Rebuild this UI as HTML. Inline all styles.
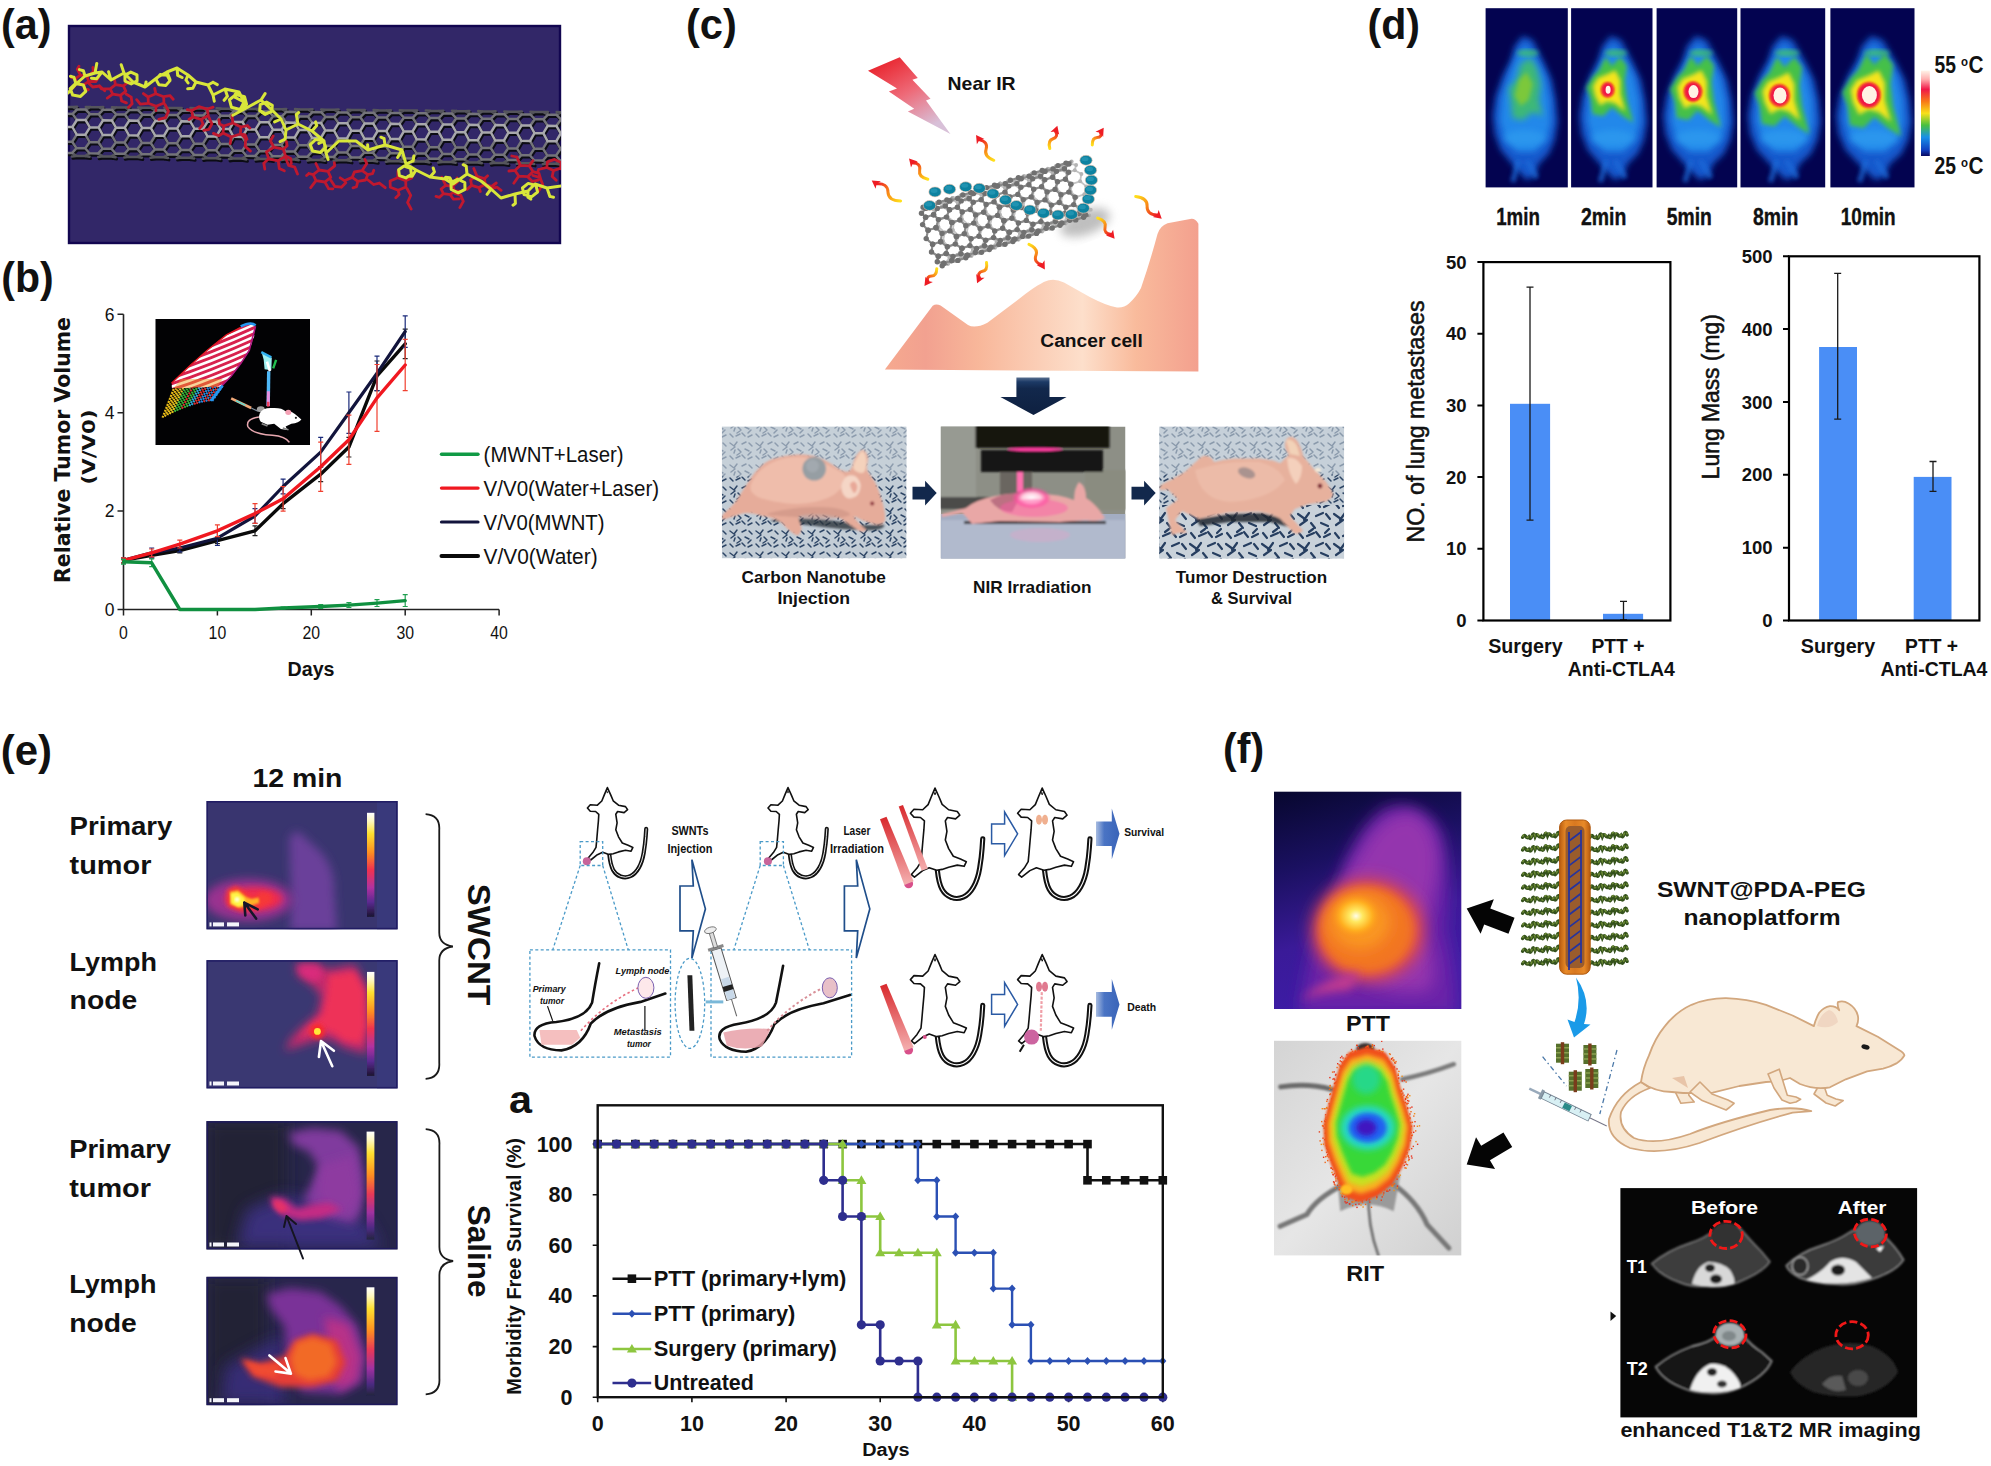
<!DOCTYPE html>
<html><head><meta charset="utf-8"><title>Figure</title>
<style>
html,body{margin:0;padding:0;background:#fff;}
svg{display:block;}
text{font-family:"Liberation Sans",sans-serif;fill:#111;}
.b{font-weight:bold;}
text.dj{font-family:"DejaVu Sans","Liberation Sans",sans-serif;}
</style></head><body>
<svg width="1991" height="1466" viewBox="0 0 1991 1466">
<defs>
<filter id="bl1" x="-10%" y="-10%" width="120%" height="120%"><feGaussianBlur stdDeviation="1"/></filter>
<filter id="bl2" x="-20%" y="-20%" width="140%" height="140%"><feGaussianBlur stdDeviation="2"/></filter>
<filter id="bl3" x="-20%" y="-20%" width="140%" height="140%"><feGaussianBlur stdDeviation="3"/></filter>
<filter id="bl5" x="-30%" y="-30%" width="160%" height="160%"><feGaussianBlur stdDeviation="5"/></filter>
<filter id="bl8" x="-40%" y="-40%" width="180%" height="180%"><feGaussianBlur stdDeviation="8"/></filter>
<filter id="bl12" x="-50%" y="-50%" width="200%" height="200%"><feGaussianBlur stdDeviation="12"/></filter>
<filter id="bl04" x="-5%" y="-5%" width="110%" height="110%"><feGaussianBlur stdDeviation="0.45"/></filter>
</defs>
<rect width="1991" height="1466" fill="#fff"/>
<g id="panel-a">
<text class="b" x="1.0" y="38.7" font-size="43" textLength="50.5" lengthAdjust="spacingAndGlyphs">(a)</text>
<clipPath id="clipA"><rect x="68" y="25" width="493" height="219"/></clipPath>
<rect x="68" y="25" width="493" height="219" fill="#322768"/>
<rect x="69" y="26" width="491" height="217" fill="none" stroke="#120650" stroke-width="2.4"/>
<g clip-path="url(#clipA)">
<path d="M59.6 109.3L64.0 106.9 M50.9 109.2L59.6 109.3 M50.9 109.2L46.5 106.7 M46.5 106.7L50.9 106.5 M64.0 106.9L59.6 106.6 M59.4 119.8L63.9 113.8 M50.7 119.7L59.4 119.8 M50.7 119.7L46.4 113.6 M46.4 113.6L50.9 109.2 M63.9 113.8L59.6 109.3 M59.2 134.4L63.7 126.9 M50.5 134.2L59.2 134.4 M50.5 134.2L46.3 126.7 M46.3 126.7L50.7 119.7 M63.7 126.9L59.4 119.8 M59.1 147.9L63.5 141.7 M50.3 147.8L59.1 147.9 M50.3 147.8L46.1 141.4 M46.1 141.4L50.5 134.2 M63.5 141.7L59.2 134.4 M59.0 155.6L63.3 152.8 M50.2 155.5L59.0 155.6 M50.2 155.5L45.9 152.5 M45.9 152.5L50.3 147.8 M63.3 152.8L59.1 147.9 M45.9 156.1L50.2 155.5 M63.3 156.4L59.0 155.6 M72.7 107.0L77.1 106.8 M64.0 106.9L72.7 107.0 M72.6 113.9L77.0 109.5 M63.9 113.8L72.6 113.9 M77.0 109.5L72.7 107.0 M72.4 127.0L76.9 120.0 M63.7 126.9L72.4 127.0 M76.9 120.0L72.6 113.9 M72.2 141.8L76.7 134.6 M63.5 141.7L72.2 141.8 M76.7 134.6L72.4 127.0 M72.1 153.0L76.5 148.2 M63.3 152.8L72.1 153.0 M76.5 148.2L72.2 141.8 M72.0 156.5L76.4 155.9 M76.4 155.9L72.1 153.0 M85.7 109.6L90.1 107.1 M77.0 109.5L85.7 109.6 M90.1 107.1L85.8 106.9 M85.6 120.1L90.0 114.1 M76.9 120.0L85.6 120.1 M90.0 114.1L85.7 109.6 M85.4 134.7L89.9 127.3 M76.7 134.6L85.4 134.7 M89.9 127.3L85.6 120.1 M85.2 148.3L89.7 142.1 M76.5 148.2L85.2 148.3 M89.7 142.1L85.4 134.7 M85.1 156.1L89.5 153.2 M76.4 155.9L85.1 156.1 M89.5 153.2L85.2 148.3 M89.5 156.8L85.1 156.1 M98.9 107.2L103.2 107.1 M90.1 107.1L98.9 107.2 M98.8 114.2L103.2 109.7 M90.0 114.1L98.8 114.2 M103.2 109.7L98.9 107.2 M98.6 127.4L103.0 120.3 M89.9 127.3L98.6 127.4 M103.0 120.3L98.8 114.2 M98.4 142.2L102.8 135.0 M89.7 142.1L98.4 142.2 M102.8 135.0L98.6 127.4 M98.2 153.4L102.7 148.6 M89.5 153.2L98.2 153.4 M102.7 148.6L98.4 142.2 M98.2 157.0L102.5 156.3 M102.5 156.3L98.2 153.4 M111.9 109.8L116.3 107.4 M103.2 109.7L111.9 109.8 M116.3 107.4L111.9 107.2 M111.8 120.4L116.2 114.4 M103.0 120.3L111.8 120.4 M116.2 114.4L111.9 109.8 M111.6 135.1L116.0 127.6 M102.8 135.0L111.6 135.1 M116.0 127.6L111.8 120.4 M111.4 148.7L115.8 142.4 M102.7 148.6L111.4 148.7 M115.8 142.4L111.6 135.1 M111.3 156.5L115.7 153.6 M102.5 156.3L111.3 156.5 M115.7 153.6L111.4 148.7 M115.6 157.2L111.3 156.5 M125.0 107.5L129.4 107.3 M116.3 107.4L125.0 107.5 M124.9 114.5L129.3 110.0 M116.2 114.4L124.9 114.5 M129.3 110.0L125.0 107.5 M124.7 127.7L129.2 120.6 M116.0 127.6L124.7 127.7 M129.2 120.6L124.9 114.5 M124.5 142.6L129.0 135.3 M115.8 142.4L124.5 142.6 M129.0 135.3L124.7 127.7 M124.4 153.8L128.8 149.0 M115.7 153.6L124.4 153.8 M128.8 149.0L124.5 142.6 M124.3 157.4L128.7 156.8 M128.7 156.8L124.4 153.8 M138.1 110.1L142.5 107.7 M129.3 110.0L138.1 110.1 M142.5 107.7L138.1 107.4 M137.9 120.7L142.4 114.7 M129.2 120.6L137.9 120.7 M142.4 114.7L138.1 110.1 M137.7 135.5L142.2 127.9 M129.0 135.3L137.7 135.5 M142.2 127.9L137.9 120.7 M137.5 149.1L142.0 142.8 M128.8 149.0L137.5 149.1 M142.0 142.8L137.7 135.5 M137.4 156.9L141.8 154.1 M128.7 156.8L137.4 156.9 M141.8 154.1L137.5 149.1 M141.8 157.7L137.4 156.9 M151.2 107.8L155.5 107.6 M142.5 107.7L151.2 107.8 M151.1 114.8L155.5 110.3 M142.4 114.7L151.1 114.8 M155.5 110.3L151.2 107.8 M150.9 128.1L155.4 120.9 M142.2 127.9L150.9 128.1 M155.4 120.9L151.1 114.8 M150.7 143.0L155.2 135.7 M142.0 142.8L150.7 143.0 M155.2 135.7L150.9 128.1 M150.5 154.2L155.0 149.4 M141.8 154.1L150.5 154.2 M155.0 149.4L150.7 143.0 M150.5 157.8L154.9 157.2 M154.9 157.2L150.5 154.2 M164.2 110.4L168.6 108.0 M155.5 110.3L164.2 110.4 M168.6 108.0L164.3 107.7 M164.1 121.0L168.5 115.0 M155.4 120.9L164.1 121.0 M168.5 115.0L164.2 110.4 M163.9 135.8L168.3 128.3 M155.2 135.7L163.9 135.8 M168.3 128.3L164.1 121.0 M163.7 149.5L168.1 143.2 M155.0 149.4L163.7 149.5 M168.1 143.2L163.9 135.8 M163.6 157.3L168.0 154.5 M154.9 157.2L163.6 157.3 M168.0 154.5L163.7 149.5 M167.9 158.1L163.6 157.3 M177.3 108.1L181.7 107.9 M168.6 108.0L177.3 108.1 M177.2 115.1L181.7 110.6 M168.5 115.0L177.2 115.1 M181.7 110.6L177.3 108.1 M177.1 128.4L181.5 121.3 M168.3 128.3L177.1 128.4 M181.5 121.3L177.2 115.1 M176.8 143.3L181.3 136.1 M168.1 143.2L176.8 143.3 M181.3 136.1L177.1 128.4 M176.7 154.6L181.1 149.8 M168.0 154.5L176.7 154.6 M181.1 149.8L176.8 143.3 M176.6 158.2L181.0 157.6 M181.0 157.6L176.7 154.6 M190.4 110.7L194.8 108.3 M181.7 110.6L190.4 110.7 M194.8 108.3L190.4 108.0 M190.2 121.4L194.7 115.3 M181.5 121.3L190.2 121.4 M194.7 115.3L190.4 110.7 M190.0 136.2L194.5 128.6 M181.3 136.1L190.0 136.2 M194.5 128.6L190.2 121.4 M189.8 149.9L194.3 143.6 M181.1 149.8L189.8 149.9 M194.3 143.6L190.0 136.2 M189.7 157.8L194.1 154.9 M181.0 157.6L189.7 157.8 M194.1 154.9L189.8 149.9 M194.1 158.5L189.7 157.8 M203.5 108.4L207.8 108.2 M194.8 108.3L203.5 108.4 M203.4 115.4L207.8 110.9 M194.7 115.3L203.4 115.4 M207.8 110.9L203.5 108.4 M203.2 128.7L207.7 121.6 M194.5 128.6L203.2 128.7 M207.7 121.6L203.4 115.4 M203.0 143.7L207.5 136.4 M194.3 143.6L203.0 143.7 M207.5 136.4L203.2 128.7 M202.9 155.0L207.3 150.2 M194.1 154.9L202.9 155.0 M207.3 150.2L203.0 143.7 M202.8 158.7L207.2 158.0 M207.2 158.0L202.9 155.0 M216.5 111.0L220.9 108.6 M207.8 110.9L216.5 111.0 M220.9 108.6L216.6 108.3 M216.4 121.7L220.8 115.6 M207.7 121.6L216.4 121.7 M220.8 115.6L216.5 111.0 M216.2 136.6L220.6 129.0 M207.5 136.4L216.2 136.6 M220.6 129.0L216.4 121.7 M216.0 150.3L220.4 144.0 M207.3 150.2L216.0 150.3 M220.4 144.0L216.2 136.6 M215.9 158.2L220.3 155.3 M207.2 158.0L215.9 158.2 M220.3 155.3L216.0 150.3 M220.2 159.0L215.9 158.2 M229.6 108.7L234.0 108.5 M220.9 108.6L229.6 108.7 M229.5 115.7L234.0 111.2 M220.8 115.6L229.5 115.7 M234.0 111.2L229.6 108.7 M229.4 129.1L233.8 121.9 M220.6 129.0L229.4 129.1 M233.8 121.9L229.5 115.7 M229.2 144.1L233.6 136.8 M220.4 144.0L229.2 144.1 M233.6 136.8L229.4 129.1 M229.0 155.5L233.4 150.6 M220.3 155.3L229.0 155.5 M233.4 150.6L229.2 144.1 M229.0 159.1L233.3 158.5 M233.3 158.5L229.0 155.5 M242.7 111.3L247.1 108.8 M234.0 111.2L242.7 111.3 M247.1 108.8L242.7 108.6 M242.5 122.0L247.0 115.9 M233.8 121.9L242.5 122.0 M247.0 115.9L242.7 111.3 M242.3 136.9L246.8 129.3 M233.6 136.8L242.3 136.9 M246.8 129.3L242.5 122.0 M242.2 150.8L246.6 144.4 M233.4 150.6L242.2 150.8 M246.6 144.4L242.3 136.9 M242.0 158.6L246.4 155.7 M233.3 158.5L242.0 158.6 M246.4 155.7L242.2 150.8 M246.4 159.4L242.0 158.6 M255.8 108.9L260.2 108.8 M247.1 108.8L255.8 108.9 M255.7 116.0L260.1 111.5 M247.0 115.9L255.7 116.0 M260.1 111.5L255.8 108.9 M255.5 129.4L260.0 122.2 M246.8 129.3L255.5 129.4 M260.0 122.2L255.7 116.0 M255.3 144.5L259.8 137.2 M246.6 144.4L255.3 144.5 M259.8 137.2L255.5 129.4 M255.2 155.9L259.6 151.0 M246.4 155.7L255.2 155.9 M259.6 151.0L255.3 144.5 M255.1 159.5L259.5 158.9 M259.5 158.9L255.2 155.9 M268.8 111.6L273.2 109.1 M260.1 111.5L268.8 111.6 M273.2 109.1L268.9 108.9 M268.7 122.3L273.1 116.2 M260.0 122.2L268.7 122.3 M273.1 116.2L268.8 111.6 M268.5 137.3L273.0 129.7 M259.8 137.2L268.5 137.3 M273.0 129.7L268.7 122.3 M268.3 151.2L272.8 144.8 M259.6 151.0L268.3 151.2 M272.8 144.8L268.5 137.3 M268.2 159.0L272.6 156.2 M259.5 158.9L268.2 159.0 M272.6 156.2L268.3 151.2 M272.6 159.8L268.2 159.0 M282.0 109.2L286.3 109.0 M273.2 109.1L282.0 109.2 M281.9 116.3L286.3 111.8 M273.1 116.2L281.9 116.3 M286.3 111.8L282.0 109.2 M281.7 129.8L286.1 122.5 M273.0 129.7L281.7 129.8 M286.1 122.5L281.9 116.3 M281.5 144.9L285.9 137.5 M272.8 144.8L281.5 144.9 M285.9 137.5L281.7 129.8 M281.3 156.3L285.7 151.4 M272.6 156.2L281.3 156.3 M285.7 151.4L281.5 144.9 M281.3 160.0L285.6 159.3 M285.6 159.3L281.3 156.3 M295.0 111.9L299.4 109.4 M286.3 111.8L295.0 111.9 M299.4 109.4L295.0 109.1 M294.9 122.7L299.3 116.5 M286.1 122.5L294.9 122.7 M299.3 116.5L295.0 111.9 M294.7 137.6L299.1 130.0 M285.9 137.5L294.7 137.6 M299.1 130.0L294.9 122.7 M294.5 151.6L298.9 145.1 M285.7 151.4L294.5 151.6 M298.9 145.1L294.7 137.6 M294.4 159.5L298.8 156.6 M285.6 159.3L294.4 159.5 M298.8 156.6L294.5 151.6 M298.7 160.2L294.4 159.5 M308.1 109.5L312.5 109.3 M299.4 109.4L308.1 109.5 M308.0 116.6L312.4 112.1 M299.3 116.5L308.0 116.6 M312.4 112.1L308.1 109.5 M307.8 130.1L312.3 122.9 M299.1 130.0L307.8 130.1 M312.3 122.9L308.0 116.6 M307.6 145.3L312.1 137.9 M298.9 145.1L307.6 145.3 M312.1 137.9L307.8 130.1 M307.5 156.7L311.9 151.8 M298.8 156.6L307.5 156.7 M311.9 151.8L307.6 145.3 M307.4 160.4L311.8 159.7 M311.8 159.7L307.5 156.7 M321.2 112.2L325.6 109.7 M312.4 112.1L321.2 112.2 M325.6 109.7L321.2 109.4 M321.0 123.0L325.5 116.8 M312.3 122.9L321.0 123.0 M325.5 116.8L321.2 112.2 M320.8 138.0L325.3 130.3 M312.1 137.9L320.8 138.0 M325.3 130.3L321.0 123.0 M320.6 152.0L325.1 145.5 M311.9 151.8L320.6 152.0 M325.1 145.5L320.8 138.0 M320.5 159.9L324.9 157.0 M311.8 159.7L320.5 159.9 M324.9 157.0L320.6 152.0 M324.9 160.7L320.5 159.9 M334.3 109.8L338.6 109.6 M325.6 109.7L334.3 109.8 M334.2 116.9L338.6 112.4 M325.5 116.8L334.2 116.9 M338.6 112.4L334.3 109.8 M334.0 130.5L338.5 123.2 M325.3 130.3L334.0 130.5 M338.5 123.2L334.2 116.9 M333.8 145.7L338.3 138.3 M325.1 145.5L333.8 145.7 M338.3 138.3L334.0 130.5 M333.6 157.1L338.1 152.2 M324.9 157.0L333.6 157.1 M338.1 152.2L333.8 145.7 M333.6 160.8L338.0 160.2 M338.0 160.2L333.6 157.1 M347.3 112.5L351.7 110.0 M338.6 112.4L347.3 112.5 M351.7 110.0L347.4 109.7 M347.2 123.3L351.6 117.1 M338.5 123.2L347.2 123.3 M351.6 117.1L347.3 112.5 M347.0 138.4L351.4 130.7 M338.3 138.3L347.0 138.4 M351.4 130.7L347.2 123.3 M346.8 152.4L351.2 145.9 M338.1 152.2L346.8 152.4 M351.2 145.9L347.0 138.4 M346.7 160.3L351.1 157.4 M338.0 160.2L346.7 160.3 M351.1 157.4L346.8 152.4 M351.0 161.1L346.7 160.3 M360.4 110.1L364.8 109.9 M351.7 110.0L360.4 110.1 M360.3 117.2L364.8 112.7 M351.6 117.1L360.3 117.2 M364.8 112.7L360.4 110.1 M360.2 130.8L364.6 123.5 M351.4 130.7L360.2 130.8 M364.6 123.5L360.3 117.2 M359.9 146.0L364.4 138.6 M351.2 145.9L359.9 146.0 M364.4 138.6L360.2 130.8 M359.8 157.5L364.2 152.6 M351.1 157.4L359.8 157.5 M364.2 152.6L359.9 146.0 M359.7 161.2L364.1 160.6 M364.1 160.6L359.8 157.5 M373.5 112.7L377.9 110.3 M364.8 112.7L373.5 112.7 M377.9 110.3L373.5 110.0 M373.3 123.6L377.8 117.4 M364.6 123.5L373.3 123.6 M377.8 117.4L373.5 112.7 M373.1 138.7L377.6 131.0 M364.4 138.6L373.1 138.7 M377.6 131.0L373.3 123.6 M372.9 152.8L377.4 146.3 M364.2 152.6L372.9 152.8 M377.4 146.3L373.1 138.7 M372.8 160.7L377.2 157.8 M364.1 160.6L372.8 160.7 M377.2 157.8L372.9 152.8 M377.2 161.5L372.8 160.7 M386.6 110.4L391.0 110.2 M377.9 110.3L386.6 110.4 M386.5 117.5L390.9 112.9 M377.8 117.4L386.5 117.5 M390.9 112.9L386.6 110.4 M386.3 131.1L390.8 123.8 M377.6 131.0L386.3 131.1 M390.8 123.8L386.5 117.5 M386.1 146.4L390.6 139.0 M377.4 146.3L386.1 146.4 M390.6 139.0L386.3 131.1 M385.9 158.0L390.4 153.0 M377.2 157.8L385.9 158.0 M390.4 153.0L386.1 146.4 M385.9 161.7L390.3 161.0 M390.3 161.0L385.9 158.0 M399.6 113.0L404.0 110.5 M390.9 112.9L399.6 113.0 M404.0 110.5L399.7 110.3 M399.5 123.9L403.9 117.7 M390.8 123.8L399.5 123.9 M403.9 117.7L399.6 113.0 M399.3 139.1L403.8 131.4 M390.6 139.0L399.3 139.1 M403.8 131.4L399.5 123.9 M399.1 153.2L403.5 146.7 M390.4 153.0L399.1 153.2 M403.5 146.7L399.3 139.1 M399.0 161.2L403.4 158.2 M390.3 161.0L399.0 161.2 M403.4 158.2L399.1 153.2 M403.3 162.0L399.0 161.2 M412.8 110.6L417.1 110.5 M404.0 110.5L412.8 110.6 M412.7 117.8L417.1 113.2 M403.9 117.7L412.7 117.8 M417.1 113.2L412.8 110.6 M412.5 131.5L416.9 124.2 M403.8 131.4L412.5 131.5 M416.9 124.2L412.7 117.8 M412.3 146.8L416.7 139.3 M403.5 146.7L412.3 146.8 M416.7 139.3L412.5 131.5 M412.1 158.4L416.5 153.4 M403.4 158.2L412.1 158.4 M416.5 153.4L412.3 146.8 M412.1 162.1L416.4 161.5 M416.4 161.5L412.1 158.4 M425.8 113.3L430.2 110.8 M417.1 113.2L425.8 113.3 M430.2 110.8L425.8 110.6 M425.7 124.3L430.1 118.0 M416.9 124.2L425.7 124.3 M430.1 118.0L425.8 113.3 M425.4 139.5L429.9 131.7 M416.7 139.3L425.4 139.5 M429.9 131.7L425.7 124.3 M425.3 153.6L429.7 147.1 M416.5 153.4L425.3 153.6 M429.7 147.1L425.4 139.5 M425.1 161.6L429.5 158.7 M416.4 161.5L425.1 161.6 M429.5 158.7L425.3 153.6 M429.5 162.4L425.1 161.6 M438.9 110.9L443.3 110.7 M430.2 110.8L438.9 110.9 M438.8 118.1L443.2 113.5 M430.1 118.0L438.8 118.1 M443.2 113.5L438.9 110.9 M438.6 131.8L443.1 124.5 M429.9 131.7L438.6 131.8 M443.1 124.5L438.8 118.1 M438.4 147.2L442.9 139.7 M429.7 147.1L438.4 147.2 M442.9 139.7L438.6 131.8 M438.3 158.8L442.7 153.8 M429.5 158.7L438.3 158.8 M442.7 153.8L438.4 147.2 M438.2 162.5L442.6 161.9 M442.6 161.9L438.3 158.8 M452.0 113.6L456.4 111.1 M443.2 113.5L452.0 113.6 M456.4 111.1L452.0 110.8 M451.8 124.6L456.3 118.3 M443.1 124.5L451.8 124.6 M456.3 118.3L452.0 113.6 M451.6 139.8L456.1 132.1 M442.9 139.7L451.6 139.8 M456.1 132.1L451.8 124.6 M451.4 154.0L455.9 147.5 M442.7 153.8L451.4 154.0 M455.9 147.5L451.6 139.8 M451.3 162.0L455.7 159.1 M442.6 161.9L451.3 162.0 M455.7 159.1L451.4 154.0 M455.7 162.8L451.3 162.0 M465.1 111.2L469.4 111.0 M456.4 111.1L465.1 111.2 M465.0 118.4L469.4 113.8 M456.3 118.3L465.0 118.4 M469.4 113.8L465.1 111.2 M464.8 132.2L469.2 124.8 M456.1 132.1L464.8 132.2 M469.2 124.8L465.0 118.4 M464.6 147.6L469.0 140.1 M455.9 147.5L464.6 147.6 M469.0 140.1L464.8 132.2 M464.4 159.2L468.8 154.3 M455.7 159.1L464.4 159.2 M468.8 154.3L464.6 147.6 M464.4 162.9L468.7 162.3 M468.7 162.3L464.4 159.2 M478.1 113.9L482.5 111.4 M469.4 113.8L478.1 113.9 M482.5 111.4L478.2 111.1 M478.0 124.9L482.4 118.6 M469.2 124.8L478.0 124.9 M482.4 118.6L478.1 113.9 M477.8 140.2L482.2 132.4 M469.0 140.1L477.8 140.2 M482.2 132.4L478.0 124.9 M477.6 154.4L482.0 147.8 M468.8 154.3L477.6 154.4 M482.0 147.8L477.8 140.2 M477.5 162.4L481.9 159.5 M468.7 162.3L477.5 162.4 M481.9 159.5L477.6 154.4 M481.8 163.2L477.5 162.4 M491.2 111.5L495.6 111.3 M482.5 111.4L491.2 111.5 M491.1 118.7L495.6 114.1 M482.4 118.6L491.1 118.7 M495.6 114.1L491.2 111.5 M490.9 132.5L495.4 125.1 M482.2 132.4L490.9 132.5 M495.4 125.1L491.1 118.7 M490.7 148.0L495.2 140.4 M482.0 147.8L490.7 148.0 M495.2 140.4L490.9 132.5 M490.6 159.6L495.0 154.7 M481.9 159.5L490.6 159.6 M495.0 154.7L490.7 148.0 M490.5 163.4L494.9 162.7 M494.9 162.7L490.6 159.6 M504.3 114.2L508.7 111.7 M495.6 114.1L504.3 114.2 M508.7 111.7L504.3 111.4 M504.1 125.2L508.6 118.9 M495.4 125.1L504.1 125.2 M508.6 118.9L504.3 114.2 M503.9 140.6L508.4 132.7 M495.2 140.4L503.9 140.6 M508.4 132.7L504.1 125.2 M503.7 154.8L508.2 148.2 M495.0 154.7L503.7 154.8 M508.2 148.2L503.9 140.6 M503.6 162.9L508.0 159.9 M494.9 162.7L503.6 162.9 M508.0 159.9L503.7 154.8 M508.0 163.7L503.6 162.9 M517.4 111.8L521.8 111.6 M508.7 111.7L517.4 111.8 M517.3 119.0L521.7 114.4 M508.6 118.9L517.3 119.0 M521.7 114.4L517.4 111.8 M517.1 132.8L521.6 125.4 M508.4 132.7L517.1 132.8 M521.6 125.4L517.3 119.0 M516.9 148.4L521.4 140.8 M508.2 148.2L516.9 148.4 M521.4 140.8L517.1 132.8 M516.7 160.1L521.2 155.1 M508.0 159.9L516.7 160.1 M521.2 155.1L516.9 148.4 M516.7 163.8L521.1 163.2 M521.1 163.2L516.7 160.1 M530.4 114.5L534.8 112.0 M521.7 114.4L530.4 114.5 M534.8 112.0L530.5 111.7 M530.3 125.5L534.7 119.2 M521.6 125.4L530.3 125.5 M534.7 119.2L530.4 114.5 M530.1 140.9L534.5 133.1 M521.4 140.8L530.1 140.9 M534.5 133.1L530.3 125.5 M529.9 155.2L534.3 148.6 M521.2 155.1L529.9 155.2 M534.3 148.6L530.1 140.9 M529.8 163.3L534.2 160.3 M521.1 163.2L529.8 163.3 M534.2 160.3L529.9 155.2 M534.1 164.1L529.8 163.3 M543.5 112.1L547.9 111.9 M534.8 112.0L543.5 112.1 M543.4 119.3L547.9 114.7 M534.7 119.2L543.4 119.3 M547.9 114.7L543.5 112.1 M543.3 133.2L547.7 125.8 M534.5 133.1L543.3 133.2 M547.7 125.8L543.4 119.3 M543.0 148.7L547.5 141.2 M534.3 148.6L543.0 148.7 M547.5 141.2L543.3 133.2 M542.9 160.5L547.3 155.5 M534.2 160.3L542.9 160.5 M547.3 155.5L543.0 148.7 M542.8 164.2L547.2 163.6 M547.2 163.6L542.9 160.5 M556.6 114.8L561.0 112.3 M547.9 114.7L556.6 114.8 M561.0 112.3L556.6 112.0 M556.4 125.9L560.9 119.5 M547.7 125.8L556.4 125.9 M560.9 119.5L556.6 114.8 M556.2 141.3L560.7 133.4 M547.5 141.2L556.2 141.3 M560.7 133.4L556.4 125.9 M556.0 155.6L560.5 149.0 M547.3 155.5L556.0 155.6 M560.5 149.0L556.2 141.3 M555.9 163.7L560.3 160.8 M547.2 163.6L555.9 163.7 M560.3 160.8L556.0 155.6 M560.3 164.5L555.9 163.7 M569.7 112.3L574.1 112.2 M561.0 112.3L569.7 112.3 M569.6 119.6L574.0 115.0 M560.9 119.5L569.6 119.6 M574.0 115.0L569.7 112.3 M569.4 133.5L573.9 126.1 M560.7 133.4L569.4 133.5 M573.9 126.1L569.6 119.6 M569.2 149.1L573.7 141.5 M560.5 149.0L569.2 149.1 M573.7 141.5L569.4 133.5 M569.0 160.9L573.5 155.9 M560.3 160.8L569.0 160.9 M573.5 155.9L569.2 149.1 M569.0 164.7L573.4 164.0 M573.4 164.0L569.0 160.9 M582.8 115.1L587.1 112.5 M574.0 115.0L582.8 115.1 M587.1 112.5L582.8 112.3 M582.6 126.2L587.0 119.8 M573.9 126.1L582.6 126.2 M587.0 119.8L582.8 115.1 M582.4 141.7L586.9 133.8 M573.7 141.5L582.4 141.7 M586.9 133.8L582.6 126.2 M582.2 156.0L586.6 149.4 M573.5 155.9L582.2 156.0 M586.6 149.4L582.4 141.7 M582.1 164.2L586.5 161.2 M573.4 164.0L582.1 164.2 M586.5 161.2L582.2 156.0 M586.4 164.9L582.1 164.2 M595.9 112.6L600.2 112.4 M587.1 112.5L595.9 112.6 M595.8 119.9L600.2 115.3 M587.0 119.8L595.8 119.9 M600.2 115.3L595.9 112.6 M595.6 133.9L600.0 126.4 M586.9 133.8L595.6 133.9 M600.0 126.4L595.8 119.9 M595.4 149.5L599.8 141.9 M586.6 149.4L595.4 149.5 M599.8 141.9L595.6 133.9 M595.2 161.3L599.6 156.3 M586.5 161.2L595.2 161.3 M599.6 156.3L595.4 149.5 M595.2 165.1L599.5 164.4 M599.5 164.4L595.2 161.3 M613.3 112.8L608.9 115.4 M600.2 115.3L608.9 115.4 M608.9 112.5L613.3 112.8 M613.2 120.1L608.8 126.5 M600.0 126.4L608.8 126.5 M608.9 115.4L613.2 120.1 M613.0 134.1L608.5 142.0 M599.8 141.9L608.5 142.0 M608.8 126.5L613.0 134.1 M612.8 149.8L608.4 156.4 M599.6 156.3L608.4 156.4 M608.5 142.0L612.8 149.8 M612.6 161.6L608.2 164.6 M599.5 164.4L608.2 164.6 M608.4 156.4L612.6 161.6 M608.2 164.6L612.6 165.4" stroke="#0c0c14" stroke-width="3" fill="none" stroke-linecap="round" transform="translate(1,1.8)"/>
<path d="M59.6 109.3L64.0 106.9 M50.9 109.2L46.5 106.7 M46.5 106.7L50.9 106.5 M64.0 106.9L59.6 106.6 M59.0 155.6L63.3 152.8 M50.2 155.5L59.0 155.6 M50.2 155.5L45.9 152.5 M45.9 156.1L50.2 155.5 M63.3 156.4L59.0 155.6 M72.7 107.0L77.1 106.8 M64.0 106.9L72.7 107.0 M77.0 109.5L72.7 107.0 M72.0 156.5L76.4 155.9 M76.4 155.9L72.1 153.0 M85.7 109.6L90.1 107.1 M90.1 107.1L85.8 106.9 M85.1 156.1L89.5 153.2 M76.4 155.9L85.1 156.1 M89.5 156.8L85.1 156.1 M98.9 107.2L103.2 107.1 M90.1 107.1L98.9 107.2 M103.2 109.7L98.9 107.2 M98.2 157.0L102.5 156.3 M102.5 156.3L98.2 153.4 M111.9 109.8L116.3 107.4 M116.3 107.4L111.9 107.2 M111.3 156.5L115.7 153.6 M102.5 156.3L111.3 156.5 M115.6 157.2L111.3 156.5 M125.0 107.5L129.4 107.3 M116.3 107.4L125.0 107.5 M129.3 110.0L125.0 107.5 M124.3 157.4L128.7 156.8 M128.7 156.8L124.4 153.8 M138.1 110.1L142.5 107.7 M142.5 107.7L138.1 107.4 M137.4 156.9L141.8 154.1 M128.7 156.8L137.4 156.9 M141.8 157.7L137.4 156.9 M151.2 107.8L155.5 107.6 M142.5 107.7L151.2 107.8 M155.5 110.3L151.2 107.8 M150.5 157.8L154.9 157.2 M154.9 157.2L150.5 154.2 M164.2 110.4L168.6 108.0 M168.6 108.0L164.3 107.7 M163.6 157.3L168.0 154.5 M154.9 157.2L163.6 157.3 M167.9 158.1L163.6 157.3 M177.3 108.1L181.7 107.9 M168.6 108.0L177.3 108.1 M181.7 110.6L177.3 108.1 M176.6 158.2L181.0 157.6 M181.0 157.6L176.7 154.6 M190.4 110.7L194.8 108.3 M194.8 108.3L190.4 108.0 M189.7 157.8L194.1 154.9 M181.0 157.6L189.7 157.8 M194.1 158.5L189.7 157.8 M203.5 108.4L207.8 108.2 M194.8 108.3L203.5 108.4 M207.8 110.9L203.5 108.4 M202.8 158.7L207.2 158.0 M207.2 158.0L202.9 155.0 M216.5 111.0L220.9 108.6 M220.9 108.6L216.6 108.3 M215.9 158.2L220.3 155.3 M207.2 158.0L215.9 158.2 M220.2 159.0L215.9 158.2 M229.6 108.7L234.0 108.5 M220.9 108.6L229.6 108.7 M234.0 111.2L229.6 108.7 M229.0 159.1L233.3 158.5 M233.3 158.5L229.0 155.5 M242.7 111.3L247.1 108.8 M247.1 108.8L242.7 108.6 M242.0 158.6L246.4 155.7 M233.3 158.5L242.0 158.6 M246.4 159.4L242.0 158.6 M255.8 108.9L260.2 108.8 M247.1 108.8L255.8 108.9 M260.1 111.5L255.8 108.9 M255.1 159.5L259.5 158.9 M259.5 158.9L255.2 155.9 M268.8 111.6L273.2 109.1 M273.2 109.1L268.9 108.9 M268.2 159.0L272.6 156.2 M259.5 158.9L268.2 159.0 M272.6 159.8L268.2 159.0 M282.0 109.2L286.3 109.0 M273.2 109.1L282.0 109.2 M286.3 111.8L282.0 109.2 M281.3 160.0L285.6 159.3 M285.6 159.3L281.3 156.3 M295.0 111.9L299.4 109.4 M299.4 109.4L295.0 109.1 M294.4 159.5L298.8 156.6 M285.6 159.3L294.4 159.5 M298.7 160.2L294.4 159.5 M308.1 109.5L312.5 109.3 M299.4 109.4L308.1 109.5 M312.4 112.1L308.1 109.5 M307.4 160.4L311.8 159.7 M311.8 159.7L307.5 156.7 M321.2 112.2L325.6 109.7 M325.6 109.7L321.2 109.4 M320.5 159.9L324.9 157.0 M311.8 159.7L320.5 159.9 M324.9 160.7L320.5 159.9 M334.3 109.8L338.6 109.6 M325.6 109.7L334.3 109.8 M338.6 112.4L334.3 109.8 M333.6 160.8L338.0 160.2 M338.0 160.2L333.6 157.1 M347.3 112.5L351.7 110.0 M351.7 110.0L347.4 109.7 M346.7 160.3L351.1 157.4 M338.0 160.2L346.7 160.3 M351.0 161.1L346.7 160.3 M360.4 110.1L364.8 109.9 M351.7 110.0L360.4 110.1 M364.8 112.7L360.4 110.1 M359.7 161.2L364.1 160.6 M364.1 160.6L359.8 157.5 M373.5 112.7L377.9 110.3 M377.9 110.3L373.5 110.0 M372.8 160.7L377.2 157.8 M364.1 160.6L372.8 160.7 M377.2 161.5L372.8 160.7 M386.6 110.4L391.0 110.2 M377.9 110.3L386.6 110.4 M390.9 112.9L386.6 110.4 M385.9 161.7L390.3 161.0 M390.3 161.0L385.9 158.0 M399.6 113.0L404.0 110.5 M404.0 110.5L399.7 110.3 M399.0 161.2L403.4 158.2 M390.3 161.0L399.0 161.2 M403.3 162.0L399.0 161.2 M412.8 110.6L417.1 110.5 M404.0 110.5L412.8 110.6 M417.1 113.2L412.8 110.6 M412.1 162.1L416.4 161.5 M416.4 161.5L412.1 158.4 M425.8 113.3L430.2 110.8 M430.2 110.8L425.8 110.6 M425.1 161.6L429.5 158.7 M416.4 161.5L425.1 161.6 M429.5 162.4L425.1 161.6 M438.9 110.9L443.3 110.7 M430.2 110.8L438.9 110.9 M443.2 113.5L438.9 110.9 M438.2 162.5L442.6 161.9 M442.6 161.9L438.3 158.8 M452.0 113.6L456.4 111.1 M456.4 111.1L452.0 110.8 M451.3 162.0L455.7 159.1 M442.6 161.9L451.3 162.0 M455.7 162.8L451.3 162.0 M465.1 111.2L469.4 111.0 M456.4 111.1L465.1 111.2 M469.4 113.8L465.1 111.2 M464.4 162.9L468.7 162.3 M468.7 162.3L464.4 159.2 M478.1 113.9L482.5 111.4 M482.5 111.4L478.2 111.1 M477.5 162.4L481.9 159.5 M468.7 162.3L477.5 162.4 M481.8 163.2L477.5 162.4 M491.2 111.5L495.6 111.3 M482.5 111.4L491.2 111.5 M495.6 114.1L491.2 111.5 M490.5 163.4L494.9 162.7 M494.9 162.7L490.6 159.6 M504.3 114.2L508.7 111.7 M508.7 111.7L504.3 111.4 M503.6 162.9L508.0 159.9 M494.9 162.7L503.6 162.9 M508.0 163.7L503.6 162.9 M517.4 111.8L521.8 111.6 M508.7 111.7L517.4 111.8 M521.7 114.4L517.4 111.8 M516.7 163.8L521.1 163.2 M521.1 163.2L516.7 160.1 M530.4 114.5L534.8 112.0 M534.8 112.0L530.5 111.7 M529.8 163.3L534.2 160.3 M521.1 163.2L529.8 163.3 M534.1 164.1L529.8 163.3 M543.5 112.1L547.9 111.9 M534.8 112.0L543.5 112.1 M547.9 114.7L543.5 112.1 M542.8 164.2L547.2 163.6 M547.2 163.6L542.9 160.5 M556.6 114.8L561.0 112.3 M561.0 112.3L556.6 112.0 M555.9 163.7L560.3 160.8 M547.2 163.6L555.9 163.7 M560.3 164.5L555.9 163.7 M569.7 112.3L574.1 112.2 M561.0 112.3L569.7 112.3 M574.0 115.0L569.7 112.3 M569.0 164.7L573.4 164.0 M573.4 164.0L569.0 160.9 M582.8 115.1L587.1 112.5 M587.1 112.5L582.8 112.3 M582.1 164.2L586.5 161.2 M573.4 164.0L582.1 164.2 M586.4 164.9L582.1 164.2 M595.9 112.6L600.2 112.4 M587.1 112.5L595.9 112.6 M600.2 115.3L595.9 112.6 M595.2 165.1L599.5 164.4 M599.5 164.4L595.2 161.3 M613.3 112.8L608.9 115.4 M608.9 112.5L613.3 112.8 M612.6 161.6L608.2 164.6 M599.5 164.4L608.2 164.6 M608.2 164.6L612.6 165.4" stroke="#55555c" stroke-width="2.5" fill="none" stroke-linecap="round"/>
<path d="M50.9 109.2L59.6 109.3 M59.4 119.8L63.9 113.8 M50.7 119.7L46.4 113.6 M46.4 113.6L50.9 109.2 M63.9 113.8L59.6 109.3 M59.1 147.9L63.5 141.7 M50.3 147.8L59.1 147.9 M50.3 147.8L46.1 141.4 M46.1 141.4L50.5 134.2 M63.5 141.7L59.2 134.4 M45.9 152.5L50.3 147.8 M63.3 152.8L59.1 147.9 M72.6 113.9L77.0 109.5 M63.9 113.8L72.6 113.9 M76.9 120.0L72.6 113.9 M72.2 141.8L76.7 134.6 M63.5 141.7L72.2 141.8 M72.1 153.0L76.5 148.2 M63.3 152.8L72.1 153.0 M76.5 148.2L72.2 141.8 M77.0 109.5L85.7 109.6 M85.6 120.1L90.0 114.1 M90.0 114.1L85.7 109.6 M85.2 148.3L89.7 142.1 M76.5 148.2L85.2 148.3 M89.7 142.1L85.4 134.7 M89.5 153.2L85.2 148.3 M98.8 114.2L103.2 109.7 M90.0 114.1L98.8 114.2 M103.0 120.3L98.8 114.2 M98.4 142.2L102.8 135.0 M89.7 142.1L98.4 142.2 M98.2 153.4L102.7 148.6 M89.5 153.2L98.2 153.4 M102.7 148.6L98.4 142.2 M103.2 109.7L111.9 109.8 M111.8 120.4L116.2 114.4 M116.2 114.4L111.9 109.8 M111.4 148.7L115.8 142.4 M102.7 148.6L111.4 148.7 M115.8 142.4L111.6 135.1 M115.7 153.6L111.4 148.7 M124.9 114.5L129.3 110.0 M116.2 114.4L124.9 114.5 M129.2 120.6L124.9 114.5 M124.5 142.6L129.0 135.3 M115.8 142.4L124.5 142.6 M124.4 153.8L128.8 149.0 M115.7 153.6L124.4 153.8 M128.8 149.0L124.5 142.6 M129.3 110.0L138.1 110.1 M137.9 120.7L142.4 114.7 M142.4 114.7L138.1 110.1 M137.5 149.1L142.0 142.8 M128.8 149.0L137.5 149.1 M142.0 142.8L137.7 135.5 M141.8 154.1L137.5 149.1 M151.1 114.8L155.5 110.3 M142.4 114.7L151.1 114.8 M155.4 120.9L151.1 114.8 M150.7 143.0L155.2 135.7 M142.0 142.8L150.7 143.0 M150.5 154.2L155.0 149.4 M141.8 154.1L150.5 154.2 M155.0 149.4L150.7 143.0 M155.5 110.3L164.2 110.4 M164.1 121.0L168.5 115.0 M168.5 115.0L164.2 110.4 M163.7 149.5L168.1 143.2 M155.0 149.4L163.7 149.5 M168.1 143.2L163.9 135.8 M168.0 154.5L163.7 149.5 M177.2 115.1L181.7 110.6 M168.5 115.0L177.2 115.1 M181.5 121.3L177.2 115.1 M176.8 143.3L181.3 136.1 M168.1 143.2L176.8 143.3 M176.7 154.6L181.1 149.8 M168.0 154.5L176.7 154.6 M181.1 149.8L176.8 143.3 M181.7 110.6L190.4 110.7 M190.2 121.4L194.7 115.3 M194.7 115.3L190.4 110.7 M189.8 149.9L194.3 143.6 M181.1 149.8L189.8 149.9 M194.3 143.6L190.0 136.2 M194.1 154.9L189.8 149.9 M203.4 115.4L207.8 110.9 M194.7 115.3L203.4 115.4 M207.7 121.6L203.4 115.4 M203.0 143.7L207.5 136.4 M194.3 143.6L203.0 143.7 M202.9 155.0L207.3 150.2 M194.1 154.9L202.9 155.0 M207.3 150.2L203.0 143.7 M207.8 110.9L216.5 111.0 M216.4 121.7L220.8 115.6 M220.8 115.6L216.5 111.0 M216.0 150.3L220.4 144.0 M207.3 150.2L216.0 150.3 M220.4 144.0L216.2 136.6 M220.3 155.3L216.0 150.3 M229.5 115.7L234.0 111.2 M220.8 115.6L229.5 115.7 M233.8 121.9L229.5 115.7 M229.2 144.1L233.6 136.8 M220.4 144.0L229.2 144.1 M229.0 155.5L233.4 150.6 M220.3 155.3L229.0 155.5 M233.4 150.6L229.2 144.1 M234.0 111.2L242.7 111.3 M242.5 122.0L247.0 115.9 M247.0 115.9L242.7 111.3 M242.2 150.8L246.6 144.4 M233.4 150.6L242.2 150.8 M246.6 144.4L242.3 136.9 M246.4 155.7L242.2 150.8 M255.7 116.0L260.1 111.5 M247.0 115.9L255.7 116.0 M260.0 122.2L255.7 116.0 M255.3 144.5L259.8 137.2 M246.6 144.4L255.3 144.5 M255.2 155.9L259.6 151.0 M246.4 155.7L255.2 155.9 M259.6 151.0L255.3 144.5 M260.1 111.5L268.8 111.6 M268.7 122.3L273.1 116.2 M273.1 116.2L268.8 111.6 M268.3 151.2L272.8 144.8 M259.6 151.0L268.3 151.2 M272.8 144.8L268.5 137.3 M272.6 156.2L268.3 151.2 M281.9 116.3L286.3 111.8 M273.1 116.2L281.9 116.3 M286.1 122.5L281.9 116.3 M281.5 144.9L285.9 137.5 M272.8 144.8L281.5 144.9 M281.3 156.3L285.7 151.4 M272.6 156.2L281.3 156.3 M285.7 151.4L281.5 144.9 M286.3 111.8L295.0 111.9 M294.9 122.7L299.3 116.5 M299.3 116.5L295.0 111.9 M294.5 151.6L298.9 145.1 M285.7 151.4L294.5 151.6 M298.9 145.1L294.7 137.6 M298.8 156.6L294.5 151.6 M308.0 116.6L312.4 112.1 M299.3 116.5L308.0 116.6 M312.3 122.9L308.0 116.6 M307.6 145.3L312.1 137.9 M298.9 145.1L307.6 145.3 M307.5 156.7L311.9 151.8 M298.8 156.6L307.5 156.7 M311.9 151.8L307.6 145.3 M312.4 112.1L321.2 112.2 M321.0 123.0L325.5 116.8 M325.5 116.8L321.2 112.2 M320.6 152.0L325.1 145.5 M311.9 151.8L320.6 152.0 M325.1 145.5L320.8 138.0 M324.9 157.0L320.6 152.0 M334.2 116.9L338.6 112.4 M325.5 116.8L334.2 116.9 M338.5 123.2L334.2 116.9 M333.8 145.7L338.3 138.3 M325.1 145.5L333.8 145.7 M333.6 157.1L338.1 152.2 M324.9 157.0L333.6 157.1 M338.1 152.2L333.8 145.7 M338.6 112.4L347.3 112.5 M347.2 123.3L351.6 117.1 M351.6 117.1L347.3 112.5 M346.8 152.4L351.2 145.9 M338.1 152.2L346.8 152.4 M351.2 145.9L347.0 138.4 M351.1 157.4L346.8 152.4 M360.3 117.2L364.8 112.7 M351.6 117.1L360.3 117.2 M364.6 123.5L360.3 117.2 M359.9 146.0L364.4 138.6 M351.2 145.9L359.9 146.0 M359.8 157.5L364.2 152.6 M351.1 157.4L359.8 157.5 M364.2 152.6L359.9 146.0 M364.8 112.7L373.5 112.7 M373.3 123.6L377.8 117.4 M377.8 117.4L373.5 112.7 M372.9 152.8L377.4 146.3 M364.2 152.6L372.9 152.8 M377.4 146.3L373.1 138.7 M377.2 157.8L372.9 152.8 M386.5 117.5L390.9 112.9 M377.8 117.4L386.5 117.5 M390.8 123.8L386.5 117.5 M386.1 146.4L390.6 139.0 M377.4 146.3L386.1 146.4 M385.9 158.0L390.4 153.0 M377.2 157.8L385.9 158.0 M390.4 153.0L386.1 146.4 M390.9 112.9L399.6 113.0 M399.5 123.9L403.9 117.7 M403.9 117.7L399.6 113.0 M399.1 153.2L403.5 146.7 M390.4 153.0L399.1 153.2 M403.5 146.7L399.3 139.1 M403.4 158.2L399.1 153.2 M412.7 117.8L417.1 113.2 M403.9 117.7L412.7 117.8 M416.9 124.2L412.7 117.8 M412.3 146.8L416.7 139.3 M403.5 146.7L412.3 146.8 M412.1 158.4L416.5 153.4 M403.4 158.2L412.1 158.4 M416.5 153.4L412.3 146.8 M417.1 113.2L425.8 113.3 M425.7 124.3L430.1 118.0 M430.1 118.0L425.8 113.3 M425.3 153.6L429.7 147.1 M416.5 153.4L425.3 153.6 M429.7 147.1L425.4 139.5 M429.5 158.7L425.3 153.6 M438.8 118.1L443.2 113.5 M430.1 118.0L438.8 118.1 M443.1 124.5L438.8 118.1 M438.4 147.2L442.9 139.7 M429.7 147.1L438.4 147.2 M438.3 158.8L442.7 153.8 M429.5 158.7L438.3 158.8 M442.7 153.8L438.4 147.2 M443.2 113.5L452.0 113.6 M451.8 124.6L456.3 118.3 M456.3 118.3L452.0 113.6 M451.4 154.0L455.9 147.5 M442.7 153.8L451.4 154.0 M455.9 147.5L451.6 139.8 M455.7 159.1L451.4 154.0 M465.0 118.4L469.4 113.8 M456.3 118.3L465.0 118.4 M469.2 124.8L465.0 118.4 M464.6 147.6L469.0 140.1 M455.9 147.5L464.6 147.6 M464.4 159.2L468.8 154.3 M455.7 159.1L464.4 159.2 M468.8 154.3L464.6 147.6 M469.4 113.8L478.1 113.9 M478.0 124.9L482.4 118.6 M482.4 118.6L478.1 113.9 M477.6 154.4L482.0 147.8 M468.8 154.3L477.6 154.4 M482.0 147.8L477.8 140.2 M481.9 159.5L477.6 154.4 M491.1 118.7L495.6 114.1 M482.4 118.6L491.1 118.7 M495.4 125.1L491.1 118.7 M490.7 148.0L495.2 140.4 M482.0 147.8L490.7 148.0 M490.6 159.6L495.0 154.7 M481.9 159.5L490.6 159.6 M495.0 154.7L490.7 148.0 M495.6 114.1L504.3 114.2 M504.1 125.2L508.6 118.9 M508.6 118.9L504.3 114.2 M503.7 154.8L508.2 148.2 M495.0 154.7L503.7 154.8 M508.2 148.2L503.9 140.6 M508.0 159.9L503.7 154.8 M517.3 119.0L521.7 114.4 M508.6 118.9L517.3 119.0 M521.6 125.4L517.3 119.0 M516.9 148.4L521.4 140.8 M508.2 148.2L516.9 148.4 M516.7 160.1L521.2 155.1 M508.0 159.9L516.7 160.1 M521.2 155.1L516.9 148.4 M521.7 114.4L530.4 114.5 M530.3 125.5L534.7 119.2 M534.7 119.2L530.4 114.5 M529.9 155.2L534.3 148.6 M521.2 155.1L529.9 155.2 M534.3 148.6L530.1 140.9 M534.2 160.3L529.9 155.2 M543.4 119.3L547.9 114.7 M534.7 119.2L543.4 119.3 M547.7 125.8L543.4 119.3 M543.0 148.7L547.5 141.2 M534.3 148.6L543.0 148.7 M542.9 160.5L547.3 155.5 M534.2 160.3L542.9 160.5 M547.3 155.5L543.0 148.7 M547.9 114.7L556.6 114.8 M556.4 125.9L560.9 119.5 M560.9 119.5L556.6 114.8 M556.0 155.6L560.5 149.0 M547.3 155.5L556.0 155.6 M560.5 149.0L556.2 141.3 M560.3 160.8L556.0 155.6 M569.6 119.6L574.0 115.0 M560.9 119.5L569.6 119.6 M573.9 126.1L569.6 119.6 M569.2 149.1L573.7 141.5 M560.5 149.0L569.2 149.1 M569.0 160.9L573.5 155.9 M560.3 160.8L569.0 160.9 M573.5 155.9L569.2 149.1 M574.0 115.0L582.8 115.1 M582.6 126.2L587.0 119.8 M587.0 119.8L582.8 115.1 M582.2 156.0L586.6 149.4 M573.5 155.9L582.2 156.0 M586.6 149.4L582.4 141.7 M586.5 161.2L582.2 156.0 M595.8 119.9L600.2 115.3 M587.0 119.8L595.8 119.9 M600.0 126.4L595.8 119.9 M595.4 149.5L599.8 141.9 M586.6 149.4L595.4 149.5 M595.2 161.3L599.6 156.3 M586.5 161.2L595.2 161.3 M599.6 156.3L595.4 149.5 M600.2 115.3L608.9 115.4 M613.2 120.1L608.8 126.5 M608.9 115.4L613.2 120.1 M612.8 149.8L608.4 156.4 M599.6 156.3L608.4 156.4 M608.5 142.0L612.8 149.8 M608.4 156.4L612.6 161.6" stroke="#74747a" stroke-width="2.5" fill="none" stroke-linecap="round"/>
<path d="M50.7 119.7L59.4 119.8 M59.2 134.4L63.7 126.9 M50.5 134.2L59.2 134.4 M50.5 134.2L46.3 126.7 M46.3 126.7L50.7 119.7 M63.7 126.9L59.4 119.8 M72.4 127.0L76.9 120.0 M63.7 126.9L72.4 127.0 M76.7 134.6L72.4 127.0 M76.9 120.0L85.6 120.1 M85.4 134.7L89.9 127.3 M76.7 134.6L85.4 134.7 M89.9 127.3L85.6 120.1 M98.6 127.4L103.0 120.3 M89.9 127.3L98.6 127.4 M102.8 135.0L98.6 127.4 M103.0 120.3L111.8 120.4 M111.6 135.1L116.0 127.6 M102.8 135.0L111.6 135.1 M116.0 127.6L111.8 120.4 M124.7 127.7L129.2 120.6 M116.0 127.6L124.7 127.7 M129.0 135.3L124.7 127.7 M129.2 120.6L137.9 120.7 M137.7 135.5L142.2 127.9 M129.0 135.3L137.7 135.5 M142.2 127.9L137.9 120.7 M150.9 128.1L155.4 120.9 M142.2 127.9L150.9 128.1 M155.2 135.7L150.9 128.1 M155.4 120.9L164.1 121.0 M163.9 135.8L168.3 128.3 M155.2 135.7L163.9 135.8 M168.3 128.3L164.1 121.0 M177.1 128.4L181.5 121.3 M168.3 128.3L177.1 128.4 M181.3 136.1L177.1 128.4 M181.5 121.3L190.2 121.4 M190.0 136.2L194.5 128.6 M181.3 136.1L190.0 136.2 M194.5 128.6L190.2 121.4 M203.2 128.7L207.7 121.6 M194.5 128.6L203.2 128.7 M207.5 136.4L203.2 128.7 M207.7 121.6L216.4 121.7 M216.2 136.6L220.6 129.0 M207.5 136.4L216.2 136.6 M220.6 129.0L216.4 121.7 M229.4 129.1L233.8 121.9 M220.6 129.0L229.4 129.1 M233.6 136.8L229.4 129.1 M233.8 121.9L242.5 122.0 M242.3 136.9L246.8 129.3 M233.6 136.8L242.3 136.9 M246.8 129.3L242.5 122.0 M255.5 129.4L260.0 122.2 M246.8 129.3L255.5 129.4 M259.8 137.2L255.5 129.4 M260.0 122.2L268.7 122.3 M268.5 137.3L273.0 129.7 M259.8 137.2L268.5 137.3 M273.0 129.7L268.7 122.3 M281.7 129.8L286.1 122.5 M273.0 129.7L281.7 129.8 M285.9 137.5L281.7 129.8 M286.1 122.5L294.9 122.7 M294.7 137.6L299.1 130.0 M285.9 137.5L294.7 137.6 M299.1 130.0L294.9 122.7 M307.8 130.1L312.3 122.9 M299.1 130.0L307.8 130.1 M312.1 137.9L307.8 130.1 M312.3 122.9L321.0 123.0 M320.8 138.0L325.3 130.3 M312.1 137.9L320.8 138.0 M325.3 130.3L321.0 123.0 M334.0 130.5L338.5 123.2 M325.3 130.3L334.0 130.5 M338.3 138.3L334.0 130.5 M338.5 123.2L347.2 123.3 M347.0 138.4L351.4 130.7 M338.3 138.3L347.0 138.4 M351.4 130.7L347.2 123.3 M360.2 130.8L364.6 123.5 M351.4 130.7L360.2 130.8 M364.4 138.6L360.2 130.8 M364.6 123.5L373.3 123.6 M373.1 138.7L377.6 131.0 M364.4 138.6L373.1 138.7 M377.6 131.0L373.3 123.6 M386.3 131.1L390.8 123.8 M377.6 131.0L386.3 131.1 M390.6 139.0L386.3 131.1 M390.8 123.8L399.5 123.9 M399.3 139.1L403.8 131.4 M390.6 139.0L399.3 139.1 M403.8 131.4L399.5 123.9 M412.5 131.5L416.9 124.2 M403.8 131.4L412.5 131.5 M416.7 139.3L412.5 131.5 M416.9 124.2L425.7 124.3 M425.4 139.5L429.9 131.7 M416.7 139.3L425.4 139.5 M429.9 131.7L425.7 124.3 M438.6 131.8L443.1 124.5 M429.9 131.7L438.6 131.8 M442.9 139.7L438.6 131.8 M443.1 124.5L451.8 124.6 M451.6 139.8L456.1 132.1 M442.9 139.7L451.6 139.8 M456.1 132.1L451.8 124.6 M464.8 132.2L469.2 124.8 M456.1 132.1L464.8 132.2 M469.0 140.1L464.8 132.2 M469.2 124.8L478.0 124.9 M477.8 140.2L482.2 132.4 M469.0 140.1L477.8 140.2 M482.2 132.4L478.0 124.9 M490.9 132.5L495.4 125.1 M482.2 132.4L490.9 132.5 M495.2 140.4L490.9 132.5 M495.4 125.1L504.1 125.2 M503.9 140.6L508.4 132.7 M495.2 140.4L503.9 140.6 M508.4 132.7L504.1 125.2 M517.1 132.8L521.6 125.4 M508.4 132.7L517.1 132.8 M521.4 140.8L517.1 132.8 M521.6 125.4L530.3 125.5 M530.1 140.9L534.5 133.1 M521.4 140.8L530.1 140.9 M534.5 133.1L530.3 125.5 M543.3 133.2L547.7 125.8 M534.5 133.1L543.3 133.2 M547.5 141.2L543.3 133.2 M547.7 125.8L556.4 125.9 M556.2 141.3L560.7 133.4 M547.5 141.2L556.2 141.3 M560.7 133.4L556.4 125.9 M569.4 133.5L573.9 126.1 M560.7 133.4L569.4 133.5 M573.7 141.5L569.4 133.5 M573.9 126.1L582.6 126.2 M582.4 141.7L586.9 133.8 M573.7 141.5L582.4 141.7 M586.9 133.8L582.6 126.2 M595.6 133.9L600.0 126.4 M586.9 133.8L595.6 133.9 M599.8 141.9L595.6 133.9 M600.0 126.4L608.8 126.5 M613.0 134.1L608.5 142.0 M599.8 141.9L608.5 142.0 M608.8 126.5L613.0 134.1" stroke="#a8a8ac" stroke-width="2.5" fill="none" stroke-linecap="round"/>
<path d="M88.7 81.4 L83.6 84.8 L76.9 83.3 L75.3 78.6 L80.4 75.2 L87.1 76.7Z M88.7 81.4L95.9 81.5 M95.9 81.5L98.2 78.0 M83.6 84.8L84.8 88.8 M84.8 88.8L88.4 89.7 M76.9 83.3L72.3 88.4 M75.3 78.6L71.2 77.4 M80.4 75.2L77.3 69.2 M77.3 69.2L79.0 66.2 M87.1 76.7L93.4 71.5 M93.4 71.5L92.9 67.4 M89.0 83.5L92.8 87.0 M92.8 87.0L99.6 86.0 M99.6 86.0L104.7 90.8 M125.8 91.1 L120.5 95.3 L112.7 94.2 L110.2 88.9 L115.5 84.7 L123.3 85.8Z M120.5 95.3L121.7 101.0 M121.7 101.0L126.4 102.9 M112.7 94.2L107.3 98.1 M110.2 88.9L101.3 88.8 M101.3 88.8L99.4 85.8 M115.5 84.7L114.3 78.7 M123.3 85.8L129.7 81.1 M126.0 94.0L131.2 97.1 M131.2 97.1L132.1 103.8 M132.1 103.8L128.4 107.5 M163.9 103.0 L156.2 106.3 L148.3 103.3 L148.1 97.0 L155.8 93.7 L163.7 96.7Z M156.2 106.3L155.9 110.6 M148.3 103.3L140.3 104.1 M140.3 104.1L136.7 99.7 M148.1 97.0L143.4 93.6 M155.8 93.7L154.7 88.4 M163.7 96.7L170.1 95.7 M170.1 95.7L173.2 99.2 M165.0 104.5L168.5 111.1 M168.5 111.1L165.6 117.6 M165.6 117.6L158.8 119.4 M208.3 115.5 L201.1 119.3 L192.8 116.8 L191.7 110.5 L198.9 106.7 L207.2 109.2Z M201.1 119.3L203.0 124.1 M203.0 124.1L199.7 128.5 M192.8 116.8L189.0 119.5 M191.7 110.5L187.2 109.7 M207.2 109.2L213.1 107.1 M209.0 117.5L211.9 123.9 M211.9 123.9L209.0 129.4 M209.0 129.4L203.8 130.4 M240.3 134.0 L231.2 137.0 L223.0 133.0 L223.7 126.0 L232.8 123.0 L241.0 127.0Z M240.3 134.0L245.2 134.9 M245.2 134.9L247.0 139.3 M231.2 137.0L230.2 143.6 M223.0 133.0L218.8 135.8 M218.8 135.8L213.4 133.4 M223.7 126.0L219.6 124.1 M219.6 124.1L219.0 119.7 M232.8 123.0L232.0 115.3 M241.0 127.0L247.5 125.6 M247.5 125.6L249.9 128.1 M242.0 135.0L245.7 138.4 M245.7 138.4L245.2 146.4 M245.2 146.4L250.4 151.1 M285.6 156.1 L278.2 160.8 L268.7 158.8 L266.4 151.9 L273.8 147.2 L283.3 149.2Z M285.6 156.1L290.7 158.6 M290.7 158.6L291.3 163.5 M278.2 160.8L279.3 168.5 M279.3 168.5L284.3 170.8 M268.7 158.8L263.8 163.2 M263.8 163.2L264.8 169.1 M273.8 147.2L270.4 141.0 M270.4 141.0L273.2 135.9 M283.3 149.2L287.1 145.8 M287.1 145.8L286.4 141.4 M286.0 159.0L288.6 165.3 M288.6 165.3L294.7 167.1 M294.7 167.1L297.5 174.0 M330.8 177.3 L324.9 182.0 L316.0 180.7 L313.2 174.7 L319.1 170.0 L328.0 171.3Z M324.9 182.0L328.6 188.6 M328.6 188.6L332.9 188.8 M316.0 180.7L310.7 187.7 M313.2 174.7L308.9 173.5 M308.9 173.5L306.6 175.5 M319.1 170.0L315.9 163.5 M328.0 171.3L334.7 165.8 M334.7 165.8L334.3 162.7 M331.0 180.5L334.9 186.5 M334.9 186.5L341.4 187.2 M341.4 187.2L345.8 182.7 M365.6 180.0 L357.8 181.4 L352.2 177.4 L354.4 172.0 L362.2 170.6 L367.8 174.6Z M357.8 181.4L356.5 186.7 M356.5 186.7L353.0 187.9 M352.2 177.4L344.4 180.7 M344.4 180.7L340.2 177.8 M362.2 170.6L366.8 163.6 M366.8 163.6L364.9 159.4 M367.8 174.6L372.6 173.6 M372.6 173.6L373.8 170.3 M368.0 180.0L373.6 184.5 M373.6 184.5L379.4 183.1 M379.4 183.1L385.2 187.7 M405.9 187.0 L398.2 190.3 L390.3 187.3 L390.1 181.0 L397.8 177.7 L405.7 180.7Z M398.2 190.3L399.1 194.4 M399.1 194.4L395.8 197.7 M397.8 177.7L398.0 171.2 M405.7 180.7L411.7 177.9 M411.7 177.9L412.4 172.9 M407.0 188.5L410.7 195.4 M410.7 195.4L407.6 202.5 M407.6 202.5L411.2 209.1 M454.9 191.0 L450.2 194.6 L443.4 193.7 L441.1 189.0 L445.8 185.4 L452.6 186.3Z M454.9 191.0L460.4 191.4 M450.2 194.6L453.4 199.1 M453.4 199.1L459.2 198.9 M443.4 193.7L439.5 197.3 M439.5 197.3L436.0 196.4 M445.8 185.4L441.8 177.3 M452.6 186.3L457.6 182.0 M457.6 182.0L457.0 178.0 M455.0 193.5L460.8 195.3 M460.8 195.3L463.3 201.4 M463.3 201.4L459.8 207.6 M485.4 184.2 L479.0 187.6 L471.6 185.4 L470.6 179.8 L477.0 176.4 L484.4 178.6Z M485.4 184.2L491.5 186.5 M491.5 186.5L496.3 183.0 M479.0 187.6L480.3 191.5 M471.6 185.4L467.0 189.4 M477.0 176.4L473.8 168.5 M484.4 178.6L487.6 175.8 M486.0 186.0L490.2 189.1 M490.2 189.1L496.9 187.2 M496.9 187.2L501.1 190.3 M533.0 171.6 L527.7 176.7 L518.7 176.1 L515.0 170.4 L520.3 165.3 L529.3 165.9Z M533.0 171.6L539.0 173.4 M539.0 173.4L540.6 179.0 M527.7 176.7L532.4 181.4 M532.4 181.4L538.2 180.1 M518.7 176.1L513.8 183.2 M515.0 170.4L508.9 171.0 M520.3 165.3L516.9 157.0 M516.9 157.0L511.8 156.0 M529.3 165.9L532.9 160.7 M533.0 175.5L540.1 177.7 M540.1 177.7L542.6 184.3 M542.6 184.3L538.6 191.1 M560.6 168.2 L553.4 170.6 L546.8 167.4 L547.4 161.8 L554.6 159.4 L561.2 162.6Z M560.6 168.2L564.8 172.0 M553.4 170.6L552.2 176.5 M552.2 176.5L556.2 180.3 M546.8 167.4L538.6 169.5 M538.6 169.5L537.6 172.6 M561.2 162.6L565.9 160.3 M565.9 160.3L568.9 162.1 M562.0 169.0L566.5 171.3 M566.5 171.3L568.0 179.0 M568.0 179.0L564.4 183.4" stroke="#c0182e" stroke-width="2.8" fill="none" stroke-linecap="round" stroke-linejoin="round"/>
<path d="M68 93 L76 84 L85 76 L95 73 L102 72 L111 80 L124 73 L133 82 L145 87 L158 77 L167 72 L177 68 L188 75 L196 82 L208 85 L213 95 L225 89 L239 92 L244 102 L239 112 L250 106 L261 100 L273 111 L281 119 L286 130 L298 124 L312 131 L324 141 L326 153 L339 141 L356 141 L368 150 L385 145 L402 150 L406 164 L416 170 L430 177 L445 179 L453 184 L467 174 L481 181 L491 189 L501 198 L515 194 L528 191 L535 184 L547 188 L561 186 M76.0 84.0L74.0 77.4 M74.0 77.4L70.5 76.3 M85.0 76.0L83.4 70.8 M83.4 70.8L79.4 69.6 M95.0 73.0L96.8 63.4 M102.0 72.0L96.6 78.7 M96.6 78.7L91.5 78.2 M111.0 80.0L108.6 71.8 M124.0 73.0L121.2 64.7 M145.0 87.0L146.1 81.9 M167.0 72.0L170.0 79.5 M177.0 68.0L177.7 75.3 M177.7 75.3L182.1 77.5 M188.0 75.0L186.0 80.0 M186.0 80.0L188.1 83.0 M196.0 82.0L192.9 88.2 M192.9 88.2L187.7 88.8 M208.0 85.0L213.0 82.3 M213.0 82.3L217.3 84.6 M213.0 95.0L214.3 101.2 M225.0 89.0L227.4 96.2 M227.4 96.2L224.1 100.3 M244.0 102.0L235.4 97.5 M235.4 97.5L235.1 94.3 M239.0 112.0L232.9 115.3 M261.0 100.0L265.1 93.6 M273.0 111.0L265.2 114.5 M265.2 114.5L261.7 112.2 M281.0 119.0L274.6 121.9 M286.0 130.0L285.1 139.2 M285.1 139.2L280.1 141.6 M298.0 124.0L296.3 114.6 M296.3 114.6L298.7 112.5 M312.0 131.0L316.7 125.6 M316.7 125.6L315.6 121.9 M324.0 141.0L318.8 143.4 M326.0 153.0L328.1 159.5 M368.0 150.0L367.6 144.8 M385.0 145.0L384.1 138.6 M384.1 138.6L380.9 137.2 M402.0 150.0L397.6 157.5 M406.0 164.0L413.1 160.9 M413.1 160.9L413.9 156.0 M416.0 170.0L412.2 176.2 M412.2 176.2L407.9 176.3 M430.0 177.0L434.4 171.9 M434.4 171.9L433.2 168.0 M453.0 184.0L449.8 177.7 M449.8 177.7L445.7 177.3 M467.0 174.0L466.2 166.2 M466.2 166.2L463.2 164.7 M491.0 189.0L487.1 194.3 M515.0 194.0L515.4 203.5 M515.4 203.5L513.0 205.2 M528.0 191.0L527.9 197.2 M527.9 197.2L530.8 199.1 M547.0 188.0L549.9 196.4 M549.9 196.4L553.5 197.2 M85.8 91.4 L80.5 96.4 L72.7 95.1 L70.2 88.6 L75.5 83.6 L83.3 84.9Z M137.1 80.9 L131.2 83.9 L125.0 81.1 L124.9 75.1 L130.8 72.1 L137.0 74.9Z M170.0 80.6 L165.9 85.4 L158.9 84.8 L156.0 79.4 L160.1 74.6 L167.1 75.2Z M246.6 104.3 L240.0 109.5 L231.4 107.2 L229.4 99.7 L236.0 94.5 L244.6 96.8Z M271.8 111.4 L265.5 113.9 L259.7 110.6 L260.2 104.6 L266.5 102.1 L272.3 105.4Z M325.8 147.4 L320.5 152.4 L312.7 151.1 L310.2 144.6 L315.5 139.6 L323.3 140.9Z M411.4 174.3 L405.9 177.9 L399.4 175.6 L398.6 169.7 L404.1 166.1 L410.6 168.4Z M465.0 189.3 L458.2 192.8 L451.2 189.5 L451.0 182.7 L457.8 179.2 L464.8 182.5Z M537.6 192.0 L531.8 196.6 L524.1 194.6 L522.4 188.0 L528.2 183.4 L535.9 185.4Z" stroke="#d9e63a" stroke-width="3" fill="none" stroke-linecap="round" stroke-linejoin="round"/>
</g>

</g>
<g id="panel-b">
<text class="b" x="1.2999999999999998" y="292" font-size="43" textLength="52.4" lengthAdjust="spacingAndGlyphs">(b)</text>
<text class="b dj" transform="translate(70,450) rotate(-90)" text-anchor="middle" font-size="20.5" textLength="266" lengthAdjust="spacingAndGlyphs">Relative Tumor Volume</text>
<text class="b dj" transform="translate(95,447) rotate(-90)" text-anchor="middle" font-size="18" textLength="75" lengthAdjust="spacingAndGlyphs">(V/V0)</text>
<rect x="155.5" y="319" width="154.5" height="126" fill="#020204"/>
<g id="inset-b">
<clipPath id="clipBi"><path d="M171.5 383.2L190.1 365.5L207.3 350.2L226.4 334.9L240.7 327.3Q251.2 321.6 255.5 325.4L254.1 336.8L249.3 350.2L240.7 363.6L231.2 376.0L220.7 386.5L172.0 388.4Z"/></clipPath>
<g filter="url(#bl04)">
<path d="M162.5 417.7L173.9 388.4" stroke="#f5c518" stroke-width="2.1" stroke-dasharray="2 1.2" opacity="0.95"/>
<path d="M164.9 416.5L176.2 388.3" stroke="#f5c518" stroke-width="2.1" stroke-dasharray="2 1.2" opacity="0.95"/>
<path d="M167.4 415.2L178.5 388.2" stroke="#f5c518" stroke-width="2.1" stroke-dasharray="2 1.2" opacity="0.95"/>
<path d="M169.8 414.0L180.8 388.1" stroke="#f0d020" stroke-width="2.1" stroke-dasharray="2 1.2" opacity="0.95"/>
<path d="M172.2 412.9L183.2 388.0" stroke="#f0d020" stroke-width="2.1" stroke-dasharray="2 1.2" opacity="0.95"/>
<path d="M174.7 411.7L185.5 387.8" stroke="#40c040" stroke-width="2.1" stroke-dasharray="2 1.2" opacity="0.95"/>
<path d="M177.1 410.7L187.8 387.7" stroke="#38b838" stroke-width="2.1" stroke-dasharray="2 1.2" opacity="0.95"/>
<path d="M179.6 409.6L190.1 387.6" stroke="#38b838" stroke-width="2.1" stroke-dasharray="2 1.2" opacity="0.95"/>
<path d="M182.0 408.6L192.4 387.5" stroke="#e83030" stroke-width="2.1" stroke-dasharray="2 1.2" opacity="0.95"/>
<path d="M184.5 407.7L194.8 387.4" stroke="#38b838" stroke-width="2.1" stroke-dasharray="2 1.2" opacity="0.95"/>
<path d="M186.9 406.8L197.1 387.3" stroke="#40c040" stroke-width="2.1" stroke-dasharray="2 1.2" opacity="0.95"/>
<path d="M189.4 405.9L199.4 387.2" stroke="#30b0e0" stroke-width="2.1" stroke-dasharray="2 1.2" opacity="0.95"/>
<path d="M191.8 405.1L201.7 387.0" stroke="#30b0e0" stroke-width="2.1" stroke-dasharray="2 1.2" opacity="0.95"/>
<path d="M194.2 404.4L204.0 386.9" stroke="#e83030" stroke-width="2.1" stroke-dasharray="2 1.2" opacity="0.95"/>
<path d="M196.7 403.7L206.4 386.8" stroke="#e83030" stroke-width="2.1" stroke-dasharray="2 1.2" opacity="0.95"/>
<path d="M199.0 403.0L208.7 386.7" stroke="#2890e8" stroke-width="2.1" stroke-dasharray="2 1.2" opacity="0.95"/>
<path d="M201.4 402.4L211.0 386.6" stroke="#2890e8" stroke-width="2.1" stroke-dasharray="2 1.2" opacity="0.95"/>
<path d="M203.7 401.9L213.3 386.5" stroke="#e83030" stroke-width="2.1" stroke-dasharray="2 1.2" opacity="0.95"/>
<path d="M206.0 401.5L215.6 386.4" stroke="#2890e8" stroke-width="2.1" stroke-dasharray="2 1.2" opacity="0.95"/>
<path d="M208.3 401.1L217.9 386.2" stroke="#e83030" stroke-width="2.1" stroke-dasharray="2 1.2" opacity="0.95"/>
<path d="M210.4 400.9L220.3 386.1" stroke="#2890e8" stroke-width="2.1" stroke-dasharray="2 1.2" opacity="0.95"/>
<path d="M212.4 400.9L222.6 386.0" stroke="#2890e8" stroke-width="2.1" stroke-dasharray="2 1.2" opacity="0.95"/>
<g clip-path="url(#clipBi)"><path d="M171.5 383.2L190.1 365.5L207.3 350.2L226.4 334.9L240.7 327.3Q251.2 321.6 255.5 325.4L254.1 336.8L249.3 350.2L240.7 363.6L231.2 376.0L220.7 386.5L172.0 388.4Z" fill="#d8204e"/>
<path d="M164.3 353.5Q207.3 340.2 259.8 316.3" stroke="#fff" stroke-width="2.6" fill="none"/>
<path d="M164.3 359.5Q207.3 346.1 259.8 322.2" stroke="#fff" stroke-width="2.6" fill="none"/>
<path d="M164.3 365.4Q207.3 352.0 259.8 328.1" stroke="#fff" stroke-width="2.6" fill="none"/>
<path d="M164.3 371.3Q207.3 357.9 259.8 334.1" stroke="#fff" stroke-width="2.6" fill="none"/>
<path d="M164.3 377.2Q207.3 363.9 259.8 340.0" stroke="#fff" stroke-width="2.6" fill="none"/>
<path d="M164.3 383.2Q207.3 369.8 259.8 345.9" stroke="#fff" stroke-width="2.6" fill="none"/>
<path d="M164.3 389.1Q207.3 375.7 259.8 351.8" stroke="#fff" stroke-width="2.6" fill="none"/>
<path d="M164.3 395.0Q207.3 381.6 259.8 357.7" stroke="#fff" stroke-width="2.6" fill="none"/>
<path d="M164.3 400.9Q207.3 387.5 259.8 363.7" stroke="#fff" stroke-width="2.6" fill="none"/>
<path d="M164.3 406.8Q207.3 393.5 259.8 369.6" stroke="#fff" stroke-width="2.6" fill="none"/>
<path d="M164.3 412.8Q207.3 399.4 259.8 375.5" stroke="#fff" stroke-width="2.6" fill="none"/>
<path d="M181.5 378.9L222.6 378.9L216.9 387.5L172.9 388.4Z" fill="#f0a020" opacity="0.45"/>
</g>
<path d="M171.5 383.2L190.1 365.5L207.3 350.2L226.4 334.9L240.7 327.3" stroke="#e01820" stroke-width="1.4" fill="none"/>
<path d="M240.7 326.3Q251.2 321.1 255.5 325.4" stroke="#2898f0" stroke-width="2.6" fill="none"/>
<path d="M255.5 326.3L249.3 350.2L240.7 363.6L231.2 376.0L220.7 387.0" stroke="#b01880" stroke-width="1.6" fill="none"/>
<path d="M222.6 385.5L211.1 400.8" stroke="#2898f0" stroke-width="2.6" fill="none"/>
<path d="M268.2 406.1L268.7 371.2" stroke="#50b8f8" stroke-width="3.4"/>
<path d="M268.2 406.1L268.4 391.3" stroke="#e890e0" stroke-width="3"/>
<path d="M268.2 406.6L268.2 401.8" stroke="#f04060" stroke-width="2.6"/>
<path d="M261.7 352.6L271.8 357.8L271.3 370.3L264.6 369.3L263.7 359.8Z" fill="#9ff0f0"/><path d="M261.3 352.1L271.3 357.4" stroke="#30b0f0" stroke-width="2.4"/>
<path d="M267.0 361.7L269.9 371.2" stroke="#fff" stroke-width="2.6"/>
<path d="M276.1 359.8L273.2 368.4" stroke="#20c050" stroke-width="2.4"/>
<path d="M231.2 398.4L251.2 408.0" stroke="#f0a878" stroke-width="2.6"/><path d="M236.0 400.8L245.5 405.4" stroke="#60d8d0" stroke-width="1.6"/><path d="M251.2 408.0L257.9 411.3" stroke="#8090a0" stroke-width="1.2"/>
<ellipse cx="260.8" cy="409.2" rx="4" ry="3" fill="#a0a0a0"/>
<path d="M258.9 417.1Q245.5 419.0 247.9 426.6Q253.2 434.3 272.3 435.2Q285.6 436.2 289.4 442.4" stroke="#e8a8b0" stroke-width="1.5" fill="none"/>
<path d="M259.8 413.2Q262.7 407.5 272.3 408.0Q281.8 407.5 285.6 411.3Q291.4 410.4 295.2 414.2L301.4 419.4Q299.0 422.8 291.4 423.7L285.6 426.6L287.5 430.0L280.9 429.0L274.2 423.7L267.5 424.7L260.8 421.8Q257.9 418.0 259.8 413.2Z" fill="#fff"/>
<path d="M261.7 423.7L267.5 426.1M282.8 428.0L288.5 429.7" stroke="#888" stroke-width="1.6"/>
<ellipse cx="288.3" cy="412.3" rx="3" ry="2.6" fill="#f4a0b4"/>
<circle cx="295.9" cy="417.8" r="1.1" fill="#222"/>
</g>
</g>
<path d="M123.5 314.29999999999995 V609.5 H499.1" stroke="#222" stroke-width="1.6" fill="none"/>
<path d="M117.5 609.5H123.5M117.5 511.1H123.5M117.5 412.7H123.5M117.5 314.3H123.5M123.5 609.5v6M217.4 609.5v6M311.3 609.5v6M405.2 609.5v6M499.1 609.5v6" stroke="#222" stroke-width="1.5"/>
<text x="114.5" y="615.7" text-anchor="end" font-size="17.5" fill="#222">0</text>
<text x="114.5" y="517.3" text-anchor="end" font-size="17.5" fill="#222">2</text>
<text x="114.5" y="418.9" text-anchor="end" font-size="17.5" fill="#222">4</text>
<text x="114.5" y="320.5" text-anchor="end" font-size="17.5" fill="#222">6</text>
<text x="123.5" y="639" text-anchor="middle" font-size="17.5" fill="#222" textLength="8.8" lengthAdjust="spacingAndGlyphs">0</text>
<text x="217.4" y="639" text-anchor="middle" font-size="17.5" fill="#222" textLength="17.6" lengthAdjust="spacingAndGlyphs">10</text>
<text x="311.3" y="639" text-anchor="middle" font-size="17.5" fill="#222" textLength="17.6" lengthAdjust="spacingAndGlyphs">20</text>
<text x="405.2" y="639" text-anchor="middle" font-size="17.5" fill="#222" textLength="17.6" lengthAdjust="spacingAndGlyphs">30</text>
<text x="499.1" y="639" text-anchor="middle" font-size="17.5" fill="#222" textLength="17.6" lengthAdjust="spacingAndGlyphs">40</text>
<text class="b" x="311" y="676" text-anchor="middle" font-size="21" textLength="47" lengthAdjust="spacingAndGlyphs">Days</text>
<path d="M123.5 557.8L123.5 562.8M121.0 557.8h5.0M121.0 562.8h5.0M151.7 552.9L151.7 557.8M149.2 552.9h5.0M149.2 557.8h5.0M179.8 548.0L179.8 552.9M177.3 548.0h5.0M177.3 552.9h5.0M217.4 537.7L217.4 543.6M214.9 537.7h5.0M214.9 543.6h5.0M255.0 525.9L255.0 535.7M252.5 525.9h5.0M252.5 535.7h5.0M283.1 498.8L283.1 508.6M280.6 498.8h5.0M280.6 508.6h5.0M320.7 466.8L320.7 481.6M318.2 466.8h5.0M318.2 481.6h5.0M348.9 437.3L348.9 457.0M346.4 437.3h5.0M346.4 457.0h5.0M377.0 361.0L377.0 390.6M374.5 361.0h5.0M374.5 390.6h5.0M405.2 329.1L405.2 358.6M402.7 329.1h5.0M402.7 358.6h5.0" stroke="#222" stroke-width="1.2" fill="none"/>
<path d="M123.5 560.3 L151.7 555.4 L179.8 550.5 L217.4 540.6 L255.0 530.8 L283.1 503.7 L320.7 474.2 L348.9 447.1 L377.0 375.8 L405.2 343.8" stroke="#0a0a0a" stroke-width="3.4" fill="none" stroke-linejoin="round" stroke-linecap="round"/>
<path d="M123.5 557.8L123.5 562.8M121.0 557.8h5.0M121.0 562.8h5.0M151.7 548.0L151.7 557.8M149.2 548.0h5.0M149.2 557.8h5.0M179.8 544.1L179.8 551.9M177.3 544.1h5.0M177.3 551.9h5.0M217.4 530.8L217.4 545.5M214.9 530.8h5.0M214.9 545.5h5.0M255.0 508.6L255.0 523.4M252.5 508.6h5.0M252.5 523.4h5.0M283.1 479.1L283.1 493.9M280.6 479.1h5.0M280.6 493.9h5.0M320.7 437.3L320.7 466.8M318.2 437.3h5.0M318.2 466.8h5.0M348.9 392.0L348.9 433.4M346.4 392.0h5.0M346.4 433.4h5.0M377.0 356.1L377.0 390.6M374.5 356.1h5.0M374.5 390.6h5.0M405.2 315.8L405.2 347.3M402.7 315.8h5.0M402.7 347.3h5.0" stroke="#1a2a7a" stroke-width="1.2" fill="none"/>
<path d="M123.5 560.3 L151.7 552.9 L179.8 548.0 L217.4 538.2 L255.0 516.0 L283.1 486.5 L320.7 452.1 L348.9 412.7 L377.0 373.3 L405.2 331.5" stroke="#12143c" stroke-width="3.2" fill="none" stroke-linejoin="round" stroke-linecap="round"/>
<path d="M123.5 557.8L123.5 562.8M121.0 557.8h5.0M121.0 562.8h5.0M151.7 549.0L151.7 556.9M149.2 549.0h5.0M149.2 556.9h5.0M179.8 540.1L179.8 548.0M177.3 540.1h5.0M177.3 548.0h5.0M217.4 524.9L217.4 536.7M214.9 524.9h5.0M214.9 536.7h5.0M255.0 503.7L255.0 523.4M252.5 503.7h5.0M252.5 523.4h5.0M283.1 486.5L283.1 511.1M280.6 486.5h5.0M280.6 511.1h5.0M320.7 442.2L320.7 491.4M318.2 442.2h5.0M318.2 491.4h5.0M348.9 415.2L348.9 464.4M346.4 415.2h5.0M346.4 464.4h5.0M377.0 364.5L377.0 431.4M374.5 364.5h5.0M374.5 431.4h5.0M405.2 339.4L405.2 390.6M402.7 339.4h5.0M402.7 390.6h5.0" stroke="#f04030" stroke-width="1.2" fill="none"/>
<path d="M123.5 560.3 L151.7 552.9 L179.8 544.1 L217.4 530.8 L255.0 513.6 L283.1 498.8 L320.7 466.8 L348.9 439.8 L377.0 397.9 L405.2 365.0" stroke="#f01820" stroke-width="3.4" fill="none" stroke-linejoin="round" stroke-linecap="round"/>
<path d="M123.5 559.3L123.5 564.2M121.0 559.3h5.0M121.0 564.2h5.0M151.7 558.8L151.7 566.7M149.2 558.8h5.0M149.2 566.7h5.0M283.1 607.0L283.1 609.0M280.6 607.0h5.0M280.6 609.0h5.0M320.7 604.6L320.7 608.5M318.2 604.6h5.0M318.2 608.5h5.0M348.9 602.6L348.9 607.5M346.4 602.6h5.0M346.4 607.5h5.0M377.0 599.7L377.0 606.5M374.5 599.7h5.0M374.5 606.5h5.0M405.2 594.7L405.2 606.5M402.7 594.7h5.0M402.7 606.5h5.0" stroke="#20a050" stroke-width="1.2" fill="none"/>
<path d="M123.5 561.8 L151.7 562.8 L179.8 609.5 L217.4 609.5 L255.0 609.5 L283.1 608.0 L320.7 606.5 L348.9 605.1 L377.0 603.1 L405.2 600.6" stroke="#109040" stroke-width="3.4" fill="none" stroke-linejoin="round" stroke-linecap="round"/>
<path d="M441.5 454.2H478" stroke="#109a45" stroke-width="3.4" stroke-linecap="round"/>
<text x="483.6" y="462" font-size="22.8" fill="#161616" textLength="140" lengthAdjust="spacingAndGlyphs">(MWNT+Laser)</text>
<path d="M441.5 488.1H478" stroke="#f01820" stroke-width="3.4" stroke-linecap="round"/>
<text x="483.6" y="496" font-size="22.8" fill="#161616" textLength="175.5" lengthAdjust="spacingAndGlyphs">V/V0(Water+Laser)</text>
<path d="M441.5 522H478" stroke="#12143c" stroke-width="3.2" stroke-linecap="round"/>
<text x="483.6" y="530" font-size="22.8" fill="#161616" textLength="121" lengthAdjust="spacingAndGlyphs">V/V0(MWNT)</text>
<path d="M441.5 556H478" stroke="#0a0a0a" stroke-width="4" stroke-linecap="round"/>
<text x="483.6" y="563.8" font-size="22.8" fill="#161616" textLength="114" lengthAdjust="spacingAndGlyphs">V/V0(Water)</text>

</g>
<g id="panel-c">
<text class="b" x="686.0" y="38.8" font-size="43" textLength="50.8" lengthAdjust="spacingAndGlyphs">(c)</text>
<defs>
<linearGradient id="gBolt" x1="0" y1="0" x2="0.6" y2="1"><stop offset="0" stop-color="#e8141c"/><stop offset="0.55" stop-color="#ee6a78"/><stop offset="1" stop-color="#d8c0d8"/></linearGradient>
<linearGradient id="gCell" x1="0" y1="0" x2="1" y2="0"><stop offset="0" stop-color="#f6a98f"/><stop offset="0.13" stop-color="#f2a190"/><stop offset="0.3" stop-color="#f8b79a"/><stop offset="0.63" stop-color="#fddfcb"/><stop offset="0.8" stop-color="#f9bb9c"/><stop offset="1" stop-color="#f3a08e"/></linearGradient>
<linearGradient id="gHeat" x1="0" y1="0" x2="1" y2="0"><stop offset="0" stop-color="#ffe01a"/><stop offset="0.5" stop-color="#f88a18"/><stop offset="1" stop-color="#ee1c24"/></linearGradient>
<linearGradient id="gArr" x1="0" y1="0" x2="0" y2="1"><stop offset="0" stop-color="#5a7090"/><stop offset="0.12" stop-color="#1c3a66"/><stop offset="0.3" stop-color="#12284c"/><stop offset="1" stop-color="#0e2040"/></linearGradient>
<pattern id="cloth" width="26" height="22" patternUnits="userSpaceOnUse">
<rect width="26" height="22" fill="#c3cdd6"/>
<path d="M2 3l4 3M9 2l-3 4M14 4l4-2M21 3l3 3M3 10l4-3M10 9l3 3M17 9l4 2M23 12l-3 3M2 16l3 3M8 18l4-2M14 15l3 3M20 19l4-2M12 13l-3 2M6 13l1 -3" stroke="#2e4666" stroke-width="1.5" stroke-linecap="round"/>
</pattern>
<pattern id="cloth2" width="36" height="30" patternUnits="userSpaceOnUse">
<rect width="36" height="30" fill="#c9d2da"/>
<path d="M2 4l7 5M13 3l-5 7M20 6l7-3M30 4l4 5M4 15l7-5M15 13l4 5M25 13l7 3M33 19l-4 4M3 23l4 5M11 26l7-3M20 22l4 5M28 27l6-3M17 19l-4 3" stroke="#263e60" stroke-width="2.2" stroke-linecap="round"/>
</pattern>
<radialGradient id="gGlow"><stop offset="0" stop-color="#fff"/><stop offset="0.45" stop-color="#ffd0e0"/><stop offset="0.75" stop-color="#ff4fa0" stop-opacity="0.8"/><stop offset="1" stop-color="#ff4fa0" stop-opacity="0"/></radialGradient>
</defs>
<path d="M868 70.7 L899.7 57.2 L917.8 78 L912.4 79.8 L930.5 98.8 L926 100.6 L950.4 134 L907.9 111.4 L914.2 108.7 L888.9 91.5 L897 88.5 Z" fill="url(#gBolt)"/>
<text class="b" x="947.6" y="89.7" font-size="17.7" textLength="68" lengthAdjust="spacingAndGlyphs">Near IR</text>
<path d="M884.9 369.5 L932.7 305.7 Q936 303.5 940.6 305.5 L968 325 Q975 329 987.4 322.7 L1021.5 297 Q1040 282.5 1048.8 280.3 Q1056 278.8 1064 282.5 L1089.8 297 Q1108 306.5 1117 307.4 Q1124 308 1129 303.5 Q1137 296 1141 288 Q1150 262 1157.5 234 Q1160 226 1167.5 223.3 L1191.5 218.7 Q1195.5 218.5 1198.4 223.7 L1198.4 371.6 Z" fill="url(#gCell)"/>
<text class="b" x="1040.3" y="346.7" font-size="17.5" textLength="102.5" lengthAdjust="spacingAndGlyphs">Cancer cell</text>
<path d="M1016.4 377.4 H1049.5 V396.9 H1066.6 L1033.5 415 L1000.4 396.9 H1016.4 Z" fill="url(#gArr)"/>
<ellipse cx="1085.1" cy="222.6" rx="26" ry="12" fill="#8a8a8a" opacity="0.55" filter="url(#bl5)" transform="rotate(-20 1085.1 222.6)"/>
<g filter="url(#bl04)">
<path d="M957.9 260.4L955.7 261.1 M955.7 261.1L947.9 263.8 M960.8 257.5L957.4 255.1 M957.4 255.1L949.6 257.8 M949.6 257.8L945.1 262.9 M945.1 262.9L947.9 263.8 M947.9 263.8L955.7 261.1 M955.7 261.1L960.8 257.5 M961.1 248.7L956.3 243.8 M956.3 243.8L948.5 246.5 M948.5 246.5L945.4 254.0 M945.4 254.0L949.6 257.8 M949.6 257.8L957.4 255.1 M957.4 255.1L961.1 248.7 M958.7 235.7L952.7 230.0 M952.7 230.0L944.8 232.5 M944.8 232.5L943.0 240.9 M943.0 240.9L948.5 246.5 M948.5 246.5L956.3 243.8 M956.3 243.8L958.7 235.7 M954.1 221.8L947.4 216.6 M947.4 216.6L939.5 219.1 M939.5 219.1L938.4 226.8 M938.4 226.8L944.8 232.5 M944.8 232.5L952.7 230.0 M952.7 230.0L954.1 221.8 M948.5 209.9L941.7 206.9 M941.7 206.9L933.8 209.3 M933.8 209.3L932.7 214.9 M932.7 214.9L939.5 219.1 M939.5 219.1L947.4 216.6 M947.4 216.6L948.5 209.9 M943.0 202.9L936.8 203.0 M936.8 203.0L928.9 205.4 M928.9 205.4L927.2 207.8 M927.2 207.8L933.8 209.3 M933.8 209.3L941.7 206.9 M941.7 206.9L943.0 202.9 M928.9 205.4L936.8 203.0 M936.8 203.0L939.0 202.3 M971.4 255.7L968.7 254.9 M968.7 254.9L960.8 257.5 M960.8 257.5L955.7 261.1 M955.7 261.1L957.9 260.4 M973.1 249.8L969.0 246.0 M969.0 246.0L961.1 248.7 M961.1 248.7L957.4 255.1 M957.4 255.1L960.8 257.5 M968.7 254.9L973.1 249.8 M972.0 238.6L966.6 233.2 M966.6 233.2L958.7 235.7 M958.7 235.7L956.3 243.8 M956.3 243.8L961.1 248.7 M969.0 246.0L972.0 238.6 M968.4 224.8L962.0 219.2 M962.0 219.2L954.1 221.8 M954.1 221.8L952.7 230.0 M952.7 230.0L958.7 235.7 M966.6 233.2L968.4 224.8 M963.2 211.6L956.4 207.4 M956.4 207.4L948.5 209.9 M948.5 209.9L947.4 216.6 M947.4 216.6L954.1 221.8 M962.0 219.2L963.2 211.6 M957.5 202.0L950.9 200.4 M950.9 200.4L943.0 202.9 M943.0 202.9L941.7 206.9 M941.7 206.9L948.5 209.9 M956.4 207.4L957.5 202.0 M939.0 202.3L936.8 203.0 M936.8 203.0L943.0 202.9 M950.9 200.4L952.6 198.1 M981.5 252.3L979.3 253.1 M979.3 253.1L971.4 255.7 M984.4 249.5L980.9 247.1 M980.9 247.1L973.1 249.8 M968.7 254.9L971.4 255.7 M971.4 255.7L979.3 253.1 M979.3 253.1L984.4 249.5 M984.6 240.7L979.8 236.0 M979.8 236.0L972.0 238.6 M969.0 246.0L973.1 249.8 M973.1 249.8L980.9 247.1 M980.9 247.1L984.6 240.7 M982.3 228.0L976.3 222.3 M976.3 222.3L968.4 224.8 M966.6 233.2L972.0 238.6 M972.0 238.6L979.8 236.0 M979.8 236.0L982.3 228.0 M977.8 214.2L971.1 209.1 M971.1 209.1L963.2 211.6 M962.0 219.2L968.4 224.8 M968.4 224.8L976.3 222.3 M976.3 222.3L977.8 214.2 M972.2 202.5L965.4 199.5 M965.4 199.5L957.5 202.0 M956.4 207.4L963.2 211.6 M963.2 211.6L971.1 209.1 M971.1 209.1L972.2 202.5 M966.8 195.5L960.6 195.6 M960.6 195.6L952.6 198.1 M950.9 200.4L957.5 202.0 M957.5 202.0L965.4 199.5 M965.4 199.5L966.8 195.5 M952.6 198.1L960.6 195.6 M960.6 195.6L962.8 195.0 M995.0 247.7L992.2 246.8 M992.2 246.8L984.4 249.5 M996.6 241.8L992.5 238.1 M992.5 238.1L984.6 240.7 M992.2 246.8L996.6 241.8 M995.5 230.7L990.1 225.4 M990.1 225.4L982.3 228.0 M992.5 238.1L995.5 230.7 M992.0 217.2L985.6 211.6 M985.6 211.6L977.8 214.2 M990.1 225.4L992.0 217.2 M986.8 204.1L980.1 200.0 M980.1 200.0L972.2 202.5 M985.6 211.6L986.8 204.1 M981.2 194.6L974.7 193.1 M974.7 193.1L966.8 195.5 M980.1 200.0L981.2 194.6 M974.7 193.1L976.4 190.7 M1005.0 244.2L1002.8 245.0 M1002.8 245.0L995.0 247.7 M1007.9 241.4L1004.4 239.1 M1004.4 239.1L996.6 241.8 M1002.8 245.0L1007.9 241.4 M1008.2 232.8L1003.4 228.1 M1003.4 228.1L995.5 230.7 M1004.4 239.1L1008.2 232.8 M1005.8 220.2L999.9 214.6 M999.9 214.6L992.0 217.2 M1003.4 228.1L1005.8 220.2 M1001.4 206.6L994.7 201.6 M994.7 201.6L986.8 204.1 M999.9 214.6L1001.4 206.6 M995.9 195.0L989.1 192.1 M989.1 192.1L981.2 194.6 M994.7 201.6L995.9 195.0 M990.5 188.2L984.4 188.3 M984.4 188.3L976.4 190.7 M989.1 192.1L990.5 188.2 M984.4 188.3L986.6 187.6 M1018.5 239.6L1015.7 238.8 M1015.7 238.8L1007.9 241.4 M1020.1 233.8L1016.0 230.1 M1016.0 230.1L1008.2 232.8 M1015.7 238.8L1020.1 233.8 M1019.1 222.9L1013.7 217.6 M1013.7 217.6L1005.8 220.2 M1016.0 230.1L1019.1 222.9 M1015.6 209.5L1009.2 204.0 M1009.2 204.0L1001.4 206.6 M1013.7 217.6L1015.6 209.5 M1010.5 196.6L1003.8 192.5 M1003.8 192.5L995.9 195.0 M1009.2 204.0L1010.5 196.6 M1004.9 187.2L998.4 185.7 M998.4 185.7L990.5 188.2 M1003.8 192.5L1004.9 187.2 M998.4 185.7L1000.2 183.4 M1028.6 236.1L1026.4 236.9 M1026.4 236.9L1018.5 239.6 M1031.4 233.4L1028.0 231.1 M1028.0 231.1L1020.1 233.8 M1020.1 233.8L1015.7 238.8 M1015.7 238.8L1018.5 239.6 M1026.4 236.9L1031.4 233.4 M1031.7 224.9L1026.9 220.3 M1026.9 220.3L1019.1 222.9 M1019.1 222.9L1016.0 230.1 M1016.0 230.1L1020.1 233.8 M1028.0 231.1L1031.7 224.9 M1029.4 212.4L1023.5 206.9 M1023.5 206.9L1015.6 209.5 M1015.6 209.5L1013.7 217.6 M1013.7 217.6L1019.1 222.9 M1026.9 220.3L1029.4 212.4 M1025.0 199.0L1018.4 194.1 M1018.4 194.1L1010.5 196.6 M1010.5 196.6L1009.2 204.0 M1009.2 204.0L1015.6 209.5 M1023.5 206.9L1025.0 199.0 M1019.5 187.6L1012.9 184.7 M1012.9 184.7L1004.9 187.2 M1004.9 187.2L1003.8 192.5 M1003.8 192.5L1010.5 196.6 M1018.4 194.1L1019.5 187.6 M1014.3 180.8L1008.1 181.0 M1008.1 181.0L1000.2 183.4 M1000.2 183.4L998.4 185.7 M998.4 185.7L1004.9 187.2 M1012.9 184.7L1014.3 180.8 M1008.1 181.0L1010.4 180.3 M1042.1 231.5L1039.3 230.7 M1039.3 230.7L1031.4 233.4 M1043.6 225.8L1039.5 222.2 M1039.5 222.2L1031.7 224.9 M1039.3 230.7L1043.6 225.8 M1042.6 215.0L1037.2 209.8 M1037.2 209.8L1029.4 212.4 M1039.5 222.2L1042.6 215.0 M1039.2 201.8L1032.9 196.4 M1032.9 196.4L1025.0 199.0 M1037.2 209.8L1039.2 201.8 M1034.1 189.1L1027.4 185.1 M1027.4 185.1L1019.5 187.6 M1032.9 196.4L1034.1 189.1 M1028.7 179.8L1022.2 178.4 M1022.2 178.4L1014.3 180.8 M1027.4 185.1L1028.7 179.8 M1022.2 178.4L1024.0 176.1 M1052.2 228.0L1049.9 228.8 M1049.9 228.8L1042.1 231.5 M1054.9 225.3L1051.5 223.1 M1051.5 223.1L1043.6 225.8 M1049.9 228.8L1054.9 225.3 M1055.2 216.9L1050.4 212.4 M1050.4 212.4L1042.6 215.0 M1051.5 223.1L1055.2 216.9 M1052.9 204.7L1047.0 199.2 M1047.0 199.2L1039.2 201.8 M1050.4 212.4L1052.9 204.7 M1048.6 191.4L1042.0 186.6 M1042.0 186.6L1034.1 189.1 M1047.0 199.2L1048.6 191.4 M1043.2 180.1L1036.6 177.3 M1036.6 177.3L1028.7 179.8 M1042.0 186.6L1043.2 180.1 M1038.0 173.5L1031.9 173.6 M1031.9 173.6L1024.0 176.1 M1036.6 177.3L1038.0 173.5 M1031.9 173.6L1034.2 172.9 M1065.6 223.4L1062.8 222.7 M1062.8 222.7L1054.9 225.3 M1067.2 217.8L1063.1 214.3 M1063.1 214.3L1055.2 216.9 M1062.8 222.7L1067.2 217.8 M1066.1 207.2L1060.8 202.1 M1060.8 202.1L1052.9 204.7 M1063.1 214.3L1066.1 207.2 M1062.8 194.1L1056.5 188.8 M1056.5 188.8L1048.6 191.4 M1060.8 202.1L1062.8 194.1 M1057.8 181.6L1051.1 177.6 M1051.1 177.6L1043.2 180.1 M1056.5 188.8L1057.8 181.6 M1052.4 172.4L1046.0 171.0 M1046.0 171.0L1038.0 173.5 M1051.1 177.6L1052.4 172.4 M1046.0 171.0L1047.8 168.7 M1075.7 219.9L1073.5 220.7 M1073.5 220.7L1065.6 223.4 M1078.5 217.3L1075.0 215.1 M1075.0 215.1L1067.2 217.8 M1073.5 220.7L1078.5 217.3 M1078.7 209.0L1074.0 204.6 M1074.0 204.6L1066.1 207.2 M1075.0 215.1L1078.7 209.0 M1076.5 196.9L1070.6 191.5 M1070.6 191.5L1062.8 194.1 M1074.0 204.6L1076.5 196.9 M1072.2 183.8L1065.7 179.1 M1065.7 179.1L1057.8 181.6 M1070.6 191.5L1072.2 183.8 M1066.9 172.7L1060.3 169.9 M1060.3 169.9L1052.4 172.4 M1065.7 179.1L1066.9 172.7 M1061.8 166.1L1055.7 166.3 M1055.7 166.3L1047.8 168.7 M1060.3 169.9L1061.8 166.1 M1055.7 166.3L1058.0 165.6 M1089.2 215.4L1086.3 214.6 M1086.3 214.6L1078.5 217.3 M1090.7 209.8L1086.6 206.3 M1086.6 206.3L1078.7 209.0 M1086.3 214.6L1090.7 209.8 M1089.7 199.3L1084.3 194.3 M1084.3 194.3L1076.5 196.9 M1086.6 206.3L1089.7 199.3 M1086.3 186.4L1080.1 181.3 M1080.1 181.3L1072.2 183.8 M1084.3 194.3L1086.3 186.4 M1081.4 174.0L1074.8 170.2 M1074.8 170.2L1066.9 172.7 M1080.1 181.3L1081.4 174.0 M1076.1 165.0L1069.7 163.7 M1069.7 163.7L1061.8 166.1 M1074.8 170.2L1076.1 165.0 M1069.7 163.7L1071.6 161.4" stroke="#c4c4c4" stroke-width="1.8" fill="none"/>
<circle cx="955.7" cy="261.1" r="2" fill="#b4b4b4"/><circle cx="947.9" cy="263.8" r="2" fill="#b4b4b4"/><circle cx="960.8" cy="257.5" r="2" fill="#b4b4b4"/><circle cx="957.4" cy="255.1" r="2" fill="#b4b4b4"/><circle cx="949.6" cy="257.8" r="2" fill="#b4b4b4"/><circle cx="945.1" cy="262.9" r="2" fill="#b4b4b4"/><circle cx="947.9" cy="263.8" r="2" fill="#b4b4b4"/><circle cx="961.1" cy="248.7" r="2" fill="#b4b4b4"/><circle cx="956.3" cy="243.8" r="2" fill="#b4b4b4"/><circle cx="948.5" cy="246.5" r="2" fill="#b4b4b4"/><circle cx="945.4" cy="254.0" r="2" fill="#b4b4b4"/><circle cx="949.6" cy="257.8" r="2" fill="#b4b4b4"/><circle cx="958.7" cy="235.7" r="2" fill="#b4b4b4"/><circle cx="952.7" cy="230.0" r="2" fill="#b4b4b4"/><circle cx="944.8" cy="232.5" r="2" fill="#b4b4b4"/><circle cx="943.0" cy="240.9" r="2" fill="#b4b4b4"/><circle cx="948.5" cy="246.5" r="2" fill="#b4b4b4"/><circle cx="954.1" cy="221.8" r="2" fill="#b4b4b4"/><circle cx="947.4" cy="216.6" r="2" fill="#b4b4b4"/><circle cx="939.5" cy="219.1" r="2" fill="#b4b4b4"/><circle cx="938.4" cy="226.8" r="2" fill="#b4b4b4"/><circle cx="944.8" cy="232.5" r="2" fill="#b4b4b4"/><circle cx="948.5" cy="209.9" r="2" fill="#b4b4b4"/><circle cx="941.7" cy="206.9" r="2" fill="#b4b4b4"/><circle cx="933.8" cy="209.3" r="2" fill="#b4b4b4"/><circle cx="932.7" cy="214.9" r="2" fill="#b4b4b4"/><circle cx="939.5" cy="219.1" r="2" fill="#b4b4b4"/><circle cx="943.0" cy="202.9" r="2" fill="#b4b4b4"/><circle cx="936.8" cy="203.0" r="2" fill="#b4b4b4"/><circle cx="928.9" cy="205.4" r="2" fill="#b4b4b4"/><circle cx="927.2" cy="207.8" r="2" fill="#b4b4b4"/><circle cx="933.8" cy="209.3" r="2" fill="#b4b4b4"/><circle cx="928.9" cy="205.4" r="2" fill="#b4b4b4"/><circle cx="971.4" cy="255.7" r="2" fill="#b4b4b4"/><circle cx="968.7" cy="254.9" r="2" fill="#b4b4b4"/><circle cx="955.7" cy="261.1" r="2" fill="#b4b4b4"/><circle cx="973.1" cy="249.8" r="2" fill="#b4b4b4"/><circle cx="969.0" cy="246.0" r="2" fill="#b4b4b4"/><circle cx="957.4" cy="255.1" r="2" fill="#b4b4b4"/><circle cx="972.0" cy="238.6" r="2" fill="#b4b4b4"/><circle cx="966.6" cy="233.2" r="2" fill="#b4b4b4"/><circle cx="956.3" cy="243.8" r="2" fill="#b4b4b4"/><circle cx="968.4" cy="224.8" r="2" fill="#b4b4b4"/><circle cx="962.0" cy="219.2" r="2" fill="#b4b4b4"/><circle cx="952.7" cy="230.0" r="2" fill="#b4b4b4"/><circle cx="963.2" cy="211.6" r="2" fill="#b4b4b4"/><circle cx="956.4" cy="207.4" r="2" fill="#b4b4b4"/><circle cx="947.4" cy="216.6" r="2" fill="#b4b4b4"/><circle cx="957.5" cy="202.0" r="2" fill="#b4b4b4"/><circle cx="950.9" cy="200.4" r="2" fill="#b4b4b4"/><circle cx="941.7" cy="206.9" r="2" fill="#b4b4b4"/><circle cx="952.6" cy="198.1" r="2" fill="#b4b4b4"/><circle cx="936.8" cy="203.0" r="2" fill="#b4b4b4"/><circle cx="979.3" cy="253.1" r="2" fill="#b4b4b4"/><circle cx="984.4" cy="249.5" r="2" fill="#b4b4b4"/><circle cx="980.9" cy="247.1" r="2" fill="#b4b4b4"/><circle cx="971.4" cy="255.7" r="2" fill="#b4b4b4"/><circle cx="984.6" cy="240.7" r="2" fill="#b4b4b4"/><circle cx="979.8" cy="236.0" r="2" fill="#b4b4b4"/><circle cx="973.1" cy="249.8" r="2" fill="#b4b4b4"/><circle cx="982.3" cy="228.0" r="2" fill="#b4b4b4"/><circle cx="976.3" cy="222.3" r="2" fill="#b4b4b4"/><circle cx="972.0" cy="238.6" r="2" fill="#b4b4b4"/><circle cx="977.8" cy="214.2" r="2" fill="#b4b4b4"/><circle cx="971.1" cy="209.1" r="2" fill="#b4b4b4"/><circle cx="968.4" cy="224.8" r="2" fill="#b4b4b4"/><circle cx="972.2" cy="202.5" r="2" fill="#b4b4b4"/><circle cx="965.4" cy="199.5" r="2" fill="#b4b4b4"/><circle cx="963.2" cy="211.6" r="2" fill="#b4b4b4"/><circle cx="966.8" cy="195.5" r="2" fill="#b4b4b4"/><circle cx="960.6" cy="195.6" r="2" fill="#b4b4b4"/><circle cx="957.5" cy="202.0" r="2" fill="#b4b4b4"/><circle cx="952.6" cy="198.1" r="2" fill="#b4b4b4"/><circle cx="995.0" cy="247.7" r="2" fill="#b4b4b4"/><circle cx="992.2" cy="246.8" r="2" fill="#b4b4b4"/><circle cx="996.6" cy="241.8" r="2" fill="#b4b4b4"/><circle cx="992.5" cy="238.1" r="2" fill="#b4b4b4"/><circle cx="995.5" cy="230.7" r="2" fill="#b4b4b4"/><circle cx="990.1" cy="225.4" r="2" fill="#b4b4b4"/><circle cx="992.0" cy="217.2" r="2" fill="#b4b4b4"/><circle cx="985.6" cy="211.6" r="2" fill="#b4b4b4"/><circle cx="986.8" cy="204.1" r="2" fill="#b4b4b4"/><circle cx="980.1" cy="200.0" r="2" fill="#b4b4b4"/><circle cx="981.2" cy="194.6" r="2" fill="#b4b4b4"/><circle cx="974.7" cy="193.1" r="2" fill="#b4b4b4"/><circle cx="976.4" cy="190.7" r="2" fill="#b4b4b4"/><circle cx="1002.8" cy="245.0" r="2" fill="#b4b4b4"/><circle cx="1007.9" cy="241.4" r="2" fill="#b4b4b4"/><circle cx="1004.4" cy="239.1" r="2" fill="#b4b4b4"/><circle cx="1008.2" cy="232.8" r="2" fill="#b4b4b4"/><circle cx="1003.4" cy="228.1" r="2" fill="#b4b4b4"/><circle cx="1005.8" cy="220.2" r="2" fill="#b4b4b4"/><circle cx="999.9" cy="214.6" r="2" fill="#b4b4b4"/><circle cx="1001.4" cy="206.6" r="2" fill="#b4b4b4"/><circle cx="994.7" cy="201.6" r="2" fill="#b4b4b4"/><circle cx="995.9" cy="195.0" r="2" fill="#b4b4b4"/><circle cx="989.1" cy="192.1" r="2" fill="#b4b4b4"/><circle cx="990.5" cy="188.2" r="2" fill="#b4b4b4"/><circle cx="984.4" cy="188.3" r="2" fill="#b4b4b4"/><circle cx="1018.5" cy="239.6" r="2" fill="#b4b4b4"/><circle cx="1015.7" cy="238.8" r="2" fill="#b4b4b4"/><circle cx="1020.1" cy="233.8" r="2" fill="#b4b4b4"/><circle cx="1016.0" cy="230.1" r="2" fill="#b4b4b4"/><circle cx="1019.1" cy="222.9" r="2" fill="#b4b4b4"/><circle cx="1013.7" cy="217.6" r="2" fill="#b4b4b4"/><circle cx="1015.6" cy="209.5" r="2" fill="#b4b4b4"/><circle cx="1009.2" cy="204.0" r="2" fill="#b4b4b4"/><circle cx="1010.5" cy="196.6" r="2" fill="#b4b4b4"/><circle cx="1003.8" cy="192.5" r="2" fill="#b4b4b4"/><circle cx="1004.9" cy="187.2" r="2" fill="#b4b4b4"/><circle cx="998.4" cy="185.7" r="2" fill="#b4b4b4"/><circle cx="1000.2" cy="183.4" r="2" fill="#b4b4b4"/><circle cx="1026.4" cy="236.9" r="2" fill="#b4b4b4"/><circle cx="1018.5" cy="239.6" r="2" fill="#b4b4b4"/><circle cx="1031.4" cy="233.4" r="2" fill="#b4b4b4"/><circle cx="1028.0" cy="231.1" r="2" fill="#b4b4b4"/><circle cx="1020.1" cy="233.8" r="2" fill="#b4b4b4"/><circle cx="1031.7" cy="224.9" r="2" fill="#b4b4b4"/><circle cx="1026.9" cy="220.3" r="2" fill="#b4b4b4"/><circle cx="1019.1" cy="222.9" r="2" fill="#b4b4b4"/><circle cx="1029.4" cy="212.4" r="2" fill="#b4b4b4"/><circle cx="1023.5" cy="206.9" r="2" fill="#b4b4b4"/><circle cx="1015.6" cy="209.5" r="2" fill="#b4b4b4"/><circle cx="1025.0" cy="199.0" r="2" fill="#b4b4b4"/><circle cx="1018.4" cy="194.1" r="2" fill="#b4b4b4"/><circle cx="1010.5" cy="196.6" r="2" fill="#b4b4b4"/><circle cx="1019.5" cy="187.6" r="2" fill="#b4b4b4"/><circle cx="1012.9" cy="184.7" r="2" fill="#b4b4b4"/><circle cx="1004.9" cy="187.2" r="2" fill="#b4b4b4"/><circle cx="1014.3" cy="180.8" r="2" fill="#b4b4b4"/><circle cx="1008.1" cy="181.0" r="2" fill="#b4b4b4"/><circle cx="1000.2" cy="183.4" r="2" fill="#b4b4b4"/><circle cx="1042.1" cy="231.5" r="2" fill="#b4b4b4"/><circle cx="1039.3" cy="230.7" r="2" fill="#b4b4b4"/><circle cx="1043.6" cy="225.8" r="2" fill="#b4b4b4"/><circle cx="1039.5" cy="222.2" r="2" fill="#b4b4b4"/><circle cx="1042.6" cy="215.0" r="2" fill="#b4b4b4"/><circle cx="1037.2" cy="209.8" r="2" fill="#b4b4b4"/><circle cx="1039.2" cy="201.8" r="2" fill="#b4b4b4"/><circle cx="1032.9" cy="196.4" r="2" fill="#b4b4b4"/><circle cx="1034.1" cy="189.1" r="2" fill="#b4b4b4"/><circle cx="1027.4" cy="185.1" r="2" fill="#b4b4b4"/><circle cx="1028.7" cy="179.8" r="2" fill="#b4b4b4"/><circle cx="1022.2" cy="178.4" r="2" fill="#b4b4b4"/><circle cx="1024.0" cy="176.1" r="2" fill="#b4b4b4"/><circle cx="1049.9" cy="228.8" r="2" fill="#b4b4b4"/><circle cx="1054.9" cy="225.3" r="2" fill="#b4b4b4"/><circle cx="1051.5" cy="223.1" r="2" fill="#b4b4b4"/><circle cx="1055.2" cy="216.9" r="2" fill="#b4b4b4"/><circle cx="1050.4" cy="212.4" r="2" fill="#b4b4b4"/><circle cx="1052.9" cy="204.7" r="2" fill="#b4b4b4"/><circle cx="1047.0" cy="199.2" r="2" fill="#b4b4b4"/><circle cx="1048.6" cy="191.4" r="2" fill="#b4b4b4"/><circle cx="1042.0" cy="186.6" r="2" fill="#b4b4b4"/><circle cx="1043.2" cy="180.1" r="2" fill="#b4b4b4"/><circle cx="1036.6" cy="177.3" r="2" fill="#b4b4b4"/><circle cx="1038.0" cy="173.5" r="2" fill="#b4b4b4"/><circle cx="1031.9" cy="173.6" r="2" fill="#b4b4b4"/><circle cx="1065.6" cy="223.4" r="2" fill="#b4b4b4"/><circle cx="1062.8" cy="222.7" r="2" fill="#b4b4b4"/><circle cx="1067.2" cy="217.8" r="2" fill="#b4b4b4"/><circle cx="1063.1" cy="214.3" r="2" fill="#b4b4b4"/><circle cx="1066.1" cy="207.2" r="2" fill="#b4b4b4"/><circle cx="1060.8" cy="202.1" r="2" fill="#b4b4b4"/><circle cx="1062.8" cy="194.1" r="2" fill="#b4b4b4"/><circle cx="1056.5" cy="188.8" r="2" fill="#b4b4b4"/><circle cx="1057.8" cy="181.6" r="2" fill="#b4b4b4"/><circle cx="1051.1" cy="177.6" r="2" fill="#b4b4b4"/><circle cx="1052.4" cy="172.4" r="2" fill="#b4b4b4"/><circle cx="1046.0" cy="171.0" r="2" fill="#b4b4b4"/><circle cx="1047.8" cy="168.7" r="2" fill="#b4b4b4"/><circle cx="1073.5" cy="220.7" r="2" fill="#b4b4b4"/><circle cx="1078.5" cy="217.3" r="2" fill="#b4b4b4"/><circle cx="1075.0" cy="215.1" r="2" fill="#b4b4b4"/><circle cx="1078.7" cy="209.0" r="2" fill="#b4b4b4"/><circle cx="1074.0" cy="204.6" r="2" fill="#b4b4b4"/><circle cx="1076.5" cy="196.9" r="2" fill="#b4b4b4"/><circle cx="1070.6" cy="191.5" r="2" fill="#b4b4b4"/><circle cx="1072.2" cy="183.8" r="2" fill="#b4b4b4"/><circle cx="1065.7" cy="179.1" r="2" fill="#b4b4b4"/><circle cx="1066.9" cy="172.7" r="2" fill="#b4b4b4"/><circle cx="1060.3" cy="169.9" r="2" fill="#b4b4b4"/><circle cx="1061.8" cy="166.1" r="2" fill="#b4b4b4"/><circle cx="1055.7" cy="166.3" r="2" fill="#b4b4b4"/><circle cx="1089.2" cy="215.4" r="2" fill="#b4b4b4"/><circle cx="1086.3" cy="214.6" r="2" fill="#b4b4b4"/><circle cx="1090.7" cy="209.8" r="2" fill="#b4b4b4"/><circle cx="1086.6" cy="206.3" r="2" fill="#b4b4b4"/><circle cx="1089.7" cy="199.3" r="2" fill="#b4b4b4"/><circle cx="1084.3" cy="194.3" r="2" fill="#b4b4b4"/><circle cx="1086.3" cy="186.4" r="2" fill="#b4b4b4"/><circle cx="1080.1" cy="181.3" r="2" fill="#b4b4b4"/><circle cx="1081.4" cy="174.0" r="2" fill="#b4b4b4"/><circle cx="1074.8" cy="170.2" r="2" fill="#b4b4b4"/><circle cx="1076.1" cy="165.0" r="2" fill="#b4b4b4"/><circle cx="1069.7" cy="163.7" r="2" fill="#b4b4b4"/><circle cx="1071.6" cy="161.4" r="2" fill="#b4b4b4"/>
<path d="M942.0 233.4L940.6 241.7 M940.6 241.7L932.6 244.3 M932.6 244.3L926.2 238.6 M926.2 238.6L928.1 230.2 M928.1 230.2L936.0 227.7 M936.0 227.7L942.0 233.4 M947.3 246.8L946.2 253.6 M946.2 253.6L938.3 256.2 M938.3 256.2L931.5 252.0 M931.5 252.0L932.6 244.3 M932.6 244.3L940.6 241.7 M940.6 241.7L947.3 246.8 M953.0 256.5L951.7 260.6 M951.7 260.6L943.8 263.3 M943.8 263.3L937.3 261.8 M937.3 261.8L938.3 256.2 M938.3 256.2L946.2 253.6 M946.2 253.6L953.0 256.5 M947.9 263.8L942.2 265.8 M942.2 265.8L943.8 263.3 M943.8 263.3L951.7 260.6 M951.7 260.6L957.9 260.4 M939.0 202.3L933.9 205.8 M933.9 205.8L925.9 208.3 M925.9 208.3L923.1 207.2 M923.1 207.2L928.9 205.4 M937.3 208.4L933.6 214.7 M933.6 214.7L925.6 217.2 M925.6 217.2L921.5 213.3 M921.5 213.3L925.9 208.3 M925.9 208.3L933.9 205.8 M933.9 205.8L937.3 208.4 M938.4 219.6L936.0 227.7 M936.0 227.7L928.1 230.2 M928.1 230.2L922.6 224.6 M922.6 224.6L925.6 217.2 M925.6 217.2L933.6 214.7 M933.6 214.7L938.4 219.6 M956.4 236.5L955.2 244.1 M955.2 244.1L947.3 246.8 M947.3 246.8L940.6 241.7 M940.6 241.7L942.0 233.4 M942.0 233.4L949.9 230.9 M949.9 230.9L956.4 236.5 M962.0 248.2L960.9 253.8 M960.9 253.8L953.0 256.5 M953.0 256.5L946.2 253.6 M946.2 253.6L947.3 246.8 M955.2 244.1L962.0 248.2 M967.4 255.2L965.8 257.7 M965.8 257.7L957.9 260.4 M957.9 260.4L951.7 260.6 M951.7 260.6L953.0 256.5 M960.9 253.8L967.4 255.2 M965.8 257.7L971.4 255.7 M952.6 198.1L946.9 199.9 M946.9 199.9L939.0 202.3 M949.7 200.9L945.3 205.9 M945.3 205.9L937.3 208.4 M937.3 208.4L933.9 205.8 M933.9 205.8L939.0 202.3 M946.9 199.9L949.7 200.9 M949.5 209.7L946.4 217.1 M946.4 217.1L938.4 219.6 M938.4 219.6L933.6 214.7 M933.6 214.7L937.3 208.4 M945.3 205.9L949.5 209.7 M951.9 222.6L949.9 230.9 M942.0 233.4L936.0 227.7 M936.0 227.7L938.4 219.6 M946.4 217.1L951.9 222.6 M965.8 225.7L964.3 233.8 M964.3 233.8L956.4 236.5 M949.9 230.9L951.9 222.6 M951.9 222.6L959.8 220.0 M959.8 220.0L965.8 225.7 M971.0 238.8L969.9 245.6 M969.9 245.6L962.0 248.2 M955.2 244.1L956.4 236.5 M956.4 236.5L964.3 233.8 M964.3 233.8L971.0 238.8 M976.6 248.4L975.3 252.5 M975.3 252.5L967.4 255.2 M960.9 253.8L962.0 248.2 M962.0 248.2L969.9 245.6 M969.9 245.6L976.6 248.4 M965.8 257.7L967.4 255.2 M967.4 255.2L975.3 252.5 M975.3 252.5L981.5 252.3 M962.8 195.0L957.7 198.4 M957.7 198.4L949.7 200.9 M946.9 199.9L952.6 198.1 M961.2 200.9L957.4 207.2 M957.4 207.2L949.5 209.7 M945.3 205.9L949.7 200.9 M949.7 200.9L957.7 198.4 M957.7 198.4L961.2 200.9 M962.2 212.0L959.8 220.0 M959.8 220.0L951.9 222.6 M946.4 217.1L949.5 209.7 M949.5 209.7L957.4 207.2 M957.4 207.2L962.2 212.0 M980.1 228.6L978.9 236.2 M978.9 236.2L971.0 238.8 M965.8 225.7L973.7 223.1 M973.7 223.1L980.1 228.6 M985.7 240.3L984.5 245.8 M984.5 245.8L976.6 248.4 M978.9 236.2L985.7 240.3 M991.0 247.1L989.3 249.6 M989.3 249.6L981.5 252.3 M984.5 245.8L991.0 247.1 M989.3 249.6L995.0 247.7 M976.4 190.7L970.7 192.5 M970.7 192.5L962.8 195.0 M973.6 193.5L969.1 198.5 M969.1 198.5L961.2 200.9 M970.7 192.5L973.6 193.5 M973.3 202.2L970.2 209.5 M970.2 209.5L962.2 212.0 M969.1 198.5L973.3 202.2 M975.6 214.9L973.7 223.1 M970.2 209.5L975.6 214.9 M989.6 218.0L988.0 226.0 M988.0 226.0L980.1 228.6 M975.6 214.9L983.6 212.3 M983.6 212.3L989.6 218.0 M994.7 230.9L993.6 237.6 M993.6 237.6L985.7 240.3 M988.0 226.0L994.7 230.9 M1000.3 240.4L998.9 244.4 M998.9 244.4L991.0 247.1 M993.6 237.6L1000.3 240.4 M998.9 244.4L1005.0 244.2 M986.6 187.6L981.5 191.1 M981.5 191.1L973.6 193.5 M985.0 193.5L981.2 199.7 M981.2 199.7L973.3 202.2 M981.5 191.1L985.0 193.5 M986.1 204.5L983.6 212.3 M981.2 199.7L986.1 204.5 M1003.9 220.8L1002.6 228.3 M1002.6 228.3L994.7 230.9 M989.6 218.0L997.5 215.4 M997.5 215.4L1003.9 220.8 M1009.3 232.3L1008.1 237.7 M1008.1 237.7L1000.3 240.4 M1002.6 228.3L1009.3 232.3 M1014.6 239.1L1012.9 241.5 M1012.9 241.5L1005.0 244.2 M1008.1 237.7L1014.6 239.1 M1012.9 241.5L1018.5 239.6 M1000.2 183.4L994.5 185.2 M994.5 185.2L986.6 187.6 M997.4 186.1L992.9 191.0 M992.9 191.0L985.0 193.5 M994.5 185.2L997.4 186.1 M997.1 194.7L994.0 201.9 M994.0 201.9L986.1 204.5 M992.9 191.0L997.1 194.7 M999.4 207.2L997.5 215.4 M994.0 201.9L999.4 207.2 M1013.3 210.2L1011.8 218.2 M1011.8 218.2L1003.9 220.8 M1003.9 220.8L997.5 215.4 M997.5 215.4L999.4 207.2 M999.4 207.2L1007.4 204.7 M1007.4 204.7L1013.3 210.2 M1018.4 223.0L1017.2 229.6 M1017.2 229.6L1009.3 232.3 M1009.3 232.3L1002.6 228.3 M1002.6 228.3L1003.9 220.8 M1011.8 218.2L1018.4 223.0 M1023.9 232.4L1022.5 236.4 M1022.5 236.4L1014.6 239.1 M1014.6 239.1L1008.1 237.7 M1008.1 237.7L1009.3 232.3 M1017.2 229.6L1023.9 232.4 M1018.5 239.6L1012.9 241.5 M1012.9 241.5L1014.6 239.1 M1022.5 236.4L1028.6 236.1 M1010.4 180.3L1005.3 183.7 M1005.3 183.7L997.4 186.1 M997.4 186.1L994.5 185.2 M994.5 185.2L1000.2 183.4 M1008.8 186.1L1005.0 192.2 M1005.0 192.2L997.1 194.7 M997.1 194.7L992.9 191.0 M992.9 191.0L997.4 186.1 M1005.3 183.7L1008.8 186.1 M1009.9 196.9L1007.4 204.7 M999.4 207.2L994.0 201.9 M994.0 201.9L997.1 194.7 M1005.0 192.2L1009.9 196.9 M1027.6 213.0L1026.3 220.4 M1026.3 220.4L1018.4 223.0 M1013.3 210.2L1021.2 207.6 M1021.2 207.6L1027.6 213.0 M1033.0 224.3L1031.8 229.7 M1031.8 229.7L1023.9 232.4 M1026.3 220.4L1033.0 224.3 M1038.2 231.0L1036.5 233.4 M1036.5 233.4L1028.6 236.1 M1031.8 229.7L1038.2 231.0 M1036.5 233.4L1042.1 231.5 M1024.0 176.1L1018.4 177.8 M1018.4 177.8L1010.4 180.3 M1021.2 178.8L1016.8 183.6 M1016.8 183.6L1008.8 186.1 M1018.4 177.8L1021.2 178.8 M1020.9 187.2L1017.8 194.4 M1017.8 194.4L1009.9 196.9 M1016.8 183.6L1020.9 187.2 M1023.2 199.6L1021.2 207.6 M1017.8 194.4L1023.2 199.6 M1037.1 202.5L1035.5 210.3 M1035.5 210.3L1027.6 213.0 M1023.2 199.6L1031.2 197.0 M1031.2 197.0L1037.1 202.5 M1042.1 215.1L1040.9 221.6 M1040.9 221.6L1033.0 224.3 M1035.5 210.3L1042.1 215.1 M1047.5 224.3L1046.1 228.3 M1046.1 228.3L1038.2 231.0 M1040.9 221.6L1047.5 224.3 M1046.1 228.3L1052.2 228.0 M1034.2 172.9L1029.1 176.3 M1029.1 176.3L1021.2 178.8 M1032.7 178.7L1028.9 184.8 M1028.9 184.8L1020.9 187.2 M1029.1 176.3L1032.7 178.7 M1033.7 189.3L1031.2 197.0 M1028.9 184.8L1033.7 189.3 M1051.3 205.1L1050.0 212.5 M1050.0 212.5L1042.1 215.1 M1037.1 202.5L1045.0 199.9 M1045.0 199.9L1051.3 205.1 M1056.7 216.3L1055.4 221.6 M1055.4 221.6L1047.5 224.3 M1050.0 212.5L1056.7 216.3 M1061.8 222.9L1060.0 225.3 M1060.0 225.3L1052.2 228.0 M1055.4 221.6L1061.8 222.9 M1060.0 225.3L1065.6 223.4 M1047.8 168.7L1042.2 170.5 M1042.2 170.5L1034.2 172.9 M1045.0 171.4L1040.6 176.2 M1040.6 176.2L1032.7 178.7 M1042.2 170.5L1045.0 171.4 M1044.8 179.8L1041.6 186.8 M1041.6 186.8L1033.7 189.3 M1040.6 176.2L1044.8 179.8 M1047.0 191.9L1045.0 199.9 M1041.6 186.8L1047.0 191.9 M1060.9 194.7L1059.2 202.5 M1059.2 202.5L1051.3 205.1 M1047.0 191.9L1055.0 189.4 M1055.0 189.4L1060.9 194.7 M1065.8 207.2L1064.6 213.6 M1064.6 213.6L1056.7 216.3 M1059.2 202.5L1065.8 207.2 M1071.2 216.3L1069.7 220.2 M1069.7 220.2L1061.8 222.9 M1064.6 213.6L1071.2 216.3 M1069.7 220.2L1075.7 219.9 M1058.0 165.6L1053.0 168.9 M1053.0 168.9L1045.0 171.4 M1056.5 171.2L1052.7 177.3 M1052.7 177.3L1044.8 179.8 M1053.0 168.9L1056.5 171.2 M1057.5 181.8L1055.0 189.4 M1052.7 177.3L1057.5 181.8 M1075.1 197.3L1073.7 204.6 M1073.7 204.6L1065.8 207.2 M1060.9 194.7L1068.8 192.1 M1068.8 192.1L1075.1 197.3 M1080.3 208.3L1079.0 213.6 M1079.0 213.6L1071.2 216.3 M1073.7 204.6L1080.3 208.3 M1085.4 214.8L1083.6 217.2 M1083.6 217.2L1075.7 219.9 M1079.0 213.6L1085.4 214.8 M1083.6 217.2L1089.2 215.4 M1071.6 161.4L1066.0 163.1 M1066.0 163.1L1058.0 165.6 M1068.9 164.0L1064.4 168.8 M1064.4 168.8L1056.5 171.2 M1066.0 163.1L1068.9 164.0 M1068.6 172.3L1065.4 179.2 M1065.4 179.2L1057.5 181.8 M1064.4 168.8L1068.6 172.3 M1070.8 184.3L1068.8 192.1 M1065.4 179.2L1070.8 184.3" stroke="#8a8a8a" stroke-width="2.2" fill="none"/>
<circle cx="942.0" cy="233.4" r="2.7" fill="#707070"/><circle cx="940.6" cy="241.7" r="2.7" fill="#707070"/><circle cx="932.6" cy="244.3" r="2.7" fill="#707070"/><circle cx="926.2" cy="238.6" r="2.7" fill="#707070"/><circle cx="928.1" cy="230.2" r="2.7" fill="#707070"/><circle cx="936.0" cy="227.7" r="2.7" fill="#707070"/><circle cx="947.3" cy="246.8" r="2.7" fill="#707070"/><circle cx="946.2" cy="253.6" r="2.7" fill="#707070"/><circle cx="938.3" cy="256.2" r="2.7" fill="#707070"/><circle cx="931.5" cy="252.0" r="2.7" fill="#707070"/><circle cx="932.6" cy="244.3" r="2.7" fill="#707070"/><circle cx="953.0" cy="256.5" r="2.7" fill="#707070"/><circle cx="951.7" cy="260.6" r="2.7" fill="#707070"/><circle cx="943.8" cy="263.3" r="2.7" fill="#707070"/><circle cx="937.3" cy="261.8" r="2.7" fill="#707070"/><circle cx="938.3" cy="256.2" r="2.7" fill="#707070"/><circle cx="957.9" cy="260.4" r="2.7" fill="#707070"/><circle cx="942.2" cy="265.8" r="2.7" fill="#707070"/><circle cx="943.8" cy="263.3" r="2.7" fill="#707070"/><circle cx="939.0" cy="202.3" r="2.7" fill="#707070"/><circle cx="933.9" cy="205.8" r="2.7" fill="#707070"/><circle cx="925.9" cy="208.3" r="2.7" fill="#707070"/><circle cx="923.1" cy="207.2" r="2.7" fill="#707070"/><circle cx="937.3" cy="208.4" r="2.7" fill="#707070"/><circle cx="933.6" cy="214.7" r="2.7" fill="#707070"/><circle cx="925.6" cy="217.2" r="2.7" fill="#707070"/><circle cx="921.5" cy="213.3" r="2.7" fill="#707070"/><circle cx="925.9" cy="208.3" r="2.7" fill="#707070"/><circle cx="938.4" cy="219.6" r="2.7" fill="#707070"/><circle cx="928.1" cy="230.2" r="2.7" fill="#707070"/><circle cx="922.6" cy="224.6" r="2.7" fill="#707070"/><circle cx="925.6" cy="217.2" r="2.7" fill="#707070"/><circle cx="956.4" cy="236.5" r="2.7" fill="#707070"/><circle cx="955.2" cy="244.1" r="2.7" fill="#707070"/><circle cx="940.6" cy="241.7" r="2.7" fill="#707070"/><circle cx="949.9" cy="230.9" r="2.7" fill="#707070"/><circle cx="962.0" cy="248.2" r="2.7" fill="#707070"/><circle cx="960.9" cy="253.8" r="2.7" fill="#707070"/><circle cx="946.2" cy="253.6" r="2.7" fill="#707070"/><circle cx="967.4" cy="255.2" r="2.7" fill="#707070"/><circle cx="965.8" cy="257.7" r="2.7" fill="#707070"/><circle cx="951.7" cy="260.6" r="2.7" fill="#707070"/><circle cx="946.9" cy="199.9" r="2.7" fill="#707070"/><circle cx="949.7" cy="200.9" r="2.7" fill="#707070"/><circle cx="945.3" cy="205.9" r="2.7" fill="#707070"/><circle cx="933.9" cy="205.8" r="2.7" fill="#707070"/><circle cx="949.5" cy="209.7" r="2.7" fill="#707070"/><circle cx="946.4" cy="217.1" r="2.7" fill="#707070"/><circle cx="933.6" cy="214.7" r="2.7" fill="#707070"/><circle cx="951.9" cy="222.6" r="2.7" fill="#707070"/><circle cx="936.0" cy="227.7" r="2.7" fill="#707070"/><circle cx="965.8" cy="225.7" r="2.7" fill="#707070"/><circle cx="964.3" cy="233.8" r="2.7" fill="#707070"/><circle cx="951.9" cy="222.6" r="2.7" fill="#707070"/><circle cx="959.8" cy="220.0" r="2.7" fill="#707070"/><circle cx="971.0" cy="238.8" r="2.7" fill="#707070"/><circle cx="969.9" cy="245.6" r="2.7" fill="#707070"/><circle cx="956.4" cy="236.5" r="2.7" fill="#707070"/><circle cx="976.6" cy="248.4" r="2.7" fill="#707070"/><circle cx="975.3" cy="252.5" r="2.7" fill="#707070"/><circle cx="962.0" cy="248.2" r="2.7" fill="#707070"/><circle cx="981.5" cy="252.3" r="2.7" fill="#707070"/><circle cx="967.4" cy="255.2" r="2.7" fill="#707070"/><circle cx="962.8" cy="195.0" r="2.7" fill="#707070"/><circle cx="957.7" cy="198.4" r="2.7" fill="#707070"/><circle cx="961.2" cy="200.9" r="2.7" fill="#707070"/><circle cx="957.4" cy="207.2" r="2.7" fill="#707070"/><circle cx="949.7" cy="200.9" r="2.7" fill="#707070"/><circle cx="962.2" cy="212.0" r="2.7" fill="#707070"/><circle cx="949.5" cy="209.7" r="2.7" fill="#707070"/><circle cx="980.1" cy="228.6" r="2.7" fill="#707070"/><circle cx="978.9" cy="236.2" r="2.7" fill="#707070"/><circle cx="973.7" cy="223.1" r="2.7" fill="#707070"/><circle cx="985.7" cy="240.3" r="2.7" fill="#707070"/><circle cx="984.5" cy="245.8" r="2.7" fill="#707070"/><circle cx="991.0" cy="247.1" r="2.7" fill="#707070"/><circle cx="989.3" cy="249.6" r="2.7" fill="#707070"/><circle cx="970.7" cy="192.5" r="2.7" fill="#707070"/><circle cx="973.6" cy="193.5" r="2.7" fill="#707070"/><circle cx="969.1" cy="198.5" r="2.7" fill="#707070"/><circle cx="973.3" cy="202.2" r="2.7" fill="#707070"/><circle cx="970.2" cy="209.5" r="2.7" fill="#707070"/><circle cx="975.6" cy="214.9" r="2.7" fill="#707070"/><circle cx="989.6" cy="218.0" r="2.7" fill="#707070"/><circle cx="988.0" cy="226.0" r="2.7" fill="#707070"/><circle cx="983.6" cy="212.3" r="2.7" fill="#707070"/><circle cx="994.7" cy="230.9" r="2.7" fill="#707070"/><circle cx="993.6" cy="237.6" r="2.7" fill="#707070"/><circle cx="1000.3" cy="240.4" r="2.7" fill="#707070"/><circle cx="998.9" cy="244.4" r="2.7" fill="#707070"/><circle cx="1005.0" cy="244.2" r="2.7" fill="#707070"/><circle cx="986.6" cy="187.6" r="2.7" fill="#707070"/><circle cx="981.5" cy="191.1" r="2.7" fill="#707070"/><circle cx="985.0" cy="193.5" r="2.7" fill="#707070"/><circle cx="981.2" cy="199.7" r="2.7" fill="#707070"/><circle cx="986.1" cy="204.5" r="2.7" fill="#707070"/><circle cx="1003.9" cy="220.8" r="2.7" fill="#707070"/><circle cx="1002.6" cy="228.3" r="2.7" fill="#707070"/><circle cx="997.5" cy="215.4" r="2.7" fill="#707070"/><circle cx="1009.3" cy="232.3" r="2.7" fill="#707070"/><circle cx="1008.1" cy="237.7" r="2.7" fill="#707070"/><circle cx="1014.6" cy="239.1" r="2.7" fill="#707070"/><circle cx="1012.9" cy="241.5" r="2.7" fill="#707070"/><circle cx="994.5" cy="185.2" r="2.7" fill="#707070"/><circle cx="997.4" cy="186.1" r="2.7" fill="#707070"/><circle cx="992.9" cy="191.0" r="2.7" fill="#707070"/><circle cx="997.1" cy="194.7" r="2.7" fill="#707070"/><circle cx="994.0" cy="201.9" r="2.7" fill="#707070"/><circle cx="999.4" cy="207.2" r="2.7" fill="#707070"/><circle cx="1013.3" cy="210.2" r="2.7" fill="#707070"/><circle cx="1011.8" cy="218.2" r="2.7" fill="#707070"/><circle cx="1003.9" cy="220.8" r="2.7" fill="#707070"/><circle cx="999.4" cy="207.2" r="2.7" fill="#707070"/><circle cx="1007.4" cy="204.7" r="2.7" fill="#707070"/><circle cx="1018.4" cy="223.0" r="2.7" fill="#707070"/><circle cx="1017.2" cy="229.6" r="2.7" fill="#707070"/><circle cx="1009.3" cy="232.3" r="2.7" fill="#707070"/><circle cx="1023.9" cy="232.4" r="2.7" fill="#707070"/><circle cx="1022.5" cy="236.4" r="2.7" fill="#707070"/><circle cx="1014.6" cy="239.1" r="2.7" fill="#707070"/><circle cx="1028.6" cy="236.1" r="2.7" fill="#707070"/><circle cx="1010.4" cy="180.3" r="2.7" fill="#707070"/><circle cx="1005.3" cy="183.7" r="2.7" fill="#707070"/><circle cx="997.4" cy="186.1" r="2.7" fill="#707070"/><circle cx="1008.8" cy="186.1" r="2.7" fill="#707070"/><circle cx="1005.0" cy="192.2" r="2.7" fill="#707070"/><circle cx="997.1" cy="194.7" r="2.7" fill="#707070"/><circle cx="1009.9" cy="196.9" r="2.7" fill="#707070"/><circle cx="1027.6" cy="213.0" r="2.7" fill="#707070"/><circle cx="1026.3" cy="220.4" r="2.7" fill="#707070"/><circle cx="1021.2" cy="207.6" r="2.7" fill="#707070"/><circle cx="1033.0" cy="224.3" r="2.7" fill="#707070"/><circle cx="1031.8" cy="229.7" r="2.7" fill="#707070"/><circle cx="1038.2" cy="231.0" r="2.7" fill="#707070"/><circle cx="1036.5" cy="233.4" r="2.7" fill="#707070"/><circle cx="1018.4" cy="177.8" r="2.7" fill="#707070"/><circle cx="1021.2" cy="178.8" r="2.7" fill="#707070"/><circle cx="1016.8" cy="183.6" r="2.7" fill="#707070"/><circle cx="1020.9" cy="187.2" r="2.7" fill="#707070"/><circle cx="1017.8" cy="194.4" r="2.7" fill="#707070"/><circle cx="1023.2" cy="199.6" r="2.7" fill="#707070"/><circle cx="1037.1" cy="202.5" r="2.7" fill="#707070"/><circle cx="1035.5" cy="210.3" r="2.7" fill="#707070"/><circle cx="1031.2" cy="197.0" r="2.7" fill="#707070"/><circle cx="1042.1" cy="215.1" r="2.7" fill="#707070"/><circle cx="1040.9" cy="221.6" r="2.7" fill="#707070"/><circle cx="1047.5" cy="224.3" r="2.7" fill="#707070"/><circle cx="1046.1" cy="228.3" r="2.7" fill="#707070"/><circle cx="1052.2" cy="228.0" r="2.7" fill="#707070"/><circle cx="1034.2" cy="172.9" r="2.7" fill="#707070"/><circle cx="1029.1" cy="176.3" r="2.7" fill="#707070"/><circle cx="1032.7" cy="178.7" r="2.7" fill="#707070"/><circle cx="1028.9" cy="184.8" r="2.7" fill="#707070"/><circle cx="1033.7" cy="189.3" r="2.7" fill="#707070"/><circle cx="1051.3" cy="205.1" r="2.7" fill="#707070"/><circle cx="1050.0" cy="212.5" r="2.7" fill="#707070"/><circle cx="1045.0" cy="199.9" r="2.7" fill="#707070"/><circle cx="1056.7" cy="216.3" r="2.7" fill="#707070"/><circle cx="1055.4" cy="221.6" r="2.7" fill="#707070"/><circle cx="1061.8" cy="222.9" r="2.7" fill="#707070"/><circle cx="1060.0" cy="225.3" r="2.7" fill="#707070"/><circle cx="1042.2" cy="170.5" r="2.7" fill="#707070"/><circle cx="1045.0" cy="171.4" r="2.7" fill="#707070"/><circle cx="1040.6" cy="176.2" r="2.7" fill="#707070"/><circle cx="1044.8" cy="179.8" r="2.7" fill="#707070"/><circle cx="1041.6" cy="186.8" r="2.7" fill="#707070"/><circle cx="1047.0" cy="191.9" r="2.7" fill="#707070"/><circle cx="1060.9" cy="194.7" r="2.7" fill="#707070"/><circle cx="1059.2" cy="202.5" r="2.7" fill="#707070"/><circle cx="1055.0" cy="189.4" r="2.7" fill="#707070"/><circle cx="1065.8" cy="207.2" r="2.7" fill="#707070"/><circle cx="1064.6" cy="213.6" r="2.7" fill="#707070"/><circle cx="1071.2" cy="216.3" r="2.7" fill="#707070"/><circle cx="1069.7" cy="220.2" r="2.7" fill="#707070"/><circle cx="1075.7" cy="219.9" r="2.7" fill="#707070"/><circle cx="1058.0" cy="165.6" r="2.7" fill="#707070"/><circle cx="1053.0" cy="168.9" r="2.7" fill="#707070"/><circle cx="1056.5" cy="171.2" r="2.7" fill="#707070"/><circle cx="1052.7" cy="177.3" r="2.7" fill="#707070"/><circle cx="1057.5" cy="181.8" r="2.7" fill="#707070"/><circle cx="1075.1" cy="197.3" r="2.7" fill="#707070"/><circle cx="1073.7" cy="204.6" r="2.7" fill="#707070"/><circle cx="1068.8" cy="192.1" r="2.7" fill="#707070"/><circle cx="1080.3" cy="208.3" r="2.7" fill="#707070"/><circle cx="1079.0" cy="213.6" r="2.7" fill="#707070"/><circle cx="1085.4" cy="214.8" r="2.7" fill="#707070"/><circle cx="1083.6" cy="217.2" r="2.7" fill="#707070"/><circle cx="1066.0" cy="163.1" r="2.7" fill="#707070"/><circle cx="1068.9" cy="164.0" r="2.7" fill="#707070"/><circle cx="1064.4" cy="168.8" r="2.7" fill="#707070"/><circle cx="1068.6" cy="172.3" r="2.7" fill="#707070"/><circle cx="1065.4" cy="179.2" r="2.7" fill="#707070"/><circle cx="1070.8" cy="184.3" r="2.7" fill="#707070"/>
</g>
<ellipse cx="929.6" cy="205.5" rx="6.2" ry="5" fill="#0d82a0" stroke="#f4c8b0" stroke-width="0.6"/><ellipse cx="928.6" cy="204.3" rx="3.5" ry="2.2" fill="#2a9ab8" opacity="0.7"/>
<ellipse cx="935.0" cy="191.9" rx="6.2" ry="5" fill="#0d82a0" stroke="#f4c8b0" stroke-width="0.6"/><ellipse cx="934.0" cy="190.7" rx="3.5" ry="2.2" fill="#2a9ab8" opacity="0.7"/>
<ellipse cx="949.5" cy="189.2" rx="6.2" ry="5" fill="#0d82a0" stroke="#f4c8b0" stroke-width="0.6"/><ellipse cx="948.5" cy="188.0" rx="3.5" ry="2.2" fill="#2a9ab8" opacity="0.7"/>
<ellipse cx="965.7" cy="186.8" rx="6.2" ry="5" fill="#0d82a0" stroke="#f4c8b0" stroke-width="0.6"/><ellipse cx="964.7" cy="185.6" rx="3.5" ry="2.2" fill="#2a9ab8" opacity="0.7"/>
<ellipse cx="979.3" cy="188.3" rx="6.2" ry="5" fill="#0d82a0" stroke="#f4c8b0" stroke-width="0.6"/><ellipse cx="978.3" cy="187.1" rx="3.5" ry="2.2" fill="#2a9ab8" opacity="0.7"/>
<ellipse cx="992.9" cy="193.7" rx="6.2" ry="5" fill="#0d82a0" stroke="#f4c8b0" stroke-width="0.6"/><ellipse cx="991.9" cy="192.5" rx="3.5" ry="2.2" fill="#2a9ab8" opacity="0.7"/>
<ellipse cx="1005.5" cy="200.0" rx="6.2" ry="5" fill="#0d82a0" stroke="#f4c8b0" stroke-width="0.6"/><ellipse cx="1004.5" cy="198.8" rx="3.5" ry="2.2" fill="#2a9ab8" opacity="0.7"/>
<ellipse cx="1016.4" cy="205.5" rx="6.2" ry="5" fill="#0d82a0" stroke="#f4c8b0" stroke-width="0.6"/><ellipse cx="1015.4" cy="204.3" rx="3.5" ry="2.2" fill="#2a9ab8" opacity="0.7"/>
<ellipse cx="1029.9" cy="210.0" rx="6.2" ry="5" fill="#0d82a0" stroke="#f4c8b0" stroke-width="0.6"/><ellipse cx="1028.9" cy="208.8" rx="3.5" ry="2.2" fill="#2a9ab8" opacity="0.7"/>
<ellipse cx="1043.5" cy="213.2" rx="6.2" ry="5" fill="#0d82a0" stroke="#f4c8b0" stroke-width="0.6"/><ellipse cx="1042.5" cy="212.0" rx="3.5" ry="2.2" fill="#2a9ab8" opacity="0.7"/>
<ellipse cx="1058.0" cy="215.0" rx="6.2" ry="5" fill="#0d82a0" stroke="#f4c8b0" stroke-width="0.6"/><ellipse cx="1057.0" cy="213.8" rx="3.5" ry="2.2" fill="#2a9ab8" opacity="0.7"/>
<ellipse cx="1071.5" cy="214.5" rx="6.2" ry="5" fill="#0d82a0" stroke="#f4c8b0" stroke-width="0.6"/><ellipse cx="1070.5" cy="213.3" rx="3.5" ry="2.2" fill="#2a9ab8" opacity="0.7"/>
<ellipse cx="1083.3" cy="208.2" rx="6.2" ry="5" fill="#0d82a0" stroke="#f4c8b0" stroke-width="0.6"/><ellipse cx="1082.3" cy="207.0" rx="3.5" ry="2.2" fill="#2a9ab8" opacity="0.7"/>
<ellipse cx="1088.3" cy="199.1" rx="6.2" ry="5" fill="#0d82a0" stroke="#f4c8b0" stroke-width="0.6"/><ellipse cx="1087.3" cy="197.9" rx="3.5" ry="2.2" fill="#2a9ab8" opacity="0.7"/>
<ellipse cx="1090.5" cy="190.1" rx="6.2" ry="5" fill="#0d82a0" stroke="#f4c8b0" stroke-width="0.6"/><ellipse cx="1089.5" cy="188.9" rx="3.5" ry="2.2" fill="#2a9ab8" opacity="0.7"/>
<ellipse cx="1091.4" cy="180.1" rx="6.2" ry="5" fill="#0d82a0" stroke="#f4c8b0" stroke-width="0.6"/><ellipse cx="1090.4" cy="178.9" rx="3.5" ry="2.2" fill="#2a9ab8" opacity="0.7"/>
<ellipse cx="1090.5" cy="170.2" rx="6.2" ry="5" fill="#0d82a0" stroke="#f4c8b0" stroke-width="0.6"/><ellipse cx="1089.5" cy="169.0" rx="3.5" ry="2.2" fill="#2a9ab8" opacity="0.7"/>
<ellipse cx="1086.0" cy="160.3" rx="6.2" ry="5" fill="#0d82a0" stroke="#f4c8b0" stroke-width="0.6"/><ellipse cx="1085.0" cy="159.1" rx="3.5" ry="2.2" fill="#2a9ab8" opacity="0.7"/>
<g transform="translate(993.8,160.3) rotate(-125.1)"><path d="M0 0 C6.0 -4.1 10.4 -4.1 13.4 0 S20.9 4.1 24.9 0.1" stroke="url(#gHeat)" stroke-width="3" fill="none" stroke-linecap="round"/><path d="M30.9 0 L22.9 -4.6 L24.9 0 L22.9 4.6Z" fill="#ee1c24"/></g>
<g transform="translate(927.8,179.2) rotate(-132.3)"><path d="M0 0 C5.4 -3.7 9.4 -3.7 12.1 0 S18.8 3.7 21.9 0.1" stroke="url(#gHeat)" stroke-width="3" fill="none" stroke-linecap="round"/><path d="M27.9 0 L19.9 -4.6 L21.9 0 L19.9 4.6Z" fill="#ee1c24"/></g>
<g transform="translate(900.6,200.9) rotate(-144.6)"><path d="M0 0 C6.9 -4.7 12.0 -4.7 15.5 0 S24.1 4.7 29.4 0.1" stroke="url(#gHeat)" stroke-width="3" fill="none" stroke-linecap="round"/><path d="M35.4 0 L27.4 -4.6 L29.4 0 L27.4 4.6Z" fill="#ee1c24"/></g>
<g transform="translate(1049.8,148.5) rotate(-71.6)"><path d="M0 0 C4.6 -3.1 8.0 -3.1 10.3 0 S16.0 3.1 17.9 0.1" stroke="url(#gHeat)" stroke-width="3" fill="none" stroke-linecap="round"/><path d="M23.9 0 L15.9 -4.6 L17.9 0 L15.9 4.6Z" fill="#ee1c24"/></g>
<g transform="translate(1092.3,144.9) rotate(-56.3)"><path d="M0 0 C3.9 -2.7 6.8 -2.7 8.8 0 S13.7 2.7 14.6 0.1" stroke="url(#gHeat)" stroke-width="3" fill="none" stroke-linecap="round"/><path d="M20.6 0 L12.6 -4.6 L14.6 0 L12.6 4.6Z" fill="#ee1c24"/></g>
<g transform="translate(1135.7,196.4) rotate(40.6)"><path d="M0 0 C6.7 -4.5 11.7 -4.5 15.0 0 S23.3 4.5 28.3 0.1" stroke="url(#gHeat)" stroke-width="3" fill="none" stroke-linecap="round"/><path d="M34.3 0 L26.3 -4.6 L28.3 0 L26.3 4.6Z" fill="#ee1c24"/></g>
<g transform="translate(1097.7,218.1) rotate(50.7)"><path d="M0 0 C5.1 -3.5 9.0 -3.5 11.6 0 S18.0 3.5 20.7 0.1" stroke="url(#gHeat)" stroke-width="3" fill="none" stroke-linecap="round"/><path d="M26.7 0 L18.7 -4.6 L20.7 0 L18.7 4.6Z" fill="#ee1c24"/></g>
<g transform="translate(1029.0,244.3) rotate(57.8)"><path d="M0 0 C5.8 -3.9 10.1 -3.9 13.0 0 S20.2 3.9 23.8 0.1" stroke="url(#gHeat)" stroke-width="3" fill="none" stroke-linecap="round"/><path d="M29.8 0 L21.8 -4.6 L23.8 0 L21.8 4.6Z" fill="#ee1c24"/></g>
<g transform="translate(986.5,262.4) rotate(114.4)"><path d="M0 0 C4.4 -3.0 7.6 -3.0 9.8 0 S15.3 3.0 16.8 0.1" stroke="url(#gHeat)" stroke-width="3" fill="none" stroke-linecap="round"/><path d="M22.8 0 L14.8 -4.6 L16.8 0 L14.8 4.6Z" fill="#ee1c24"/></g>
<g transform="translate(936.8,268.8) rotate(125.8)"><path d="M0 0 C4.0 -2.7 7.0 -2.7 9.0 0 S14.1 2.7 15.1 0.1" stroke="url(#gHeat)" stroke-width="3" fill="none" stroke-linecap="round"/><path d="M21.1 0 L13.1 -4.6 L15.1 0 L13.1 4.6Z" fill="#ee1c24"/></g>
<clipPath id="cp1"><rect x="721.8" y="426.5" width="184.8" height="131.89999999999998"/></clipPath>
<clipPath id="cp2"><rect x="940.7" y="426.5" width="184.8" height="131.89999999999998"/></clipPath>
<clipPath id="cp3"><rect x="1159.2" y="426.5" width="185" height="131.89999999999998"/></clipPath>
<g clip-path="url(#cp1)">
<rect x="721.8" y="426.5" width="184.8" height="131.89999999999998" fill="url(#cloth)"/>
<rect x="721.8" y="426.5" width="184.8" height="50" fill="#c8d2da" opacity="0.62"/>
<g filter="url(#bl1)">
<path d="M769.9 520.5 C769.9 519.4 793.1 518.4 803.6 518.4 C814.2 518.4 823.3 519.4 833.1 520.5 C843.0 521.5 854.2 524.0 862.7 524.7 C871.1 525.4 881.7 523.8 883.8 524.7 C885.9 525.6 882.4 529.3 875.3 530.0 C868.3 530.7 853.5 529.8 841.6 528.9 C829.6 528.0 815.6 526.1 803.6 524.7 C791.7 523.3 769.9 521.5 769.9 520.5Z" fill="#2c323c" opacity="0.8"/>
<path d="M722.4 515.2 C724.1 512.6 729.9 508.7 734.0 503.6 C738.0 498.5 742.8 490.2 746.6 484.6 C750.5 479.0 753.0 474.1 757.2 469.9 C761.4 465.6 765.6 461.8 772.0 459.3 C778.3 456.8 788.1 455.2 795.2 454.7 C802.2 454.1 808.5 454.8 814.2 456.1 C819.8 457.4 824.4 460.1 828.9 462.5 C833.5 464.8 838.1 469.0 841.6 470.3 C845.1 471.6 847.7 472.5 850.0 470.3 C852.3 468.1 853.2 460.6 855.3 457.2 C857.4 453.8 860.6 449.8 862.7 449.8 C864.8 449.8 867.2 453.9 868.0 457.2 C868.7 460.5 866.1 465.6 867.3 469.9 C868.6 474.1 872.9 477.6 875.3 482.5 C877.7 487.4 880.0 494.1 881.7 499.4 C883.3 504.7 884.7 510.3 885.0 514.2 C885.4 518.0 885.4 520.9 883.8 522.6 C882.2 524.3 878.9 524.6 875.3 524.3 C871.8 523.9 866.2 521.8 862.7 520.5 C859.2 519.1 854.6 515.6 854.2 516.3 C853.9 517.0 858.6 522.4 860.6 524.7 C862.5 527.0 865.8 528.9 865.8 530.0 C865.8 531.1 863.2 532.3 860.6 531.5 C857.9 530.6 854.2 527.2 850.0 524.7 C845.8 522.2 840.9 518.0 835.3 516.3 C829.6 514.5 822.2 514.2 816.3 514.2 C810.3 514.2 801.8 513.8 799.4 516.3 C796.9 518.7 801.8 525.8 801.5 528.9 C801.1 532.1 799.4 535.1 797.3 535.3 C795.2 535.4 792.0 532.4 788.8 530.0 C785.7 527.5 782.5 522.8 778.3 520.5 C774.1 518.2 768.8 517.5 763.5 516.3 C758.2 515.0 751.6 513.1 746.6 513.1 C741.7 513.1 737.9 515.2 734.0 516.3 C730.1 517.3 725.4 519.6 723.4 519.4 C721.5 519.3 720.6 517.8 722.4 515.2Z" fill="#e6ac9a"/>
<path d="M750.9 484.6 C752.3 480.0 757.9 472.1 763.5 467.7 C769.1 463.3 776.9 459.8 784.6 458.2 C792.4 456.7 801.8 456.7 809.9 458.2 C818.0 459.8 827.2 464.4 833.1 467.7 C839.1 471.1 845.8 473.7 845.8 478.3 C845.8 482.9 840.2 490.9 833.1 495.2 C826.1 499.4 813.5 502.6 803.6 503.6 C793.8 504.7 782.2 502.9 774.1 501.5 C766.0 500.1 759.0 498.0 755.1 495.2 C751.2 492.4 749.5 489.2 750.9 484.6Z" fill="#f0c0ae" opacity="0.85"/>
<path d="M767.7 514.2 C767.7 512.6 788.5 508.9 799.4 507.8 C810.3 506.8 824.7 506.8 833.1 507.8 C841.6 508.9 850.0 512.4 850.0 514.2 C850.0 515.9 841.6 517.8 833.1 518.4 C824.7 518.9 810.3 518.0 799.4 517.3 C788.5 516.6 767.7 515.7 767.7 514.2Z" fill="#cf9686" opacity="0.7"/>
<path d="M853.2 467.7 C852.8 464.8 856.8 457.8 858.5 455.1 C860.1 452.3 861.8 450.6 863.1 451.3 C864.4 452.0 866.1 456.1 866.5 459.3 C866.8 462.5 866.2 468.0 865.2 470.3 C864.2 472.6 862.6 473.4 860.6 473.0 C858.6 472.6 853.5 470.7 853.2 467.7Z" fill="#f4d2bc"/>
<path d="M841.6 484.6 C842.3 481.8 844.6 477.6 846.9 476.2 C849.1 474.8 853.0 474.8 855.3 476.2 C857.6 477.6 860.2 481.5 860.6 484.6 C860.9 487.8 859.5 492.9 857.4 495.2 C855.3 497.5 850.4 498.7 847.9 498.3 C845.5 498.0 843.7 495.3 842.6 493.1 C841.6 490.8 840.9 487.4 841.6 484.6Z" fill="#f5d6c6"/>
<path d="M850.0 484.6 C850.0 482.7 853.0 481.1 854.2 481.5 C855.5 481.8 857.4 484.8 857.4 486.7 C857.4 488.7 855.5 493.4 854.2 493.1 C853.0 492.7 850.0 486.6 850.0 484.6Z" fill="#e8a898"/>
<circle cx="814.2" cy="468.8" r="11.8" fill="#969ea3"/><circle cx="812.5" cy="466" r="6.5" fill="#a6aeb3" opacity="0.7"/>
<circle cx="872.2" cy="503.6" r="2" fill="#8a2a38"/>
</g></g>
<path d="M912.5 486.7 H925.1 V480.7 L936.7 493 L925.1 505.4 V499.4 H912.5 Z" fill="#12284c"/>
<path d="M1131.5 486.7 H1144.1 V480.7 L1155.7 493 L1144.1 505.4 V499.4 H1131.5 Z" fill="#12284c"/>
<g clip-path="url(#cp2)">
<rect x="940.7" y="426.5" width="184.8" height="131.89999999999998" fill="#8d8f86"/>
<rect x="940.7" y="514" width="184.8" height="45" fill="#a3adc2"/>
<g filter="url(#bl1)">
<rect x="940" y="425" width="36" height="78" fill="#979a92"/>
<rect x="940" y="497" width="70" height="12" fill="#4c4c48"/>
<rect x="1085" y="470" width="42" height="40" fill="#8a8c80"/>
<rect x="1000" y="472" width="32" height="26" fill="#6a6660"/>
<rect x="975.5" y="424" width="134" height="24" fill="#14120f"/><rect x="981" y="450" width="122" height="22" fill="#181614"/>
<ellipse cx="1035" cy="449.5" rx="27" ry="1.8" fill="#ff3ea0"/>
<rect x="1017" y="472" width="6" height="20" fill="#ff70b0"/>
<rect x="940.7" y="520" width="184.8" height="40" fill="#b1bacd"/>
<path d="M964 521 H1106 V524 H964Z" fill="#3a3438"/>
<path d="M941.8 514 Q955 511 966 508 Q975 500 995 496 Q1015 492 1040 494 Q1060 494 1074 500 Q1074 488 1079 482 Q1086 486 1086 498 Q1096 504 1105 518 Q1098 522 1086 520 L1060 522 L1000 521 L972 524 Q966 516 962 513 L942 517Z" fill="#e9a7a6"/>
<path d="M990 500 Q1005 492 1022 494 L1012 512 Q998 512 990 500Z" fill="#a85a74" opacity="0.7"/>
<ellipse cx="1031.5" cy="498" rx="20" ry="11" fill="url(#gGlow)"/>
<ellipse cx="1034" cy="508" rx="34" ry="9" fill="#ff5aa8" opacity="0.45"/>
<ellipse cx="1040" cy="535" rx="30" ry="7" fill="#e8a0c8" opacity="0.35"/>
</g></g>
<g clip-path="url(#cp3)">
<rect x="1159.2" y="426.5" width="185" height="131.89999999999998" fill="url(#cloth)"/>
<rect x="1159.2" y="505" width="185" height="55" fill="url(#cloth2)"/>
<rect x="1159.2" y="426.5" width="185" height="48" fill="#c8d2da" opacity="0.6"/>
<g filter="url(#bl1)">
<path d="M1196 519 L1230 514 L1262 513 L1290 520 L1300 530 L1270 522 L1230 522 L1200 526Z" fill="#20262e" opacity="0.85"/>
<path d="M1159.8 486.1 Q1165 482 1170.6 480.1 L1185.1 471.7 Q1191 466 1197.1 460.8 Q1202 455 1206.8 456 Q1212 457 1214 462 Q1224 459 1234.5 458.4 L1258.6 458.4 Q1270 459 1280.3 463.2 L1288.8 454.8 Q1284 448 1285.1 442.7 Q1286 437 1291.2 436.7 Q1296 438 1298.4 442.7 Q1302 449 1303.2 456 L1312.9 468 L1322.5 477.7 Q1330 486 1333.4 494.6 Q1331 500 1324.9 501.8 L1308 504.2 L1294.8 509 L1290 516 L1303.2 530.7 Q1299 535 1293.6 533.1 L1280.3 518.7 Q1270 513 1258.6 511.4 L1228.5 512.6 L1198.4 518.7 L1182 511 L1175 520 L1187.5 533.1 L1178 533 L1171.8 535.5 L1166 508 L1177.9 499.4 L1168.2 489.7 L1159.8 490Z" fill="#e7b19d"/>
<path d="M1195 470 Q1225 460 1260 462 Q1280 468 1285 480 Q1270 500 1230 502 Q1200 500 1195 470Z" fill="#eebfad" opacity="0.7"/>
<ellipse cx="1246.6" cy="472.9" rx="9" ry="5" fill="#9a8a88" opacity="0.8" transform="rotate(20 1246.6 472.9)"/>
<path d="M1287 458 Q1296 456 1302 466 Q1302 478 1296 484 Q1288 474 1287 458Z" fill="#f4d0bc"/>
<path d="M1286 440 Q1292 438 1297 446 L1300 456 L1290 454Z" fill="#f2d2b8"/>
<circle cx="1320" cy="486" r="2.4" fill="#7a2030"/>
<ellipse cx="1318" cy="470" rx="3" ry="2.2" fill="#f4ead8"/>
</g></g>
<text class="b" x="813.7" y="583" text-anchor="middle" font-size="16.5" textLength="144.5" lengthAdjust="spacingAndGlyphs">Carbon Nanotube</text>
<text class="b" x="813.7" y="604" text-anchor="middle" font-size="16.5" textLength="72.5" lengthAdjust="spacingAndGlyphs">Injection</text>
<text class="b" x="1032.3" y="593" text-anchor="middle" font-size="16.5" textLength="118.5" lengthAdjust="spacingAndGlyphs">NIR Irradiation</text>
<text class="b" x="1251.5" y="583" text-anchor="middle" font-size="16.5" textLength="151.3" lengthAdjust="spacingAndGlyphs">Tumor Destruction</text>
<text class="b" x="1251.5" y="604" text-anchor="middle" font-size="16.5" textLength="81" lengthAdjust="spacingAndGlyphs">&amp; Survival</text>

</g>
<g id="panel-d">
<text class="b" x="1367.5" y="39.2" font-size="43" textLength="52.5" lengthAdjust="spacingAndGlyphs">(d)</text>
<defs>
<linearGradient id="gBar" x1="0" y1="0" x2="0" y2="1"><stop offset="0" stop-color="#fff4e8"/><stop offset="0.1" stop-color="#ffb0b0"/><stop offset="0.22" stop-color="#f01848"/><stop offset="0.36" stop-color="#f87818"/><stop offset="0.5" stop-color="#f8e018"/><stop offset="0.64" stop-color="#48c040"/><stop offset="0.78" stop-color="#1890e8"/><stop offset="0.93" stop-color="#1040c0"/><stop offset="1" stop-color="#080860"/></linearGradient>
</defs>
<clipPath id="cpd0"><rect x="1485.6" y="8.2" width="82.2" height="179.2"/></clipPath>
<rect x="1485.6" y="8.2" width="82.2" height="179.2" fill="#030350"/>
<g clip-path="url(#cpd0)">
<path d="M1522.7 36 L1532.7 40 L1538.7 52 L1544.7 64 L1551.7 80 L1555.7 100 L1557.7 122 L1554.7 140 L1548.7 154 L1538.7 164 L1534.7 176 L1526.7 180 L1518.7 172 L1510.7 162 L1500.7 150 L1494.7 134 L1492.7 116 L1495.7 96 L1502.7 76 L1510.7 60 L1514.7 46Z" fill="#1458cc" filter="url(#bl3)"/>
<path d="M1524.7 44 L1534.7 56 L1544.7 76 L1549.7 100 L1550.7 122 L1546.7 140 L1534.7 152 L1516.7 152 L1504.7 140 L1499.7 120 L1501.7 98 L1509.7 74 L1516.7 56Z" fill="#2088ea" filter="url(#bl3)"/>
<ellipse cx="1524.7" cy="138" rx="20.0" ry="8" fill="#30a0f0" opacity="0.6" filter="url(#bl3)"/>
<ellipse cx="1527.7" cy="53" rx="11.0" ry="3.5" fill="#40c070" opacity="0.8" filter="url(#bl2)"/>
<path d="M1518.7 160 L1512.7 182 M1526.7 160 L1536.7 178" stroke="#1a6ad8" stroke-width="5" filter="url(#bl2)" opacity="0.8"/>
<path d="M1520.7 64 L1530.7 58 L1536.7 68 L1540.7 84 L1538.7 100 L1542.7 116 L1532.7 112 L1522.7 120 L1512.7 118 L1510.7 100 L1508.7 88 L1516.7 80Z" fill="#3cb878" filter="url(#bl3)"/>
<path d="M1518.7 80 L1526.7 72 L1532.7 84 L1528.7 100 L1520.7 106 L1514.7 96Z" fill="#7cc83a" filter="url(#bl2)"/>
</g>
<clipPath id="cpd1"><rect x="1571.1" y="8.2" width="81.4" height="179.2"/></clipPath>
<rect x="1571.1" y="8.2" width="81.4" height="179.2" fill="#030350"/>
<g clip-path="url(#cpd1)">
<path d="M1610.7 36 L1621.1 40 L1627.4 52 L1633.6 64 L1640.9 80 L1645.0 100 L1647.1 122 L1644.0 140 L1637.8 154 L1627.4 164 L1623.2 176 L1614.9 180 L1606.6 172 L1598.2 162 L1587.8 150 L1581.6 134 L1579.5 116 L1582.6 96 L1589.9 76 L1598.2 60 L1602.4 46Z" fill="#1458cc" filter="url(#bl3)"/>
<path d="M1612.8 44 L1623.2 56 L1633.6 76 L1638.8 100 L1639.8 122 L1635.7 140 L1623.2 152 L1604.5 152 L1592.0 140 L1586.8 120 L1588.9 98 L1597.2 74 L1604.5 56Z" fill="#2088ea" filter="url(#bl3)"/>
<ellipse cx="1612.8" cy="138" rx="20.8" ry="8" fill="#30a0f0" opacity="0.6" filter="url(#bl3)"/>
<ellipse cx="1615.9" cy="53" rx="11.4" ry="3.5" fill="#40c070" opacity="0.8" filter="url(#bl2)"/>
<path d="M1606.6 160 L1600.3 182 M1614.9 160 L1625.3 178" stroke="#1a6ad8" stroke-width="5" filter="url(#bl2)" opacity="0.8"/>
<path d="M1605.5 57.0 L1611.9 65.7 L1620.4 57.0 L1626.8 65.7 L1624.7 81.0 L1626.8 98.5 L1633.2 122.6 L1622.5 116.0 L1611.9 107.3 L1603.3 116.0 L1592.7 113.9 L1590.5 98.5 L1586.2 87.6 L1592.7 76.7 L1599.1 70.1Z" fill="#44c048" filter="url(#bl2)"/>
<path d="M1607.6 74.1 L1615.4 70.2 L1620.3 80.0 L1620.3 93.7 L1625.2 111.4 L1615.4 103.5 L1607.6 101.6 L1599.8 105.5 L1594.9 95.7 L1592.9 85.9 L1597.8 78.0Z" fill="#f4e41c" filter="url(#bl2)"/>
<ellipse cx="1607.6" cy="89.8" rx="7.4" ry="8.0" fill="#f89018" filter="url(#bl1)"/>
<ellipse cx="1607.6" cy="89.8" rx="6.2" ry="7.2" fill="#f01444" filter="url(#bl1)"/>
<ellipse cx="1608.1" cy="89.8" rx="2.5" ry="4.0" fill="#fff2e4" filter="url(#bl04)"/>
</g>
<clipPath id="cpd2"><rect x="1656.6" y="8.2" width="80.6" height="179.2"/></clipPath>
<rect x="1656.6" y="8.2" width="80.6" height="179.2" fill="#030350"/>
<g clip-path="url(#cpd2)">
<path d="M1695.7 36 L1706.5 40 L1713.0 52 L1719.5 64 L1727.1 80 L1731.4 100 L1733.5 122 L1730.3 140 L1723.8 154 L1713.0 164 L1708.7 176 L1700.1 180 L1691.4 172 L1682.8 162 L1672.0 150 L1665.5 134 L1663.3 116 L1666.6 96 L1674.1 76 L1682.8 60 L1687.1 46Z" fill="#1458cc" filter="url(#bl3)"/>
<path d="M1697.9 44 L1708.7 56 L1719.5 76 L1724.9 100 L1726.0 122 L1721.7 140 L1708.7 152 L1689.3 152 L1676.3 140 L1670.9 120 L1673.1 98 L1681.7 74 L1689.3 56Z" fill="#2088ea" filter="url(#bl3)"/>
<ellipse cx="1697.9" cy="138" rx="21.6" ry="8" fill="#30a0f0" opacity="0.6" filter="url(#bl3)"/>
<ellipse cx="1701.1" cy="53" rx="11.9" ry="3.5" fill="#40c070" opacity="0.8" filter="url(#bl2)"/>
<path d="M1691.4 160 L1684.9 182 M1700.1 160 L1710.9 178" stroke="#1a6ad8" stroke-width="5" filter="url(#bl2)" opacity="0.8"/>
<path d="M1690.7 56.0 L1697.6 65.5 L1706.9 56.0 L1713.9 65.5 L1711.5 82.1 L1713.9 101.1 L1720.8 127.2 L1709.2 120.1 L1697.6 110.6 L1688.4 120.1 L1676.8 117.7 L1674.5 101.1 L1669.8 89.2 L1676.8 77.3 L1683.7 70.2Z" fill="#44c048" filter="url(#bl2)"/>
<path d="M1693.0 74.6 L1701.5 70.3 L1706.8 81.0 L1706.8 95.9 L1712.2 115.0 L1701.5 106.5 L1693.0 104.4 L1684.5 108.6 L1679.2 98.0 L1677.0 87.3 L1682.4 78.8Z" fill="#f4e41c" filter="url(#bl2)"/>
<ellipse cx="1693" cy="91.6" rx="9.7" ry="10.5" fill="#f89018" filter="url(#bl1)"/>
<ellipse cx="1693" cy="91.6" rx="8.7" ry="9.7" fill="#f01444" filter="url(#bl1)"/>
<ellipse cx="1693.5" cy="91.6" rx="5.0" ry="6.5" fill="#fff2e4" filter="url(#bl04)"/>
</g>
<clipPath id="cpd3"><rect x="1740.5" y="8.2" width="84.7" height="179.2"/></clipPath>
<rect x="1740.5" y="8.2" width="84.7" height="179.2" fill="#030350"/>
<g clip-path="url(#cpd3)">
<path d="M1781.6 36 L1792.8 40 L1799.5 52 L1806.2 64 L1814.1 80 L1818.6 100 L1820.8 122 L1817.4 140 L1810.7 154 L1799.5 164 L1795.0 176 L1786.1 180 L1777.1 172 L1768.2 162 L1757.0 150 L1750.2 134 L1748.0 116 L1751.4 96 L1759.2 76 L1768.2 60 L1772.6 46Z" fill="#1458cc" filter="url(#bl3)"/>
<path d="M1783.8 44 L1795.0 56 L1806.2 76 L1811.8 100 L1813.0 122 L1808.5 140 L1795.0 152 L1774.9 152 L1761.4 140 L1755.8 120 L1758.1 98 L1767.0 74 L1774.9 56Z" fill="#2088ea" filter="url(#bl3)"/>
<ellipse cx="1783.8" cy="138" rx="22.4" ry="8" fill="#30a0f0" opacity="0.6" filter="url(#bl3)"/>
<ellipse cx="1787.2" cy="53" rx="12.3" ry="3.5" fill="#40c070" opacity="0.8" filter="url(#bl2)"/>
<path d="M1777.1 160 L1770.4 182 M1786.1 160 L1797.3 178" stroke="#1a6ad8" stroke-width="5" filter="url(#bl2)" opacity="0.8"/>
<path d="M1777.0 57.1 L1784.5 67.3 L1794.5 57.1 L1802.0 67.3 L1799.5 85.2 L1802.0 105.8 L1809.5 133.9 L1797.0 126.2 L1784.5 116.0 L1774.5 126.2 L1762.0 123.7 L1759.5 105.8 L1754.5 92.9 L1762.0 80.1 L1769.5 72.4Z" fill="#44c048" filter="url(#bl2)"/>
<path d="M1779.5 77.1 L1788.7 72.5 L1794.4 84.0 L1794.4 100.1 L1800.2 120.8 L1788.7 111.6 L1779.5 109.3 L1770.3 113.9 L1764.6 102.4 L1762.3 90.9 L1768.0 81.7Z" fill="#f4e41c" filter="url(#bl2)"/>
<ellipse cx="1779.5" cy="95.5" rx="11.0" ry="12.0" fill="#f89018" filter="url(#bl1)"/>
<ellipse cx="1779.5" cy="95.5" rx="9.7" ry="10.7" fill="#f01444" filter="url(#bl1)"/>
<ellipse cx="1780.0" cy="95.5" rx="6.5" ry="8.0" fill="#fff2e4" filter="url(#bl04)"/>
</g>
<clipPath id="cpd4"><rect x="1830.4" y="8.2" width="84.1" height="179.2"/></clipPath>
<rect x="1830.4" y="8.2" width="84.1" height="179.2" fill="#030350"/>
<g clip-path="url(#cpd4)">
<path d="M1871.1 36 L1882.7 40 L1889.7 52 L1896.7 64 L1904.8 80 L1909.4 100 L1911.7 122 L1908.2 140 L1901.3 154 L1889.7 164 L1885.0 176 L1875.8 180 L1866.5 172 L1857.2 162 L1845.6 150 L1838.7 134 L1836.3 116 L1839.8 96 L1847.9 76 L1857.2 60 L1861.9 46Z" fill="#1458cc" filter="url(#bl3)"/>
<path d="M1873.5 44 L1885.0 56 L1896.7 76 L1902.5 100 L1903.6 122 L1899.0 140 L1885.0 152 L1864.2 152 L1850.2 140 L1844.5 120 L1846.8 98 L1856.0 74 L1864.2 56Z" fill="#2088ea" filter="url(#bl3)"/>
<ellipse cx="1873.5" cy="138" rx="23.2" ry="8" fill="#30a0f0" opacity="0.6" filter="url(#bl3)"/>
<ellipse cx="1876.9" cy="53" rx="12.8" ry="3.5" fill="#40c070" opacity="0.8" filter="url(#bl2)"/>
<path d="M1866.5 160 L1859.5 182 M1875.8 160 L1887.4 178" stroke="#1a6ad8" stroke-width="5" filter="url(#bl2)" opacity="0.8"/>
<path d="M1866.2 53.8 L1874.3 64.8 L1885.0 53.8 L1893.1 64.8 L1890.4 84.0 L1893.1 106.0 L1901.1 136.2 L1887.7 128.0 L1874.3 117.0 L1863.5 128.0 L1850.1 125.2 L1847.4 106.0 L1842.1 92.2 L1850.1 78.5 L1858.2 70.2Z" fill="#44c048" filter="url(#bl2)"/>
<path d="M1868.9 75.3 L1878.8 70.4 L1884.9 82.7 L1884.9 99.9 L1891.1 122.1 L1878.8 112.2 L1868.9 109.8 L1859.0 114.7 L1852.9 102.4 L1850.4 90.1 L1856.6 80.2Z" fill="#f4e41c" filter="url(#bl2)"/>
<ellipse cx="1868.9" cy="95" rx="12.4" ry="13.5" fill="#f89018" filter="url(#bl1)"/>
<ellipse cx="1868.9" cy="95" rx="11.2" ry="12.2" fill="#f01444" filter="url(#bl1)"/>
<ellipse cx="1869.4" cy="95" rx="7.5" ry="9.0" fill="#fff2e4" filter="url(#bl04)"/>
</g>
<text class="b" x="1518" y="225" text-anchor="middle" font-size="24" textLength="43.7" lengthAdjust="spacingAndGlyphs" stroke="#111" stroke-width="0.4">1min</text>
<text class="b" x="1603.6" y="225" text-anchor="middle" font-size="24" textLength="45.3" lengthAdjust="spacingAndGlyphs" stroke="#111" stroke-width="0.4">2min</text>
<text class="b" x="1689.3" y="225" text-anchor="middle" font-size="24" textLength="45" lengthAdjust="spacingAndGlyphs" stroke="#111" stroke-width="0.4">5min</text>
<text class="b" x="1775.6" y="225" text-anchor="middle" font-size="24" textLength="45.3" lengthAdjust="spacingAndGlyphs" stroke="#111" stroke-width="0.4">8min</text>
<text class="b" x="1868.2" y="225" text-anchor="middle" font-size="24" textLength="54.8" lengthAdjust="spacingAndGlyphs" stroke="#111" stroke-width="0.4">10min</text>
<rect x="1921" y="70.6" width="8.8" height="85.4" fill="url(#gBar)"/>
<text class="b" x="1934.6" y="72.9" font-size="24" textLength="21.5" lengthAdjust="spacingAndGlyphs">55</text>
<text class="b" x="1961" y="65.9" font-size="13" textLength="7" lengthAdjust="spacingAndGlyphs">o</text>
<text class="b" x="1968.5" y="72.9" font-size="24" textLength="15" lengthAdjust="spacingAndGlyphs">C</text>
<text class="b" x="1934.6" y="174.3" font-size="24" textLength="21.5" lengthAdjust="spacingAndGlyphs">25</text>
<text class="b" x="1961" y="167.3" font-size="13" textLength="7" lengthAdjust="spacingAndGlyphs">o</text>
<text class="b" x="1968.5" y="174.3" font-size="24" textLength="15" lengthAdjust="spacingAndGlyphs">C</text>
<rect x="1510" y="403.8" width="40.1" height="216.7" fill="#4a8ef6"/>
<path d="M1530 287.1V520.2M1526.5 287.1h7M1526.5 520.2h7" stroke="#1a1a1a" stroke-width="1.3" fill="none"/>
<rect x="1603" y="613.8" width="40.1" height="6.7" fill="#4a8ef6"/>
<path d="M1623.5 601.3V620M1620.0 601.3h7M1620.0 620h7" stroke="#1a1a1a" stroke-width="1.3" fill="none"/>
<rect x="1483.4" y="262.1" width="187.0" height="358.4" fill="none" stroke="#000" stroke-width="2.2"/>
<text class="b" x="1466.5" y="627.1" text-anchor="end" font-size="18.5">0</text>
<text class="b" x="1466.5" y="555.4" text-anchor="end" font-size="18.5">10</text>
<text class="b" x="1466.5" y="483.7" text-anchor="end" font-size="18.5">20</text>
<text class="b" x="1466.5" y="412.1" text-anchor="end" font-size="18.5">30</text>
<text class="b" x="1466.5" y="340.4" text-anchor="end" font-size="18.5">40</text>
<text class="b" x="1466.5" y="268.7" text-anchor="end" font-size="18.5">50</text>
<path d="M1477.4 620.5H1483.4M1477.4 548.8H1483.4M1477.4 477.1H1483.4M1477.4 405.5H1483.4M1477.4 333.8H1483.4M1477.4 262.1H1483.4" stroke="#000" stroke-width="2"/>
<text transform="translate(1424,421.5) rotate(-90)" text-anchor="middle" font-size="23.5" textLength="242" lengthAdjust="spacingAndGlyphs" stroke="#111" stroke-width="0.55">NO. of lung metastases</text>
<text class="b" x="1525.4" y="653" text-anchor="middle" font-size="19.5" textLength="74.4" lengthAdjust="spacingAndGlyphs">Surgery</text>
<text class="b" x="1618" y="653" text-anchor="middle" font-size="19.5" textLength="53" lengthAdjust="spacingAndGlyphs">PTT +</text>
<text class="b" x="1621.3" y="676.3" text-anchor="middle" font-size="19.5" textLength="107" lengthAdjust="spacingAndGlyphs">Anti-CTLA4</text>
<rect x="1819.1" y="347" width="37.9" height="273.5" fill="#4a8ef6"/>
<path d="M1837.7 273.3V419.2M1834.2 273.3h7M1834.2 419.2h7" stroke="#1a1a1a" stroke-width="1.3" fill="none"/>
<rect x="1913.7" y="476.9" width="37.8" height="143.6" fill="#4a8ef6"/>
<path d="M1933 461.5V491.3M1929.5 461.5h7M1929.5 491.3h7" stroke="#1a1a1a" stroke-width="1.3" fill="none"/>
<rect x="1789" y="256.3" width="190.4" height="364.2" fill="none" stroke="#000" stroke-width="2.2"/>
<text class="b" x="1772.5" y="627.1" text-anchor="end" font-size="18.5">0</text>
<text class="b" x="1772.5" y="554.3" text-anchor="end" font-size="18.5">100</text>
<text class="b" x="1772.5" y="481.4" text-anchor="end" font-size="18.5">200</text>
<text class="b" x="1772.5" y="408.6" text-anchor="end" font-size="18.5">300</text>
<text class="b" x="1772.5" y="335.7" text-anchor="end" font-size="18.5">400</text>
<text class="b" x="1772.5" y="262.9" text-anchor="end" font-size="18.5">500</text>
<path d="M1783 620.5H1789M1783 547.7H1789M1783 474.8H1789M1783 402.0H1789M1783 329.1H1789M1783 256.3H1789" stroke="#000" stroke-width="2"/>
<text transform="translate(1719,396.7) rotate(-90)" text-anchor="middle" font-size="23.5" textLength="165" lengthAdjust="spacingAndGlyphs" stroke="#111" stroke-width="0.55">Lung Mass (mg)</text>
<text class="b" x="1838" y="653" text-anchor="middle" font-size="19.5" textLength="74.4" lengthAdjust="spacingAndGlyphs">Surgery</text>
<text class="b" x="1931.6" y="653" text-anchor="middle" font-size="19.5" textLength="53" lengthAdjust="spacingAndGlyphs">PTT +</text>
<text class="b" x="1933.9" y="676.3" text-anchor="middle" font-size="19.5" textLength="107" lengthAdjust="spacingAndGlyphs">Anti-CTLA4</text>

</g>
<g id="panel-e">
<text class="b" x="0.7000000000000002" y="764.9" font-size="43" textLength="51.3" lengthAdjust="spacingAndGlyphs">(e)</text>
<text class="b" x="297.4" y="786.8" text-anchor="middle" font-size="25" textLength="90" lengthAdjust="spacingAndGlyphs">12 min</text>
<text class="b" x="69.6" y="834.6" font-size="26.5" textLength="102.8" lengthAdjust="spacingAndGlyphs">Primary</text>
<text class="b" x="69.6" y="874.2" font-size="26.5" textLength="81.8" lengthAdjust="spacingAndGlyphs">tumor</text>
<text class="b" x="69.6" y="970.5" font-size="26.5" textLength="87.3" lengthAdjust="spacingAndGlyphs">Lymph</text>
<text class="b" x="69.6" y="1009.2" font-size="26.5" textLength="67.6" lengthAdjust="spacingAndGlyphs">node</text>
<text class="b" x="69.2" y="1158.4" font-size="26.5" textLength="101.8" lengthAdjust="spacingAndGlyphs">Primary</text>
<text class="b" x="69.2" y="1196.6" font-size="26.5" textLength="81.8" lengthAdjust="spacingAndGlyphs">tumor</text>
<text class="b" x="69.2" y="1293.2" font-size="26.5" textLength="87.3" lengthAdjust="spacingAndGlyphs">Lymph</text>
<text class="b" x="69.2" y="1332.4" font-size="26.5" textLength="67.6" lengthAdjust="spacingAndGlyphs">node</text>
<defs>
<linearGradient id="gIron" x1="0" y1="0" x2="0" y2="1"><stop offset="0" stop-color="#fff"/><stop offset="0.08" stop-color="#fff8c0"/><stop offset="0.2" stop-color="#ffe030"/><stop offset="0.38" stop-color="#ff9020"/><stop offset="0.55" stop-color="#f03050"/><stop offset="0.72" stop-color="#b030a0"/><stop offset="0.86" stop-color="#5a2a90"/><stop offset="1" stop-color="#1a1430"/></linearGradient>
<linearGradient id="gIron2" x1="0" y1="0" x2="0" y2="1"><stop offset="0" stop-color="#fff"/><stop offset="0.08" stop-color="#fff8c0"/><stop offset="0.2" stop-color="#ffe030"/><stop offset="0.4" stop-color="#ff9020"/><stop offset="0.58" stop-color="#e83858"/><stop offset="0.75" stop-color="#a030a0"/><stop offset="0.9" stop-color="#4a2a80"/><stop offset="1" stop-color="#25253f"/></linearGradient>
<radialGradient id="gHot1"><stop offset="0" stop-color="#fffbe0"/><stop offset="0.3" stop-color="#ffe838"/><stop offset="0.6" stop-color="#ff8a20"/><stop offset="1" stop-color="#f02848" stop-opacity="0"/></radialGradient>
</defs>
<clipPath id="cpe0"><rect x="206.4" y="801" width="191.2" height="128.4"/></clipPath>
<rect x="206.4" y="801" width="191.2" height="128.4" fill="#39356f"/>
<g clip-path="url(#cpe0)">
<path d="M290.6 930.9L290.6 877.4L289.4 839.3Q292.7 829.0 299.9 833.1L321.5 852.7Q334.9 869.2 333.9 889.7L337.0 930.9Z" fill="#6a3f9a" filter="url(#bl5)"/>
<ellipse cx="248.4" cy="900.0" rx="44" ry="21" fill="#9a3090" filter="url(#bl5)"/>
<ellipse cx="253.6" cy="899.0" rx="29" ry="12" fill="#ee2c50" filter="url(#bl3)"/>
<path d="M226.8 889.7L236.0 885.6L246.3 892.8L253.6 897.0L261.8 891.8L271.1 893.9L272.1 902.1L257.7 909.3L241.2 911.4L227.8 906.2Z" fill="#f63838" filter="url(#bl2)"/>
<path d="M229.9 891.8L238.1 890.3L246.3 897.0L251.5 899.0L258.7 897.5L259.2 903.1L248.4 906.2L239.1 907.8L230.4 904.2Z" fill="#ffb028" filter="url(#bl1)"/>
<path d="M230.9 893.4L237.6 892.3L244.3 898.0L245.3 904.2L238.1 906.7L231.4 903.1Z" fill="#fff64a" filter="url(#bl1)"/>
<circle cx="237.1" cy="899.5" r="2.5" fill="#ffffd0" filter="url(#bl1)"/>
<path d="M256.1 918.6L244.3 902.6M244.3 902.6L245.3 915.5M244.3 902.6L257.7 909.3" stroke="#15152a" stroke-width="2.6" fill="none" stroke-linecap="round"/>
<rect x="377" y="801" width="21" height="128.4" fill="#3a3a7c" opacity="0.9"/>
<path d="M384 813v104" stroke="#2a2a58" stroke-width="5" stroke-dasharray="3 14" opacity="0.7" filter="url(#bl1)"/>
<rect x="367" y="812.8" width="7.4" height="104" fill="url(#gIron)" filter="url(#bl04)"/>
<rect x="209.5" y="922.4" width="2" height="4" fill="#f4f4fa" filter="url(#bl04)"/><rect x="213" y="922.4" width="11" height="4" fill="#f4f4fa" filter="url(#bl04)"/><rect x="227" y="922.4" width="12" height="4" fill="#f4f4fa" filter="url(#bl04)"/>
<rect x="207.20000000000002" y="801.8" width="189.6" height="126.80000000000001" fill="none" stroke="#1c1660" stroke-width="1.6" opacity="0.8"/>
</g>
<clipPath id="cpe1"><rect x="206.4" y="960.1" width="191.2" height="128.4"/></clipPath>
<rect x="206.4" y="960.1" width="191.2" height="128.4" fill="#3a3872"/>
<g clip-path="url(#cpe1)">
<path d="M295.8 964.3L313.3 962.2L328.7 969.4L354.5 964.3L366.8 985.9L368.9 1027.1L366.8 1053.9L344.2 1047.7L333.9 1040.5L321.5 1038.4L303.0 1044.6L284.4 1050.8L291.7 1037.4L303.0 1026.1L317.4 1013.7L321.5 996.2L313.3 985.9L297.8 975.6Z" fill="#c42c6c" filter="url(#bl5)"/>
<path d="M328.7 975.6L354.5 971.5L364.8 991.0L365.8 1027.1L360.7 1043.6L344.2 1040.5L333.9 1033.3L323.6 1029.2L309.2 1033.3L298.9 1037.4L309.2 1026.1L322.6 1014.7L326.7 996.2Z" fill="#ee3058" filter="url(#bl3)"/>
<path d="M296.8 965.3L318.4 965.3L323.6 975.6L313.3 981.8L300.9 975.6Z" fill="#e02c80" filter="url(#bl3)" opacity="0.8"/>
<circle cx="317.4" cy="1031.4" r="7.5" fill="#f82c2c" filter="url(#bl2)"/>
<circle cx="317.4" cy="1031.4" r="3.4" fill="#ffe838" filter="url(#bl04)"/>
<path d="M332.3 1066.2L321.0 1041.0M321.0 1041.0L318.9 1057.0M321.0 1041.0L333.9 1050.8" stroke="#fff" stroke-width="2.6" fill="none" stroke-linecap="round"/>
<rect x="377" y="960.1" width="21" height="128.4" fill="#3a3a7c" opacity="0.9"/>
<path d="M384 972.1v104" stroke="#2a2a58" stroke-width="5" stroke-dasharray="3 14" opacity="0.7" filter="url(#bl1)"/>
<rect x="367" y="971.9" width="7.4" height="104" fill="url(#gIron)" filter="url(#bl04)"/>
<rect x="209.5" y="1081.5" width="2" height="4" fill="#f4f4fa" filter="url(#bl04)"/><rect x="213" y="1081.5" width="11" height="4" fill="#f4f4fa" filter="url(#bl04)"/><rect x="227" y="1081.5" width="12" height="4" fill="#f4f4fa" filter="url(#bl04)"/>
<rect x="207.20000000000002" y="960.9" width="189.6" height="126.80000000000001" fill="none" stroke="#1c1660" stroke-width="1.6" opacity="0.8"/>
</g>
<clipPath id="cpe2"><rect x="206.4" y="1121.1" width="191.2" height="128.4"/></clipPath>
<rect x="206.4" y="1121.1" width="191.2" height="128.4" fill="#27264a"/>
<g clip-path="url(#cpe2)">
<rect x="206.4" y="1121.1" width="80" height="128.4" fill="#232334" filter="url(#bl8)"/>
<path d="M246.3 1209.6L280.5 1195.5L320.7 1201.5L365.0 1219.6L381.1 1247.8L236.2 1247.8Z" fill="#3c3084" filter="url(#bl8)" opacity="0.9"/>
<path d="M288.5 1133.1L312.7 1128.1L340.8 1131.1L359.0 1147.2L364.0 1175.4L362.0 1211.6L352.9 1223.7L328.8 1217.6L312.7 1209.6L303.6 1199.5L311.7 1183.4L318.7 1167.3L308.7 1151.2L293.6 1145.2Z" fill="#803a9e" filter="url(#bl5)" opacity="1"/>
<path d="M320.7 1165.3L352.9 1155.2L361.0 1195.5L348.9 1215.6L324.7 1209.6L316.7 1191.5Z" fill="#8e3aa0" filter="url(#bl5)" opacity="1"/>
<path d="M270.4 1196.5L284.5 1198.5L296.6 1208.6L312.7 1204.5L328.8 1202.5L341.9 1209.6L320.7 1218.6L300.6 1220.6L284.5 1216.6L272.4 1206.5Z" fill="#c42c84" filter="url(#bl3)" opacity="1"/>
<path d="M273.4 1199.5L282.5 1201.5L288.5 1209.6L280.5 1213.6L274.4 1207.6Z" fill="#e43068" filter="url(#bl2)" opacity="1"/>
<rect x="366.6" y="1131.6" width="7.8" height="108" fill="url(#gIron2)" filter="url(#bl04)"/>
<rect x="209.5" y="1242.5" width="2" height="4" fill="#f4f4fa" filter="url(#bl04)"/><rect x="213" y="1242.5" width="11" height="4" fill="#f4f4fa" filter="url(#bl04)"/><rect x="227" y="1242.5" width="12" height="4" fill="#f4f4fa" filter="url(#bl04)"/>
<rect x="207.20000000000002" y="1121.8999999999999" width="189.6" height="126.80000000000001" fill="none" stroke="#1c1660" stroke-width="1.6" opacity="0.8"/>
</g>
<clipPath id="cpe3"><rect x="206.4" y="1276.8" width="191.2" height="128.4"/></clipPath>
<rect x="206.4" y="1276.8" width="191.2" height="128.4" fill="#28264c"/>
<g clip-path="url(#cpe3)">
<rect x="206.4" y="1276.8" width="60" height="128.4" fill="#232336" filter="url(#bl8)"/>
<path d="M224.1 1366.5L260.4 1346.4L284.5 1336.3L284.5 1404.7L220.1 1404.7Z" fill="#3a2e80" filter="url(#bl8)" opacity="0.85"/>
<path d="M266.4 1294.1L290.5 1288.0L320.7 1292.1L340.8 1306.1L357.9 1326.3L366.0 1356.4L362.0 1382.6L340.8 1393.7L300.6 1391.7L286.5 1356.4L284.5 1326.3L270.4 1308.2Z" fill="#7a3298" filter="url(#bl5)" opacity="1"/>
<path d="M324.7 1316.2L348.9 1324.3L361.0 1356.4L356.9 1380.6L338.8 1390.7L328.8 1356.4Z" fill="#b83088" filter="url(#bl5)" opacity="1"/>
<path d="M240.2 1358.5L260.4 1362.9L284.5 1356.4L294.6 1340.4L312.7 1333.9L336.8 1340.4L345.9 1362.5L336.8 1381.0L312.7 1387.0L280.5 1387.0L252.3 1376.6Z" fill="#e63c34" filter="url(#bl3)" opacity="1"/>
<path d="M296.6 1342.4L312.7 1337.3L330.8 1343.4L336.8 1362.5L328.8 1376.6L308.7 1380.6L294.6 1374.6L290.5 1358.5Z" fill="#f26a26" filter="url(#bl3)" opacity="1"/>
<path d="M243.3 1360.5L260.4 1365.5L280.5 1364.5L276.5 1376.6L256.3 1374.6Z" fill="#f04c30" filter="url(#bl2)" opacity="1"/>
<path d="M269.4 1355.4L290.9 1373.6M290.9 1373.6L275.5 1371.5M290.9 1373.6L285.5 1358.1" stroke="#fff" stroke-width="2.6" fill="none" stroke-linecap="round"/>
<rect x="366.6" y="1287.3" width="7.8" height="108" fill="url(#gIron2)" filter="url(#bl04)"/>
<rect x="209.5" y="1398.2" width="2" height="4" fill="#f4f4fa" filter="url(#bl04)"/><rect x="213" y="1398.2" width="11" height="4" fill="#f4f4fa" filter="url(#bl04)"/><rect x="227" y="1398.2" width="12" height="4" fill="#f4f4fa" filter="url(#bl04)"/>
<rect x="207.20000000000002" y="1277.6" width="189.6" height="126.80000000000001" fill="none" stroke="#1c1660" stroke-width="1.6" opacity="0.8"/>
</g>
<path d="M303 1258.5 L286.5 1216 M286.5 1216 L284 1227 M286.5 1216 L296 1224" stroke="#151520" stroke-width="2" fill="none" stroke-linecap="round"/>
<path d="M425.6 814.1 Q440.25 815.1 439.25 830.1 L439.25 932.5 Q439.25 944.5 452.9 946.5 Q439.25 948.5 439.25 960.5 L439.25 1062.8 Q440.25 1077.8 425.6 1078.8" stroke="#1a1a1a" stroke-width="1.8" fill="none"/>
<path d="M425.7 1129.2 Q440.4 1130.2 439.4 1145.2 L439.4 1247 Q439.4 1259 453.1 1261 Q439.4 1263 439.4 1275 L439.4 1378.3 Q440.4 1393.3 425.7 1394.3" stroke="#1a1a1a" stroke-width="1.8" fill="none"/>
<text class="b" transform="translate(467.5,944.4) rotate(90)" text-anchor="middle" font-size="32" textLength="121.4" lengthAdjust="spacingAndGlyphs">SWCNT</text>
<text class="b" transform="translate(467.5,1251.2) rotate(90)" text-anchor="middle" font-size="32" textLength="92.7" lengthAdjust="spacingAndGlyphs">Saline</text>

</g>
<g id="panel-e2">
<defs>
<linearGradient id="gBlueArr" x1="0" y1="0" x2="1" y2="0"><stop offset="0" stop-color="#a8bce0"/><stop offset="0.35" stop-color="#4a74c4"/><stop offset="1" stop-color="#3a64b8"/></linearGradient>
<linearGradient id="gLaser" x1="0" y1="0" x2="0" y2="1"><stop offset="0" stop-color="#d8282c"/><stop offset="1" stop-color="#f4b0b0"/></linearGradient>
<g id="mouseO">
<path d="M1.9 66.8 Q3.0 77.3 5.7 82.3 Q8.4 87.2 13.3 88.9 Q18.1 90.7 22.9 88.6 Q27.8 86.5 31.3 80.3 Q34.8 74.2 36.3 65.2 Q37.8 56.2 38.3 48.8 L38.8 41.3" fill="none" stroke="#111" stroke-width="4.2" stroke-linecap="round"/>
<path d="M1.9 66.8 Q3.0 77.3 5.7 82.3 Q8.4 87.2 13.3 88.9 Q18.1 90.7 22.9 88.6 Q27.8 86.5 31.3 80.3 Q34.8 74.2 36.3 65.2 Q37.8 56.2 38.3 48.8 L38.8 41.3" fill="none" stroke="#fff" stroke-width="0.9" stroke-linecap="round"/>
<path d="M0.0 0.0 L3.2 7.0 L5.8 13.2 L11.1 17.6 L18.1 19.0 L20.2 22.0 L16.7 25.0 L10.2 23.9 L8.4 26.7 L9.7 35.2 L8.4 42.2 L11.1 49.2 L14.9 55.4 L20.7 57.7 L25.5 59.8 L23.7 63.6 L18.1 62.6 L11.1 64.3 L5.8 66.1 L1.4 66.8 L-4.7 64.7 L-10.0 67.1 L-16.7 72.4 L-19.2 70.3 L-14.6 65.0 L-11.4 59.8 L-10.7 52.7 L-9.8 42.2 L-9.0 33.4 L-8.6 26.7 L-11.8 23.9 L-17.1 23.6 L-20.0 20.4 L-17.1 17.2 L-10.0 17.6 L-5.6 13.4 L-3.0 7.0Z" fill="#fff" stroke="#111" stroke-width="1.6" stroke-linejoin="round" vector-effect="non-scaling-stroke"/>
<path d="M-1.2 2.5 L0 5.5 L1.2 2.5" stroke="#111" stroke-width="0.8" fill="none"/>
</g>
</defs>
<use href="#mouseO" transform="translate(607.4,787.6) scale(1.0)"/>
<use href="#mouseO" transform="translate(788.0,787.6) scale(1.0)"/>
<use href="#mouseO" transform="translate(935.0,788.1) scale(1.23)"/>
<use href="#mouseO" transform="translate(1042.2,788.1) scale(1.23)"/>
<use href="#mouseO" transform="translate(935.0,954.5) scale(1.23)"/>
<use href="#mouseO" transform="translate(1042.2,954.5) scale(1.23)"/>
<circle cx="586.8" cy="861.3" r="4" fill="#c8649a"/>
<circle cx="767.9" cy="861.3" r="4" fill="#c8649a"/>
<circle cx="908.6" cy="883.8" r="4.5" fill="#d8508a"/>
<circle cx="908.6" cy="1050.1" r="4.5" fill="#d8508a"/>
<circle cx="924.8" cy="1037.1" r="2" fill="#d8508a"/>
<circle cx="1031.6" cy="1037.1" r="7.5" fill="#cc64a0"/>
<path d="M1023.9 1044.8L1019.7 1051.8" stroke="#111" stroke-width="2"/>
<ellipse cx="1039.0" cy="819.8" rx="3" ry="5" fill="#f0b090"/><ellipse cx="1045.0" cy="819.8" rx="3" ry="5" fill="#f0b090"/>
<ellipse cx="1039.0" cy="986.8" rx="3" ry="5" fill="#e07a90"/><ellipse cx="1045.0" cy="986.8" rx="3" ry="5" fill="#e07a90"/>
<path d="M1041.8 992.1L1040.8 1030.7" stroke="#f0a0a8" stroke-width="2.2" stroke-dasharray="3 1.5"/>
<path d="M886.5 816.7L880.0 819.3L904.3 884.9L913.6 881.2Z" fill="url(#gLaser)"/>
<path d="M903.0 804.9L898.7 806.5L921.7 870.8L927.8 868.6Z" fill="url(#gLaser)"/>
<path d="M886.5 983.7L880.0 986.3L904.3 1050.9L913.6 1047.2Z" fill="url(#gLaser)"/>
<rect x="529.9" y="949.9" width="140.6" height="107.2" stroke="#4a9ac8" stroke-width="1.3" stroke-dasharray="3 2.4" fill="none"/>
<rect x="711.0" y="949.9" width="140.6" height="107.2" stroke="#4a9ac8" stroke-width="1.3" stroke-dasharray="3 2.4" fill="none"/>
<path d="M580.2 841.6H602.7V865.5H580.2Z M580.2 865.5L552.7 949.9 M602.7 865.5L628.3 949.9" stroke="#4a9ac8" stroke-width="1.3" stroke-dasharray="3 2.4" fill="none"/>
<path d="M760.2 841.6H783.4V865.5H760.2Z M760.2 865.5L733.8 949.9 M783.4 865.5L809.4 949.9" stroke="#4a9ac8" stroke-width="1.3" stroke-dasharray="3 2.4" fill="none"/>
<ellipse cx="689.9" cy="1003.3" rx="14.8" ry="45.0" stroke="#4a9ac8" stroke-width="1.3" stroke-dasharray="3 2.4" fill="none"/>
<path d="M687.4 975.2L692.3 975.2L694.4 1030.7L689.5 1030.7Z" fill="#222"/>
<path d="M599.2 963.2 Q594.9 985.0 592.1 1002.6 Q586.1 1018.4 556.3 1022.0 Q533.4 1023.7 534.5 1036.0 Q538.7 1050.1 561.5 1050.4 Q582.6 1046.6 590.7 1023.7 Q605.5 1007.9 640.6 1001.9 L665.3 993.5" fill="none" stroke="#111" stroke-width="2.6" stroke-linecap="round"/>
<path d="M783.1 965.7 Q779.5 985.0 776.0 1002.6 Q770.7 1018.4 739.1 1023.7 Q716.2 1027.2 719.8 1039.5 Q725.0 1051.1 746.1 1051.8 Q765.5 1048.3 774.3 1024.4 Q788.3 1009.6 823.5 1003.3 L849.9 994.9" fill="none" stroke="#111" stroke-width="2.6" stroke-linecap="round"/>
<path d="M539.4 1030.0H576.7L580.2 1037.8L572.1 1044.8H541.5Z" fill="#f4b8b8" opacity="0.9"/>
<path d="M723.3 1032.5Q746.1 1027.2 770.7 1029.0 L762.0 1046.6 Q742.6 1051.1 726.8 1045.5Z" fill="#e8a0a8" opacity="0.85"/>
<path d="M580.9 1030.7 Q605.5 1002.6 640.6 986.8" stroke="#e87080" stroke-width="1.6" stroke-dasharray="2.5 2.5" fill="none"/>
<path d="M767.2 1030.7 Q791.8 1002.6 825.2 986.8" stroke="#d89098" stroke-width="2" stroke-dasharray="2.5 2.5" fill="none"/>
<ellipse cx="645.9" cy="987.8" rx="8" ry="10.5" fill="#fde8ea" stroke="#7a60b0" stroke-width="1"/>
<ellipse cx="829.8" cy="987.8" rx="7.5" ry="10" fill="#e8c0c8" stroke="#7a60b0" stroke-width="1"/>
<path d="M547.5 1006.1L552.7 1020.9 M644.9 1030.7L644.9 1006.1" stroke="#111" stroke-width="1.2"/>
<text x="549.2" y="992.1" text-anchor="middle" font-size="9.5" font-style="italic" font-weight="bold" textLength="33" lengthAdjust="spacingAndGlyphs">Primary</text>
<text x="552.0" y="1004.4" text-anchor="middle" font-size="9.5" font-style="italic" font-weight="bold" textLength="24" lengthAdjust="spacingAndGlyphs">tumor</text>
<text x="642.4" y="973.8" text-anchor="middle" font-size="9.5" font-style="italic" font-weight="bold" textLength="54" lengthAdjust="spacingAndGlyphs">Lymph node</text>
<text x="637.8" y="1035.3" text-anchor="middle" font-size="9.5" font-style="italic" font-weight="bold" textLength="48" lengthAdjust="spacingAndGlyphs">Metastasis</text>
<text x="638.9" y="1046.6" text-anchor="middle" font-size="9.5" font-style="italic" font-weight="bold" textLength="24" lengthAdjust="spacingAndGlyphs">tumor</text>
<text class="b" x="689.9" y="834.9" text-anchor="middle" font-size="12.5" textLength="37" lengthAdjust="spacingAndGlyphs">SWNTs</text>
<text class="b" x="689.9" y="852.5" text-anchor="middle" font-size="12.5" textLength="45" lengthAdjust="spacingAndGlyphs">Injection</text>
<text class="b" x="856.9" y="834.9" text-anchor="middle" font-size="12.5" textLength="27" lengthAdjust="spacingAndGlyphs">Laser</text>
<text class="b" x="856.9" y="852.5" text-anchor="middle" font-size="12.5" textLength="54" lengthAdjust="spacingAndGlyphs">Irradiation</text>
<text class="b" x="1144.2" y="835.6" text-anchor="middle" font-size="11.5" textLength="40" lengthAdjust="spacingAndGlyphs">Survival</text>
<text class="b" x="1141.7" y="1011.4" text-anchor="middle" font-size="11.5" textLength="29" lengthAdjust="spacingAndGlyphs">Death</text>
<path d="M691.9 859.6L705.4 908.9L691.9 958.1L693.3 930.8L680.0 930.8L680.0 886.0L693.3 886.0Z" stroke="#1f4e8a" stroke-width="1.7" fill="#fff" stroke-linejoin="miter"/>
<path d="M856.3 859.6L869.8 908.9L856.3 958.1L857.7 930.8L844.4 930.8L844.4 886.0L857.7 886.0Z" stroke="#1f4e8a" stroke-width="1.7" fill="#fff" stroke-linejoin="miter"/>
<path d="M991.6 824.0H1004.6V812.0L1017.6 833.8L1004.6 855.6V843.7H991.6Z" stroke="#2a5aa4" stroke-width="1.5" fill="#fff" stroke-linejoin="miter"/>
<path d="M1096.0 821.5H1111.8V808.5L1119.5 833.8L1111.8 859.2V846.1H1096.0Z" fill="url(#gBlueArr)"/>
<path d="M991.6 994.5H1004.6V982.6L1017.6 1004.4L1004.6 1026.2V1014.2H991.6Z" stroke="#2a5aa4" stroke-width="1.5" fill="#fff" stroke-linejoin="miter"/>
<path d="M1096.0 992.1H1111.8V979.1L1119.5 1004.4L1111.8 1029.7V1016.7H1096.0Z" fill="url(#gBlueArr)"/>
<g transform="translate(725.0,978.0) rotate(-17)"><rect x="-5" y="-30" width="10" height="52" fill="#eef2f6" stroke="#555" stroke-width="1"/><rect x="-4" y="0" width="8" height="22" fill="#c8d8e8"/><rect x="-5" y="8" width="10" height="5" fill="#222"/><rect x="-8" y="-33" width="16" height="3" fill="#888"/><rect x="-2" y="-48" width="4" height="16" fill="#ddd" stroke="#666" stroke-width="0.8"/><ellipse cx="0" cy="-50" rx="6" ry="3" fill="#eee" stroke="#666" stroke-width="0.8"/><path d="M0 22 V40" stroke="#666" stroke-width="1"/></g>
<path d="M705.7 1001.9H723.3" stroke="#7ab8d8" stroke-width="3"/>

</g>
<g id="panel-e3">
<text class="b" x="509" y="1113.4" font-size="38" textLength="23" lengthAdjust="spacingAndGlyphs">a</text>
<text class="b" transform="translate(520.5,1266.4) rotate(-90)" text-anchor="middle" font-size="21" textLength="256.7" lengthAdjust="spacingAndGlyphs">Morbidity Free Survival (%)</text>
<text class="b" x="572.5" y="1404.7" text-anchor="end" font-size="21.5">0</text>
<text class="b" x="572.5" y="1354.1" text-anchor="end" font-size="21.5">20</text>
<text class="b" x="572.5" y="1303.4" text-anchor="end" font-size="21.5">40</text>
<text class="b" x="572.5" y="1252.8" text-anchor="end" font-size="21.5">60</text>
<text class="b" x="572.5" y="1202.2" text-anchor="end" font-size="21.5">80</text>
<text class="b" x="572.5" y="1151.5" text-anchor="end" font-size="21.5">100</text>
<text class="b" x="597.7" y="1431" text-anchor="middle" font-size="21.5">0</text>
<text class="b" x="691.9" y="1431" text-anchor="middle" font-size="21.5">10</text>
<text class="b" x="786.1" y="1431" text-anchor="middle" font-size="21.5">20</text>
<text class="b" x="880.2" y="1431" text-anchor="middle" font-size="21.5">30</text>
<text class="b" x="974.4" y="1431" text-anchor="middle" font-size="21.5">40</text>
<text class="b" x="1068.6" y="1431" text-anchor="middle" font-size="21.5">50</text>
<text class="b" x="1162.8" y="1431" text-anchor="middle" font-size="21.5">60</text>
<text class="b" x="885.9" y="1456.2" text-anchor="middle" font-size="17.5" textLength="47.5" lengthAdjust="spacingAndGlyphs">Days</text>
<path d="M592.7 1397.2H597.7M592.7 1346.6H597.7M592.7 1295.9H597.7M592.7 1245.3H597.7M592.7 1194.7H597.7M592.7 1144.0H597.7M597.7 1397.2v5M691.9 1397.2v5M786.1 1397.2v5M880.2 1397.2v5M974.4 1397.2v5M1068.6 1397.2v5M1162.8 1397.2v5" stroke="#111" stroke-width="1.6"/>
<path d="M597.7 1144.0 L616.5 1144.0 L635.4 1144.0 L654.2 1144.0 L673.0 1144.0 L691.9 1144.0 L710.7 1144.0 L729.6 1144.0 L748.4 1144.0 L767.2 1144.0 L786.1 1144.0 L804.9 1144.0 L823.7 1144.0 L842.6 1144.0 L861.4 1144.0 L880.2 1144.0 L899.1 1144.0 L917.9 1144.0 L936.8 1144.0 L955.6 1144.0 L974.4 1144.0 L993.3 1144.0 L1012.1 1144.0 L1030.9 1144.0 L1049.8 1144.0 L1068.6 1144.0 L1087.5 1144.0 L1087.5 1180.3 L1106.3 1180.3 L1125.1 1180.3 L1144.0 1180.3 L1162.8 1180.3" stroke="#111" stroke-width="2.6" fill="none" stroke-linejoin="miter"/>
<g fill="#111"><rect x="593.4" y="1139.8" width="8.6" height="8.6"/><rect x="612.2" y="1139.8" width="8.6" height="8.6"/><rect x="631.1" y="1139.8" width="8.6" height="8.6"/><rect x="649.9" y="1139.8" width="8.6" height="8.6"/><rect x="668.7" y="1139.8" width="8.6" height="8.6"/><rect x="687.6" y="1139.8" width="8.6" height="8.6"/><rect x="706.4" y="1139.8" width="8.6" height="8.6"/><rect x="725.3" y="1139.8" width="8.6" height="8.6"/><rect x="744.1" y="1139.8" width="8.6" height="8.6"/><rect x="762.9" y="1139.8" width="8.6" height="8.6"/><rect x="781.8" y="1139.8" width="8.6" height="8.6"/><rect x="800.6" y="1139.8" width="8.6" height="8.6"/><rect x="819.4" y="1139.8" width="8.6" height="8.6"/><rect x="838.3" y="1139.8" width="8.6" height="8.6"/><rect x="857.1" y="1139.8" width="8.6" height="8.6"/><rect x="876.0" y="1139.8" width="8.6" height="8.6"/><rect x="894.8" y="1139.8" width="8.6" height="8.6"/><rect x="913.6" y="1139.8" width="8.6" height="8.6"/><rect x="932.5" y="1139.8" width="8.6" height="8.6"/><rect x="951.3" y="1139.8" width="8.6" height="8.6"/><rect x="970.1" y="1139.8" width="8.6" height="8.6"/><rect x="989.0" y="1139.8" width="8.6" height="8.6"/><rect x="1007.8" y="1139.8" width="8.6" height="8.6"/><rect x="1026.6" y="1139.8" width="8.6" height="8.6"/><rect x="1045.5" y="1139.8" width="8.6" height="8.6"/><rect x="1064.3" y="1139.8" width="8.6" height="8.6"/><rect x="1083.2" y="1139.8" width="8.6" height="8.6"/><rect x="1083.2" y="1176.0" width="8.6" height="8.6"/><rect x="1102.0" y="1176.0" width="8.6" height="8.6"/><rect x="1120.8" y="1176.0" width="8.6" height="8.6"/><rect x="1139.7" y="1176.0" width="8.6" height="8.6"/><rect x="1158.5" y="1176.0" width="8.6" height="8.6"/></g>
<path d="M597.7 1144.0 L616.5 1144.0 L635.4 1144.0 L654.2 1144.0 L673.0 1144.0 L691.9 1144.0 L710.7 1144.0 L729.6 1144.0 L748.4 1144.0 L767.2 1144.0 L786.1 1144.0 L804.9 1144.0 L823.7 1144.0 L842.6 1144.0 L861.4 1144.0 L880.2 1144.0 L899.1 1144.0 L917.9 1144.0 L917.9 1180.3 L936.8 1180.3 L936.8 1216.5 L955.6 1216.5 L955.6 1252.7 L974.4 1252.7 L993.3 1252.7 L993.3 1288.6 L1012.1 1288.6 L1012.1 1324.8 L1030.9 1324.8 L1030.9 1361.0 L1049.8 1361.0 L1068.6 1361.0 L1087.5 1361.0 L1106.3 1361.0 L1125.1 1361.0 L1144.0 1361.0 L1162.8 1361.0" stroke="#2b50b4" stroke-width="2.4" fill="none" stroke-linejoin="miter"/>
<g fill="#2b50b4"><path d="M597.7 1140.0l3.6 4l-3.6 4l-3.6-4z"/><path d="M616.5 1140.0l3.6 4l-3.6 4l-3.6-4z"/><path d="M635.4 1140.0l3.6 4l-3.6 4l-3.6-4z"/><path d="M654.2 1140.0l3.6 4l-3.6 4l-3.6-4z"/><path d="M673.0 1140.0l3.6 4l-3.6 4l-3.6-4z"/><path d="M691.9 1140.0l3.6 4l-3.6 4l-3.6-4z"/><path d="M710.7 1140.0l3.6 4l-3.6 4l-3.6-4z"/><path d="M729.6 1140.0l3.6 4l-3.6 4l-3.6-4z"/><path d="M748.4 1140.0l3.6 4l-3.6 4l-3.6-4z"/><path d="M767.2 1140.0l3.6 4l-3.6 4l-3.6-4z"/><path d="M786.1 1140.0l3.6 4l-3.6 4l-3.6-4z"/><path d="M804.9 1140.0l3.6 4l-3.6 4l-3.6-4z"/><path d="M823.7 1140.0l3.6 4l-3.6 4l-3.6-4z"/><path d="M842.6 1140.0l3.6 4l-3.6 4l-3.6-4z"/><path d="M861.4 1140.0l3.6 4l-3.6 4l-3.6-4z"/><path d="M880.2 1140.0l3.6 4l-3.6 4l-3.6-4z"/><path d="M899.1 1140.0l3.6 4l-3.6 4l-3.6-4z"/><path d="M917.9 1140.0l3.6 4l-3.6 4l-3.6-4z"/><path d="M917.9 1176.3l3.6 4l-3.6 4l-3.6-4z"/><path d="M936.8 1176.3l3.6 4l-3.6 4l-3.6-4z"/><path d="M936.8 1212.5l3.6 4l-3.6 4l-3.6-4z"/><path d="M955.6 1212.5l3.6 4l-3.6 4l-3.6-4z"/><path d="M955.6 1248.7l3.6 4l-3.6 4l-3.6-4z"/><path d="M974.4 1248.7l3.6 4l-3.6 4l-3.6-4z"/><path d="M993.3 1248.7l3.6 4l-3.6 4l-3.6-4z"/><path d="M993.3 1284.6l3.6 4l-3.6 4l-3.6-4z"/><path d="M1012.1 1284.6l3.6 4l-3.6 4l-3.6-4z"/><path d="M1012.1 1320.8l3.6 4l-3.6 4l-3.6-4z"/><path d="M1030.9 1320.8l3.6 4l-3.6 4l-3.6-4z"/><path d="M1030.9 1357.0l3.6 4l-3.6 4l-3.6-4z"/><path d="M1049.8 1357.0l3.6 4l-3.6 4l-3.6-4z"/><path d="M1068.6 1357.0l3.6 4l-3.6 4l-3.6-4z"/><path d="M1087.5 1357.0l3.6 4l-3.6 4l-3.6-4z"/><path d="M1106.3 1357.0l3.6 4l-3.6 4l-3.6-4z"/><path d="M1125.1 1357.0l3.6 4l-3.6 4l-3.6-4z"/><path d="M1144.0 1357.0l3.6 4l-3.6 4l-3.6-4z"/><path d="M1162.8 1357.0l3.6 4l-3.6 4l-3.6-4z"/></g>
<path d="M597.7 1144.0 L616.5 1144.0 L635.4 1144.0 L654.2 1144.0 L673.0 1144.0 L691.9 1144.0 L710.7 1144.0 L729.6 1144.0 L748.4 1144.0 L767.2 1144.0 L786.1 1144.0 L804.9 1144.0 L823.7 1144.0 L842.6 1144.0 L842.6 1180.3 L861.4 1180.3 L861.4 1216.5 L880.2 1216.5 L880.2 1252.7 L899.1 1252.7 L917.9 1252.7 L936.8 1252.7 L936.8 1324.8 L955.6 1324.8 L955.6 1361.0 L974.4 1361.0 L993.3 1361.0 L1012.1 1361.0 L1012.1 1397.2" stroke="#8dc63f" stroke-width="2.6" fill="none" stroke-linejoin="miter"/>
<g fill="#8dc63f"><path d="M597.7 1139.0l5 8.6h-10z"/><path d="M616.5 1139.0l5 8.6h-10z"/><path d="M635.4 1139.0l5 8.6h-10z"/><path d="M654.2 1139.0l5 8.6h-10z"/><path d="M673.0 1139.0l5 8.6h-10z"/><path d="M691.9 1139.0l5 8.6h-10z"/><path d="M710.7 1139.0l5 8.6h-10z"/><path d="M729.6 1139.0l5 8.6h-10z"/><path d="M748.4 1139.0l5 8.6h-10z"/><path d="M767.2 1139.0l5 8.6h-10z"/><path d="M786.1 1139.0l5 8.6h-10z"/><path d="M804.9 1139.0l5 8.6h-10z"/><path d="M823.7 1139.0l5 8.6h-10z"/><path d="M842.6 1139.0l5 8.6h-10z"/><path d="M842.6 1175.3l5 8.6h-10z"/><path d="M861.4 1175.3l5 8.6h-10z"/><path d="M861.4 1211.5l5 8.6h-10z"/><path d="M880.2 1211.5l5 8.6h-10z"/><path d="M880.2 1247.7l5 8.6h-10z"/><path d="M899.1 1247.7l5 8.6h-10z"/><path d="M917.9 1247.7l5 8.6h-10z"/><path d="M936.8 1247.7l5 8.6h-10z"/><path d="M936.8 1319.8l5 8.6h-10z"/><path d="M955.6 1319.8l5 8.6h-10z"/><path d="M955.6 1356.0l5 8.6h-10z"/><path d="M974.4 1356.0l5 8.6h-10z"/><path d="M993.3 1356.0l5 8.6h-10z"/><path d="M1012.1 1356.0l5 8.6h-10z"/><path d="M1012.1 1392.2l5 8.6h-10z"/></g>
<path d="M597.7 1144.0 L616.5 1144.0 L635.4 1144.0 L654.2 1144.0 L673.0 1144.0 L691.9 1144.0 L710.7 1144.0 L729.6 1144.0 L748.4 1144.0 L767.2 1144.0 L786.1 1144.0 L804.9 1144.0 L823.7 1144.0 L823.7 1180.3 L842.6 1180.3 L842.6 1216.5 L861.4 1216.5 L861.4 1324.8 L880.2 1324.8 L880.2 1361.0 L899.1 1361.0 L917.9 1361.0 L917.9 1397.2 L936.8 1397.2 L955.6 1397.2 L974.4 1397.2 L993.3 1397.2 L1012.1 1397.2 L1030.9 1397.2 L1049.8 1397.2 L1068.6 1397.2 L1087.5 1397.2 L1106.3 1397.2 L1125.1 1397.2 L1144.0 1397.2 L1162.8 1397.2" stroke="#2e2e8e" stroke-width="2.6" fill="none" stroke-linejoin="miter"/>
<g fill="#2e2e8e"><circle cx="597.7" cy="1144.0" r="4.6"/><circle cx="616.5" cy="1144.0" r="4.6"/><circle cx="635.4" cy="1144.0" r="4.6"/><circle cx="654.2" cy="1144.0" r="4.6"/><circle cx="673.0" cy="1144.0" r="4.6"/><circle cx="691.9" cy="1144.0" r="4.6"/><circle cx="710.7" cy="1144.0" r="4.6"/><circle cx="729.6" cy="1144.0" r="4.6"/><circle cx="748.4" cy="1144.0" r="4.6"/><circle cx="767.2" cy="1144.0" r="4.6"/><circle cx="786.1" cy="1144.0" r="4.6"/><circle cx="804.9" cy="1144.0" r="4.6"/><circle cx="823.7" cy="1144.0" r="4.6"/><circle cx="823.7" cy="1180.3" r="4.6"/><circle cx="842.6" cy="1180.3" r="4.6"/><circle cx="842.6" cy="1216.5" r="4.6"/><circle cx="861.4" cy="1216.5" r="4.6"/><circle cx="861.4" cy="1324.8" r="4.6"/><circle cx="880.2" cy="1324.8" r="4.6"/><circle cx="880.2" cy="1361.0" r="4.6"/><circle cx="899.1" cy="1361.0" r="4.6"/><circle cx="917.9" cy="1361.0" r="4.6"/><circle cx="917.9" cy="1397.2" r="4.6"/><circle cx="936.8" cy="1397.2" r="4.6"/><circle cx="955.6" cy="1397.2" r="4.6"/><circle cx="974.4" cy="1397.2" r="4.6"/><circle cx="993.3" cy="1397.2" r="4.6"/><circle cx="1012.1" cy="1397.2" r="4.6"/><circle cx="1030.9" cy="1397.2" r="4.6"/><circle cx="1049.8" cy="1397.2" r="4.6"/><circle cx="1068.6" cy="1397.2" r="4.6"/><circle cx="1087.5" cy="1397.2" r="4.6"/><circle cx="1106.3" cy="1397.2" r="4.6"/><circle cx="1125.1" cy="1397.2" r="4.6"/><circle cx="1144.0" cy="1397.2" r="4.6"/><circle cx="1162.8" cy="1397.2" r="4.6"/></g>
<rect x="597.7" y="1105.3" width="565.1" height="291.9" fill="none" stroke="#111" stroke-width="2.4"/>
<path d="M612.5 1278.7H651.2" stroke="#111" stroke-width="2.5"/>
<rect x="627.6" y="1274.4" width="8.6" height="8.6" fill="#111"/>
<text class="b" x="653.7" y="1286.0" font-size="21.5" textLength="192.7" lengthAdjust="spacingAndGlyphs">PTT (primary+lym)</text>
<path d="M612.5 1313.8H651.2" stroke="#2b50b4" stroke-width="2.5"/>
<path d="M631.9 1309.8l3.6 4l-3.6 4l-3.6-4z" fill="#2b50b4"/>
<text class="b" x="653.7" y="1321.1" font-size="21.5" textLength="141.7" lengthAdjust="spacingAndGlyphs">PTT (primary)</text>
<path d="M612.5 1349H651.2" stroke="#8dc63f" stroke-width="2.5"/>
<path d="M631.9 1344l5 8.6h-10z" fill="#8dc63f"/>
<text class="b" x="653.7" y="1356.3" font-size="21.5" textLength="183.2" lengthAdjust="spacingAndGlyphs">Surgery (primary)</text>
<path d="M612.5 1383.1H651.2" stroke="#2e2e8e" stroke-width="2.5"/>
<circle cx="631.9" cy="1383.1" r="4.6" fill="#2e2e8e"/>
<text class="b" x="653.7" y="1390.3999999999999" font-size="21.5" textLength="100.2" lengthAdjust="spacingAndGlyphs">Untreated</text>

</g>
<g id="panel-f">
<text class="b" x="1223.1" y="763" font-size="43" textLength="41" lengthAdjust="spacingAndGlyphs">(f)</text>
<defs>
<linearGradient id="gPTTbg" x1="0" y1="0" x2="0.25" y2="1"><stop offset="0" stop-color="#07072e"/><stop offset="0.35" stop-color="#1a1060"/><stop offset="0.7" stop-color="#3a1a98"/><stop offset="1" stop-color="#3d1ca6"/></linearGradient>
<radialGradient id="gPTThot"><stop offset="0" stop-color="#fffde8"/><stop offset="0.25" stop-color="#ffe860"/><stop offset="0.6" stop-color="#ffb020"/><stop offset="1" stop-color="#f88418" stop-opacity="0"/></radialGradient>
<linearGradient id="gRITbg" x1="0" y1="0" x2="1" y2="1"><stop offset="0" stop-color="#d4d4d4"/><stop offset="0.5" stop-color="#e6e6e6"/><stop offset="1" stop-color="#d0d0d0"/></linearGradient>
<linearGradient id="gTube" x1="0" y1="0" x2="1" y2="0"><stop offset="0" stop-color="#b85c10"/><stop offset="0.2" stop-color="#e88a28"/><stop offset="0.5" stop-color="#d87820"/><stop offset="0.8" stop-color="#e88a28"/><stop offset="1" stop-color="#b85c10"/></linearGradient>
</defs>
<clipPath id="cpf1"><rect x="1274" y="791.7" width="187.3" height="217.3"/></clipPath>
<rect x="1274" y="791.7" width="187.3" height="217.3" fill="url(#gPTTbg)"/>
<g clip-path="url(#cpf1)">
<path d="M1300 1015 Q1310 930 1340 880 Q1355 830 1385 808 Q1420 800 1440 830 Q1452 870 1446 930 Q1458 980 1456 1015Z" fill="#6a22a8" filter="url(#bl8)"/>
<path d="M1330 960 Q1330 890 1362 850 Q1380 815 1410 812 Q1436 822 1438 860 Q1436 900 1420 930 Q1440 960 1430 990 Q1380 1000 1330 960Z" fill="#9434ae" filter="url(#bl8)"/>
<ellipse cx="1368" cy="930" rx="56" ry="51" fill="#e0484c" filter="url(#bl8)"/>
<ellipse cx="1367" cy="930" rx="47" ry="43" fill="#f27424" filter="url(#bl5)"/><ellipse cx="1360" cy="922" rx="30" ry="27" fill="#fa9a20" filter="url(#bl8)"/>
<path d="M1300 1000 Q1330 975 1360 972 L1350 990 Q1320 992 1300 1000Z" fill="#c03a90" filter="url(#bl5)"/>
<ellipse cx="1356" cy="916" rx="27" ry="24" fill="url(#gPTThot)"/>
</g>
<text class="b" x="1368" y="1030.6" text-anchor="middle" font-size="21.6" textLength="44" lengthAdjust="spacingAndGlyphs">PTT</text>
<clipPath id="cpf2"><rect x="1274" y="1040.8" width="187.3" height="214.6"/></clipPath>
<rect x="1274" y="1040.8" width="187.3" height="214.6" fill="url(#gRITbg)"/>
<g clip-path="url(#cpf2)">
<g filter="url(#bl1)">
<path d="M1331.9 1089.3Q1306.8 1082.6 1280.7 1086.9" stroke="#6a6a6a" stroke-width="5" fill="none" stroke-linecap="round"/>
<path d="M1402.1 1079.2Q1427.2 1074.2 1453.9 1064.2" stroke="#7a7a7a" stroke-width="4.5" fill="none" stroke-linecap="round"/>
<path d="M1343.6 1184.5Q1316.8 1197.9 1306.8 1214.6 L1280.1 1226.3" stroke="#777" stroke-width="5" fill="none" stroke-linecap="round"/>
<path d="M1393.7 1184.5Q1417.1 1201.3 1427.2 1224.7 L1448.9 1248.1" stroke="#777" stroke-width="5" fill="none" stroke-linecap="round"/>
<path d="M1368.7 1191.2Q1367.0 1224.7 1378.7 1256.4" stroke="#666" stroke-width="2.5" fill="none"/>
<path d="M1336.9 1174.5Q1367.0 1171.2 1400.4 1174.5 L1393.7 1211.3 Q1367.0 1197.9 1340.2 1211.3Z" fill="#8a8a8a" opacity="0.8"/>
<ellipse cx="1365.3" cy="1049.1" rx="9" ry="6" fill="#3a3030"/>
</g>
<rect x="1339.4" y="1065.3" width="1.4" height="1.4" fill="#f06a1c"/><rect x="1329.8" y="1093.5" width="1.4" height="1.4" fill="#f0901c"/><rect x="1401.4" y="1075.6" width="1.4" height="1.4" fill="#f0901c"/><rect x="1356.5" y="1044.8" width="1.4" height="1.4" fill="#e8401c"/><rect x="1398.8" y="1162.4" width="1.4" height="1.4" fill="#e8301c"/><rect x="1403.5" y="1155.5" width="1.4" height="1.4" fill="#e8401c"/><rect x="1379.3" y="1187.1" width="1.4" height="1.4" fill="#e8401c"/><rect x="1348.2" y="1198.3" width="1.4" height="1.4" fill="#e8401c"/><rect x="1376.2" y="1196.9" width="1.4" height="1.4" fill="#e8401c"/><rect x="1393.1" y="1059.2" width="1.4" height="1.4" fill="#e8401c"/><rect x="1403.6" y="1164.7" width="1.4" height="1.4" fill="#e8301c"/><rect x="1327.5" y="1150.8" width="1.4" height="1.4" fill="#e8401c"/><rect x="1325.4" y="1131.9" width="1.4" height="1.4" fill="#f0901c"/><rect x="1407.1" y="1118.1" width="1.4" height="1.4" fill="#f06a1c"/><rect x="1343.9" y="1060.4" width="1.4" height="1.4" fill="#f0901c"/><rect x="1367.7" y="1054.2" width="1.4" height="1.4" fill="#f06a1c"/><rect x="1380.0" y="1053.4" width="1.4" height="1.4" fill="#e8401c"/><rect x="1405.5" y="1163.5" width="1.4" height="1.4" fill="#e8301c"/><rect x="1408.3" y="1127.3" width="1.4" height="1.4" fill="#f0901c"/><rect x="1409.3" y="1118.0" width="1.4" height="1.4" fill="#f06a1c"/><rect x="1341.2" y="1078.7" width="1.4" height="1.4" fill="#e8401c"/><rect x="1398.8" y="1089.6" width="1.4" height="1.4" fill="#f0901c"/><rect x="1350.8" y="1048.8" width="1.4" height="1.4" fill="#e8401c"/><rect x="1328.8" y="1109.8" width="1.4" height="1.4" fill="#e8301c"/><rect x="1406.8" y="1164.1" width="1.4" height="1.4" fill="#f06a1c"/><rect x="1403.8" y="1131.8" width="1.4" height="1.4" fill="#e8401c"/><rect x="1321.0" y="1120.9" width="1.4" height="1.4" fill="#f06a1c"/><rect x="1374.1" y="1051.5" width="1.4" height="1.4" fill="#e8401c"/><rect x="1397.5" y="1074.6" width="1.4" height="1.4" fill="#e8401c"/><rect x="1343.0" y="1079.4" width="1.4" height="1.4" fill="#f06a1c"/><rect x="1352.4" y="1194.3" width="1.4" height="1.4" fill="#f0901c"/><rect x="1379.1" y="1049.8" width="1.4" height="1.4" fill="#f0901c"/><rect x="1381.9" y="1052.3" width="1.4" height="1.4" fill="#e8301c"/><rect x="1354.1" y="1196.2" width="1.4" height="1.4" fill="#f0901c"/><rect x="1334.7" y="1082.0" width="1.4" height="1.4" fill="#e8401c"/><rect x="1396.5" y="1187.2" width="1.4" height="1.4" fill="#f0901c"/><rect x="1376.3" y="1052.1" width="1.4" height="1.4" fill="#f06a1c"/><rect x="1344.4" y="1201.1" width="1.4" height="1.4" fill="#e8301c"/><rect x="1384.1" y="1189.2" width="1.4" height="1.4" fill="#f06a1c"/><rect x="1338.7" y="1177.9" width="1.4" height="1.4" fill="#f06a1c"/><rect x="1394.8" y="1062.4" width="1.4" height="1.4" fill="#f06a1c"/><rect x="1325.6" y="1121.9" width="1.4" height="1.4" fill="#f0901c"/><rect x="1357.6" y="1050.3" width="1.4" height="1.4" fill="#e8401c"/><rect x="1381.5" y="1196.2" width="1.4" height="1.4" fill="#e8401c"/><rect x="1340.7" y="1175.4" width="1.4" height="1.4" fill="#f06a1c"/><rect x="1396.3" y="1068.2" width="1.4" height="1.4" fill="#e8301c"/><rect x="1406.4" y="1152.1" width="1.4" height="1.4" fill="#e8401c"/><rect x="1339.1" y="1073.3" width="1.4" height="1.4" fill="#e8301c"/><rect x="1333.2" y="1094.2" width="1.4" height="1.4" fill="#f06a1c"/><rect x="1333.5" y="1181.7" width="1.4" height="1.4" fill="#e8401c"/><rect x="1339.9" y="1057.0" width="1.4" height="1.4" fill="#e8301c"/><rect x="1412.6" y="1145.7" width="1.4" height="1.4" fill="#e8401c"/><rect x="1334.7" y="1164.3" width="1.4" height="1.4" fill="#e8301c"/><rect x="1376.2" y="1050.4" width="1.4" height="1.4" fill="#f0901c"/><rect x="1329.3" y="1111.8" width="1.4" height="1.4" fill="#f0901c"/><rect x="1408.4" y="1132.2" width="1.4" height="1.4" fill="#f0901c"/><rect x="1329.2" y="1085.7" width="1.4" height="1.4" fill="#f0901c"/><rect x="1324.5" y="1108.1" width="1.4" height="1.4" fill="#f0901c"/><rect x="1361.5" y="1200.3" width="1.4" height="1.4" fill="#e8301c"/><rect x="1334.1" y="1162.3" width="1.4" height="1.4" fill="#e8301c"/><rect x="1335.2" y="1073.7" width="1.4" height="1.4" fill="#e8401c"/><rect x="1354.7" y="1050.1" width="1.4" height="1.4" fill="#f0901c"/><rect x="1342.2" y="1065.2" width="1.4" height="1.4" fill="#f0901c"/><rect x="1335.0" y="1178.2" width="1.4" height="1.4" fill="#f0901c"/><rect x="1328.6" y="1115.8" width="1.4" height="1.4" fill="#e8401c"/><rect x="1411.7" y="1121.6" width="1.4" height="1.4" fill="#f06a1c"/><rect x="1369.1" y="1201.4" width="1.4" height="1.4" fill="#e8401c"/><rect x="1338.4" y="1064.1" width="1.4" height="1.4" fill="#f06a1c"/><rect x="1327.0" y="1159.9" width="1.4" height="1.4" fill="#f06a1c"/><rect x="1331.9" y="1071.4" width="1.4" height="1.4" fill="#f06a1c"/><rect x="1338.2" y="1186.7" width="1.4" height="1.4" fill="#f06a1c"/><rect x="1404.4" y="1167.2" width="1.4" height="1.4" fill="#e8401c"/><rect x="1406.8" y="1095.0" width="1.4" height="1.4" fill="#f06a1c"/><rect x="1366.2" y="1046.1" width="1.4" height="1.4" fill="#e8301c"/><rect x="1326.1" y="1100.6" width="1.4" height="1.4" fill="#f06a1c"/><rect x="1327.8" y="1123.1" width="1.4" height="1.4" fill="#f0901c"/><rect x="1413.0" y="1131.6" width="1.4" height="1.4" fill="#e8301c"/><rect x="1407.3" y="1102.6" width="1.4" height="1.4" fill="#e8401c"/><rect x="1351.9" y="1201.4" width="1.4" height="1.4" fill="#f06a1c"/><rect x="1380.6" y="1050.9" width="1.4" height="1.4" fill="#f0901c"/><rect x="1343.2" y="1193.1" width="1.4" height="1.4" fill="#e8401c"/><rect x="1397.7" y="1077.9" width="1.4" height="1.4" fill="#f0901c"/><rect x="1411.3" y="1157.3" width="1.4" height="1.4" fill="#e8301c"/><rect x="1406.4" y="1097.1" width="1.4" height="1.4" fill="#f0901c"/><rect x="1345.3" y="1193.0" width="1.4" height="1.4" fill="#f06a1c"/><rect x="1410.4" y="1132.0" width="1.4" height="1.4" fill="#e8401c"/><rect x="1348.4" y="1059.8" width="1.4" height="1.4" fill="#e8301c"/><rect x="1331.3" y="1171.8" width="1.4" height="1.4" fill="#f0901c"/><rect x="1406.2" y="1102.8" width="1.4" height="1.4" fill="#e8401c"/><rect x="1380.3" y="1189.6" width="1.4" height="1.4" fill="#f0901c"/><rect x="1391.4" y="1185.4" width="1.4" height="1.4" fill="#f0901c"/><rect x="1349.9" y="1056.4" width="1.4" height="1.4" fill="#e8401c"/><rect x="1392.0" y="1057.2" width="1.4" height="1.4" fill="#f06a1c"/><rect x="1344.3" y="1075.6" width="1.4" height="1.4" fill="#f0901c"/><rect x="1332.3" y="1173.7" width="1.4" height="1.4" fill="#e8301c"/><rect x="1365.9" y="1199.3" width="1.4" height="1.4" fill="#f06a1c"/><rect x="1411.0" y="1135.0" width="1.4" height="1.4" fill="#e8301c"/><rect x="1390.8" y="1058.6" width="1.4" height="1.4" fill="#f06a1c"/><rect x="1324.8" y="1118.4" width="1.4" height="1.4" fill="#e8401c"/><rect x="1326.3" y="1141.0" width="1.4" height="1.4" fill="#e8401c"/><rect x="1328.1" y="1156.3" width="1.4" height="1.4" fill="#f06a1c"/><rect x="1320.6" y="1143.7" width="1.4" height="1.4" fill="#f0901c"/><rect x="1334.8" y="1089.8" width="1.4" height="1.4" fill="#f06a1c"/><rect x="1402.5" y="1101.0" width="1.4" height="1.4" fill="#e8301c"/><rect x="1357.5" y="1047.0" width="1.4" height="1.4" fill="#e8301c"/><rect x="1398.1" y="1166.8" width="1.4" height="1.4" fill="#f06a1c"/><rect x="1394.0" y="1062.1" width="1.4" height="1.4" fill="#e8401c"/><rect x="1401.0" y="1097.0" width="1.4" height="1.4" fill="#f06a1c"/><rect x="1340.4" y="1192.5" width="1.4" height="1.4" fill="#f0901c"/><rect x="1394.1" y="1085.4" width="1.4" height="1.4" fill="#f06a1c"/><rect x="1387.2" y="1190.5" width="1.4" height="1.4" fill="#e8301c"/><rect x="1410.4" y="1137.3" width="1.4" height="1.4" fill="#e8301c"/><rect x="1392.5" y="1073.9" width="1.4" height="1.4" fill="#f0901c"/><rect x="1369.4" y="1051.5" width="1.4" height="1.4" fill="#e8401c"/><rect x="1326.3" y="1107.5" width="1.4" height="1.4" fill="#f06a1c"/><rect x="1358.3" y="1203.4" width="1.4" height="1.4" fill="#e8301c"/><rect x="1370.8" y="1206.6" width="1.4" height="1.4" fill="#f06a1c"/><rect x="1343.3" y="1193.3" width="1.4" height="1.4" fill="#f06a1c"/><rect x="1334.4" y="1184.3" width="1.4" height="1.4" fill="#f06a1c"/><rect x="1323.5" y="1127.4" width="1.4" height="1.4" fill="#e8401c"/><rect x="1348.0" y="1062.7" width="1.4" height="1.4" fill="#f0901c"/><rect x="1333.3" y="1077.9" width="1.4" height="1.4" fill="#e8301c"/><rect x="1357.9" y="1200.3" width="1.4" height="1.4" fill="#f0901c"/><rect x="1399.5" y="1174.5" width="1.4" height="1.4" fill="#f0901c"/><rect x="1347.3" y="1199.6" width="1.4" height="1.4" fill="#f0901c"/><rect x="1401.6" y="1080.2" width="1.4" height="1.4" fill="#e8301c"/><rect x="1337.9" y="1162.7" width="1.4" height="1.4" fill="#e8401c"/><rect x="1379.0" y="1052.8" width="1.4" height="1.4" fill="#f06a1c"/><rect x="1408.5" y="1148.9" width="1.4" height="1.4" fill="#f06a1c"/><rect x="1331.2" y="1098.2" width="1.4" height="1.4" fill="#e8301c"/><rect x="1366.5" y="1198.1" width="1.4" height="1.4" fill="#e8401c"/><rect x="1378.4" y="1049.7" width="1.4" height="1.4" fill="#e8401c"/><rect x="1344.2" y="1198.9" width="1.4" height="1.4" fill="#f06a1c"/><rect x="1392.0" y="1185.5" width="1.4" height="1.4" fill="#f0901c"/><rect x="1330.3" y="1105.2" width="1.4" height="1.4" fill="#e8401c"/><rect x="1398.4" y="1176.1" width="1.4" height="1.4" fill="#f0901c"/><rect x="1333.2" y="1087.8" width="1.4" height="1.4" fill="#f06a1c"/><rect x="1325.9" y="1106.9" width="1.4" height="1.4" fill="#f0901c"/><rect x="1411.6" y="1134.4" width="1.4" height="1.4" fill="#f06a1c"/><rect x="1351.8" y="1050.6" width="1.4" height="1.4" fill="#f06a1c"/><rect x="1413.6" y="1125.3" width="1.4" height="1.4" fill="#e8401c"/><rect x="1324.1" y="1139.0" width="1.4" height="1.4" fill="#e8301c"/><rect x="1407.7" y="1155.5" width="1.4" height="1.4" fill="#f0901c"/><rect x="1329.2" y="1076.9" width="1.4" height="1.4" fill="#e8301c"/><rect x="1336.8" y="1184.6" width="1.4" height="1.4" fill="#e8401c"/><rect x="1405.0" y="1111.8" width="1.4" height="1.4" fill="#e8401c"/><rect x="1382.1" y="1048.4" width="1.4" height="1.4" fill="#e8301c"/><rect x="1327.3" y="1124.4" width="1.4" height="1.4" fill="#f06a1c"/><rect x="1406.0" y="1116.1" width="1.4" height="1.4" fill="#e8301c"/><rect x="1336.0" y="1173.7" width="1.4" height="1.4" fill="#f0901c"/><rect x="1355.1" y="1203.8" width="1.4" height="1.4" fill="#e8301c"/><rect x="1338.7" y="1182.2" width="1.4" height="1.4" fill="#f06a1c"/><rect x="1333.7" y="1183.3" width="1.4" height="1.4" fill="#e8401c"/><rect x="1405.1" y="1149.6" width="1.4" height="1.4" fill="#e8301c"/><rect x="1326.0" y="1147.5" width="1.4" height="1.4" fill="#f06a1c"/><rect x="1338.6" y="1172.0" width="1.4" height="1.4" fill="#f0901c"/><rect x="1346.6" y="1193.1" width="1.4" height="1.4" fill="#e8401c"/><rect x="1406.3" y="1153.5" width="1.4" height="1.4" fill="#f0901c"/><rect x="1350.3" y="1194.6" width="1.4" height="1.4" fill="#f06a1c"/><rect x="1336.4" y="1066.8" width="1.4" height="1.4" fill="#f06a1c"/><rect x="1397.4" y="1167.1" width="1.4" height="1.4" fill="#f06a1c"/><rect x="1378.9" y="1051.6" width="1.4" height="1.4" fill="#f06a1c"/><rect x="1322.9" y="1156.6" width="1.4" height="1.4" fill="#e8301c"/><rect x="1403.2" y="1094.5" width="1.4" height="1.4" fill="#e8401c"/><rect x="1389.4" y="1180.1" width="1.4" height="1.4" fill="#e8301c"/><rect x="1411.2" y="1106.4" width="1.4" height="1.4" fill="#e8301c"/><rect x="1344.9" y="1064.5" width="1.4" height="1.4" fill="#e8401c"/><rect x="1344.3" y="1179.0" width="1.4" height="1.4" fill="#f06a1c"/><rect x="1330.6" y="1167.6" width="1.4" height="1.4" fill="#f06a1c"/><rect x="1322.7" y="1143.5" width="1.4" height="1.4" fill="#f0901c"/><rect x="1329.5" y="1108.6" width="1.4" height="1.4" fill="#e8401c"/><rect x="1393.3" y="1060.4" width="1.4" height="1.4" fill="#f0901c"/><rect x="1330.6" y="1113.4" width="1.4" height="1.4" fill="#f0901c"/><rect x="1321.6" y="1108.0" width="1.4" height="1.4" fill="#f0901c"/><rect x="1407.2" y="1096.9" width="1.4" height="1.4" fill="#f0901c"/><rect x="1377.4" y="1050.3" width="1.4" height="1.4" fill="#f0901c"/><rect x="1356.1" y="1044.6" width="1.4" height="1.4" fill="#e8401c"/><rect x="1329.7" y="1133.8" width="1.4" height="1.4" fill="#f0901c"/><rect x="1329.5" y="1084.8" width="1.4" height="1.4" fill="#f06a1c"/><rect x="1334.7" y="1187.4" width="1.4" height="1.4" fill="#f06a1c"/><rect x="1328.2" y="1152.3" width="1.4" height="1.4" fill="#f06a1c"/><rect x="1334.9" y="1074.4" width="1.4" height="1.4" fill="#e8301c"/><rect x="1416.7" y="1125.6" width="1.4" height="1.4" fill="#f0901c"/><rect x="1340.5" y="1065.9" width="1.4" height="1.4" fill="#e8301c"/><rect x="1325.1" y="1116.4" width="1.4" height="1.4" fill="#f06a1c"/><rect x="1388.8" y="1053.0" width="1.4" height="1.4" fill="#f0901c"/><rect x="1334.0" y="1079.1" width="1.4" height="1.4" fill="#e8401c"/><rect x="1362.4" y="1206.3" width="1.4" height="1.4" fill="#f0901c"/><rect x="1413.9" y="1113.0" width="1.4" height="1.4" fill="#f0901c"/><rect x="1396.8" y="1185.4" width="1.4" height="1.4" fill="#e8301c"/><rect x="1396.4" y="1178.5" width="1.4" height="1.4" fill="#e8401c"/><rect x="1393.8" y="1183.0" width="1.4" height="1.4" fill="#f06a1c"/><rect x="1403.7" y="1079.9" width="1.4" height="1.4" fill="#e8401c"/><rect x="1382.2" y="1050.7" width="1.4" height="1.4" fill="#f0901c"/><rect x="1398.2" y="1070.7" width="1.4" height="1.4" fill="#f06a1c"/><rect x="1334.8" y="1082.1" width="1.4" height="1.4" fill="#e8401c"/><rect x="1346.2" y="1059.2" width="1.4" height="1.4" fill="#f06a1c"/><rect x="1342.3" y="1192.7" width="1.4" height="1.4" fill="#e8301c"/><rect x="1328.8" y="1088.6" width="1.4" height="1.4" fill="#f06a1c"/><rect x="1324.5" y="1161.7" width="1.4" height="1.4" fill="#f06a1c"/><rect x="1332.3" y="1078.5" width="1.4" height="1.4" fill="#e8401c"/><rect x="1392.4" y="1059.7" width="1.4" height="1.4" fill="#f06a1c"/><rect x="1354.7" y="1051.0" width="1.4" height="1.4" fill="#e8301c"/><rect x="1371.6" y="1045.1" width="1.4" height="1.4" fill="#f06a1c"/><rect x="1391.0" y="1057.9" width="1.4" height="1.4" fill="#e8301c"/><rect x="1324.8" y="1120.9" width="1.4" height="1.4" fill="#e8301c"/><rect x="1329.6" y="1105.9" width="1.4" height="1.4" fill="#e8401c"/><rect x="1325.6" y="1144.9" width="1.4" height="1.4" fill="#e8401c"/><rect x="1368.8" y="1049.5" width="1.4" height="1.4" fill="#e8401c"/><rect x="1326.8" y="1149.0" width="1.4" height="1.4" fill="#e8301c"/><rect x="1398.2" y="1082.7" width="1.4" height="1.4" fill="#f06a1c"/><rect x="1404.3" y="1102.0" width="1.4" height="1.4" fill="#f06a1c"/><rect x="1347.9" y="1196.5" width="1.4" height="1.4" fill="#f06a1c"/><rect x="1386.7" y="1060.9" width="1.4" height="1.4" fill="#f06a1c"/><rect x="1332.0" y="1168.5" width="1.4" height="1.4" fill="#e8401c"/><rect x="1345.1" y="1188.5" width="1.4" height="1.4" fill="#f0901c"/><rect x="1405.4" y="1156.3" width="1.4" height="1.4" fill="#f0901c"/><rect x="1411.0" y="1147.9" width="1.4" height="1.4" fill="#e8401c"/><rect x="1386.5" y="1189.4" width="1.4" height="1.4" fill="#f06a1c"/><rect x="1335.0" y="1094.2" width="1.4" height="1.4" fill="#e8301c"/><rect x="1389.5" y="1053.7" width="1.4" height="1.4" fill="#f06a1c"/><rect x="1399.3" y="1090.7" width="1.4" height="1.4" fill="#e8401c"/><rect x="1336.5" y="1173.3" width="1.4" height="1.4" fill="#e8401c"/><rect x="1354.6" y="1051.6" width="1.4" height="1.4" fill="#f06a1c"/><rect x="1365.6" y="1199.2" width="1.4" height="1.4" fill="#e8301c"/><rect x="1325.0" y="1132.7" width="1.4" height="1.4" fill="#e8301c"/><rect x="1319.4" y="1140.2" width="1.4" height="1.4" fill="#f06a1c"/><rect x="1343.1" y="1193.1" width="1.4" height="1.4" fill="#e8401c"/><rect x="1329.3" y="1105.4" width="1.4" height="1.4" fill="#e8301c"/><rect x="1401.0" y="1090.5" width="1.4" height="1.4" fill="#e8401c"/><rect x="1342.8" y="1192.9" width="1.4" height="1.4" fill="#f0901c"/><rect x="1321.8" y="1125.0" width="1.4" height="1.4" fill="#f0901c"/><rect x="1397.7" y="1172.4" width="1.4" height="1.4" fill="#f06a1c"/><rect x="1396.6" y="1170.0" width="1.4" height="1.4" fill="#f06a1c"/><rect x="1377.1" y="1191.2" width="1.4" height="1.4" fill="#e8401c"/><rect x="1405.7" y="1096.1" width="1.4" height="1.4" fill="#e8401c"/><rect x="1341.1" y="1055.7" width="1.4" height="1.4" fill="#e8401c"/><rect x="1341.3" y="1194.4" width="1.4" height="1.4" fill="#f06a1c"/><rect x="1336.6" y="1170.8" width="1.4" height="1.4" fill="#f06a1c"/><rect x="1389.0" y="1063.5" width="1.4" height="1.4" fill="#e8301c"/><rect x="1318.7" y="1131.2" width="1.4" height="1.4" fill="#e8401c"/><rect x="1326.7" y="1098.9" width="1.4" height="1.4" fill="#e8401c"/><rect x="1407.6" y="1155.3" width="1.4" height="1.4" fill="#e8401c"/><rect x="1332.9" y="1181.1" width="1.4" height="1.4" fill="#e8401c"/><rect x="1337.0" y="1063.0" width="1.4" height="1.4" fill="#e8301c"/><rect x="1371.8" y="1044.0" width="1.4" height="1.4" fill="#f06a1c"/><rect x="1409.5" y="1128.5" width="1.4" height="1.4" fill="#e8301c"/><rect x="1369.1" y="1195.3" width="1.4" height="1.4" fill="#f06a1c"/><rect x="1409.5" y="1140.0" width="1.4" height="1.4" fill="#e8401c"/><rect x="1370.2" y="1198.4" width="1.4" height="1.4" fill="#f0901c"/><rect x="1365.2" y="1046.8" width="1.4" height="1.4" fill="#e8301c"/><rect x="1334.7" y="1176.1" width="1.4" height="1.4" fill="#e8301c"/><rect x="1405.1" y="1161.2" width="1.4" height="1.4" fill="#f0901c"/><rect x="1413.1" y="1115.4" width="1.4" height="1.4" fill="#f06a1c"/><rect x="1361.1" y="1050.6" width="1.4" height="1.4" fill="#e8401c"/><rect x="1408.2" y="1115.3" width="1.4" height="1.4" fill="#f0901c"/><rect x="1407.0" y="1107.2" width="1.4" height="1.4" fill="#e8401c"/><rect x="1341.9" y="1186.7" width="1.4" height="1.4" fill="#e8301c"/><rect x="1339.3" y="1069.5" width="1.4" height="1.4" fill="#f0901c"/><rect x="1372.7" y="1194.5" width="1.4" height="1.4" fill="#f06a1c"/><rect x="1333.9" y="1172.9" width="1.4" height="1.4" fill="#f06a1c"/><rect x="1409.1" y="1095.0" width="1.4" height="1.4" fill="#f0901c"/><rect x="1346.5" y="1201.7" width="1.4" height="1.4" fill="#e8301c"/><rect x="1389.0" y="1189.3" width="1.4" height="1.4" fill="#e8301c"/><rect x="1409.5" y="1107.3" width="1.4" height="1.4" fill="#e8401c"/><rect x="1355.0" y="1199.6" width="1.4" height="1.4" fill="#f0901c"/><rect x="1325.0" y="1156.0" width="1.4" height="1.4" fill="#f06a1c"/><rect x="1354.2" y="1053.4" width="1.4" height="1.4" fill="#f06a1c"/><rect x="1324.7" y="1132.6" width="1.4" height="1.4" fill="#e8401c"/><rect x="1337.4" y="1083.3" width="1.4" height="1.4" fill="#e8301c"/><rect x="1326.1" y="1151.6" width="1.4" height="1.4" fill="#e8401c"/><rect x="1381.2" y="1189.3" width="1.4" height="1.4" fill="#f0901c"/><rect x="1339.6" y="1060.3" width="1.4" height="1.4" fill="#e8401c"/><rect x="1324.9" y="1114.1" width="1.4" height="1.4" fill="#e8401c"/><rect x="1406.1" y="1114.1" width="1.4" height="1.4" fill="#e8301c"/><rect x="1338.6" y="1189.0" width="1.4" height="1.4" fill="#e8401c"/><rect x="1351.2" y="1201.2" width="1.4" height="1.4" fill="#f06a1c"/><rect x="1409.2" y="1116.9" width="1.4" height="1.4" fill="#e8401c"/><rect x="1342.5" y="1192.4" width="1.4" height="1.4" fill="#e8401c"/><rect x="1348.7" y="1193.2" width="1.4" height="1.4" fill="#e8401c"/><rect x="1355.9" y="1199.5" width="1.4" height="1.4" fill="#e8301c"/><rect x="1398.3" y="1170.0" width="1.4" height="1.4" fill="#e8301c"/><rect x="1330.4" y="1167.2" width="1.4" height="1.4" fill="#e8301c"/><rect x="1367.8" y="1045.4" width="1.4" height="1.4" fill="#e8401c"/><rect x="1350.5" y="1052.3" width="1.4" height="1.4" fill="#f0901c"/><rect x="1351.5" y="1056.9" width="1.4" height="1.4" fill="#f0901c"/><rect x="1322.3" y="1137.5" width="1.4" height="1.4" fill="#e8401c"/><rect x="1388.3" y="1061.2" width="1.4" height="1.4" fill="#e8401c"/><rect x="1348.7" y="1203.1" width="1.4" height="1.4" fill="#e8301c"/><rect x="1323.5" y="1108.0" width="1.4" height="1.4" fill="#f06a1c"/><rect x="1326.7" y="1128.4" width="1.4" height="1.4" fill="#f06a1c"/><rect x="1404.9" y="1097.8" width="1.4" height="1.4" fill="#e8401c"/><rect x="1383.1" y="1192.3" width="1.4" height="1.4" fill="#e8401c"/><rect x="1408.2" y="1157.1" width="1.4" height="1.4" fill="#e8401c"/><rect x="1331.1" y="1108.3" width="1.4" height="1.4" fill="#e8401c"/><rect x="1346.0" y="1069.2" width="1.4" height="1.4" fill="#e8301c"/><rect x="1356.3" y="1206.7" width="1.4" height="1.4" fill="#e8301c"/><rect x="1415.3" y="1140.9" width="1.4" height="1.4" fill="#f0901c"/><rect x="1393.6" y="1066.3" width="1.4" height="1.4" fill="#e8301c"/><rect x="1408.4" y="1158.9" width="1.4" height="1.4" fill="#e8301c"/><rect x="1382.7" y="1194.2" width="1.4" height="1.4" fill="#f06a1c"/><rect x="1344.8" y="1060.7" width="1.4" height="1.4" fill="#e8301c"/><rect x="1344.3" y="1192.9" width="1.4" height="1.4" fill="#f06a1c"/><rect x="1339.7" y="1182.7" width="1.4" height="1.4" fill="#e8401c"/><rect x="1326.5" y="1155.4" width="1.4" height="1.4" fill="#f06a1c"/><rect x="1402.1" y="1092.4" width="1.4" height="1.4" fill="#e8401c"/><rect x="1364.9" y="1203.7" width="1.4" height="1.4" fill="#f06a1c"/><rect x="1335.2" y="1180.3" width="1.4" height="1.4" fill="#e8401c"/><rect x="1349.1" y="1203.3" width="1.4" height="1.4" fill="#e8301c"/><rect x="1379.4" y="1053.7" width="1.4" height="1.4" fill="#f06a1c"/><rect x="1386.0" y="1190.5" width="1.4" height="1.4" fill="#e8401c"/><rect x="1404.8" y="1101.8" width="1.4" height="1.4" fill="#e8401c"/><rect x="1342.0" y="1062.3" width="1.4" height="1.4" fill="#e8401c"/><rect x="1407.4" y="1119.6" width="1.4" height="1.4" fill="#e8301c"/><rect x="1349.8" y="1052.7" width="1.4" height="1.4" fill="#f0901c"/><rect x="1392.4" y="1168.7" width="1.4" height="1.4" fill="#e8401c"/><rect x="1335.8" y="1166.8" width="1.4" height="1.4" fill="#f06a1c"/><rect x="1414.3" y="1121.0" width="1.4" height="1.4" fill="#e8401c"/><rect x="1366.7" y="1045.5" width="1.4" height="1.4" fill="#f0901c"/><rect x="1404.9" y="1098.7" width="1.4" height="1.4" fill="#e8301c"/><rect x="1365.7" y="1049.4" width="1.4" height="1.4" fill="#e8401c"/><rect x="1400.9" y="1093.6" width="1.4" height="1.4" fill="#f06a1c"/><rect x="1397.0" y="1080.4" width="1.4" height="1.4" fill="#f06a1c"/><rect x="1331.8" y="1154.9" width="1.4" height="1.4" fill="#f06a1c"/><rect x="1328.5" y="1138.4" width="1.4" height="1.4" fill="#f06a1c"/><rect x="1340.9" y="1061.1" width="1.4" height="1.4" fill="#e8401c"/><rect x="1371.6" y="1046.7" width="1.4" height="1.4" fill="#f0901c"/><rect x="1329.2" y="1093.9" width="1.4" height="1.4" fill="#e8401c"/><rect x="1375.6" y="1198.2" width="1.4" height="1.4" fill="#f0901c"/><rect x="1328.4" y="1120.1" width="1.4" height="1.4" fill="#f06a1c"/><rect x="1337.3" y="1088.1" width="1.4" height="1.4" fill="#e8301c"/><rect x="1393.3" y="1189.8" width="1.4" height="1.4" fill="#f0901c"/><rect x="1330.6" y="1159.5" width="1.4" height="1.4" fill="#e8401c"/><rect x="1332.6" y="1174.1" width="1.4" height="1.4" fill="#e8401c"/><rect x="1386.4" y="1057.4" width="1.4" height="1.4" fill="#f0901c"/><rect x="1342.9" y="1191.3" width="1.4" height="1.4" fill="#e8301c"/><rect x="1336.8" y="1178.0" width="1.4" height="1.4" fill="#f06a1c"/><rect x="1340.7" y="1066.5" width="1.4" height="1.4" fill="#e8301c"/><rect x="1391.9" y="1068.9" width="1.4" height="1.4" fill="#f0901c"/><rect x="1341.6" y="1195.9" width="1.4" height="1.4" fill="#e8401c"/><rect x="1392.5" y="1184.0" width="1.4" height="1.4" fill="#f06a1c"/><rect x="1376.1" y="1195.6" width="1.4" height="1.4" fill="#e8401c"/><rect x="1357.6" y="1199.9" width="1.4" height="1.4" fill="#f06a1c"/><rect x="1379.4" y="1051.8" width="1.4" height="1.4" fill="#e8401c"/><rect x="1397.6" y="1073.4" width="1.4" height="1.4" fill="#f0901c"/><rect x="1407.3" y="1093.6" width="1.4" height="1.4" fill="#e8401c"/><rect x="1339.4" y="1187.2" width="1.4" height="1.4" fill="#e8401c"/><rect x="1335.7" y="1081.1" width="1.4" height="1.4" fill="#e8301c"/><rect x="1401.0" y="1093.7" width="1.4" height="1.4" fill="#f0901c"/><rect x="1407.8" y="1159.8" width="1.4" height="1.4" fill="#f0901c"/><rect x="1324.0" y="1120.4" width="1.4" height="1.4" fill="#e8301c"/><rect x="1338.1" y="1183.0" width="1.4" height="1.4" fill="#f0901c"/><rect x="1344.7" y="1057.7" width="1.4" height="1.4" fill="#f0901c"/><rect x="1335.3" y="1174.8" width="1.4" height="1.4" fill="#e8301c"/><rect x="1327.0" y="1154.0" width="1.4" height="1.4" fill="#e8301c"/><rect x="1403.6" y="1153.9" width="1.4" height="1.4" fill="#f0901c"/><rect x="1325.4" y="1138.0" width="1.4" height="1.4" fill="#e8401c"/><rect x="1337.9" y="1088.3" width="1.4" height="1.4" fill="#f06a1c"/><rect x="1345.4" y="1202.3" width="1.4" height="1.4" fill="#e8301c"/><rect x="1407.0" y="1099.9" width="1.4" height="1.4" fill="#e8301c"/><rect x="1410.8" y="1155.4" width="1.4" height="1.4" fill="#e8301c"/><rect x="1371.0" y="1192.3" width="1.4" height="1.4" fill="#e8401c"/><rect x="1373.6" y="1044.9" width="1.4" height="1.4" fill="#e8301c"/><rect x="1409.2" y="1113.3" width="1.4" height="1.4" fill="#e8301c"/><rect x="1415.0" y="1130.2" width="1.4" height="1.4" fill="#f06a1c"/><rect x="1341.1" y="1073.8" width="1.4" height="1.4" fill="#e8301c"/><rect x="1321.2" y="1149.7" width="1.4" height="1.4" fill="#f06a1c"/><rect x="1343.9" y="1196.5" width="1.4" height="1.4" fill="#e8301c"/><rect x="1342.7" y="1186.3" width="1.4" height="1.4" fill="#e8401c"/><rect x="1367.5" y="1046.8" width="1.4" height="1.4" fill="#e8301c"/><rect x="1406.9" y="1107.9" width="1.4" height="1.4" fill="#e8401c"/><rect x="1410.0" y="1121.9" width="1.4" height="1.4" fill="#e8401c"/><rect x="1410.8" y="1125.5" width="1.4" height="1.4" fill="#f06a1c"/><rect x="1402.0" y="1096.1" width="1.4" height="1.4" fill="#f0901c"/><rect x="1336.6" y="1081.2" width="1.4" height="1.4" fill="#f06a1c"/><rect x="1418.8" y="1125.1" width="1.4" height="1.4" fill="#f0901c"/><rect x="1381.0" y="1040.5" width="1.4" height="1.4" fill="#e8301c"/><rect x="1402.9" y="1088.5" width="1.4" height="1.4" fill="#e8401c"/><rect x="1361.8" y="1201.8" width="1.4" height="1.4" fill="#f06a1c"/><rect x="1333.8" y="1082.9" width="1.4" height="1.4" fill="#e8401c"/><rect x="1400.8" y="1089.7" width="1.4" height="1.4" fill="#f06a1c"/><rect x="1352.0" y="1204.9" width="1.4" height="1.4" fill="#f06a1c"/><rect x="1342.3" y="1057.3" width="1.4" height="1.4" fill="#e8301c"/><rect x="1391.0" y="1184.4" width="1.4" height="1.4" fill="#f06a1c"/><rect x="1326.3" y="1119.0" width="1.4" height="1.4" fill="#e8301c"/><rect x="1343.2" y="1061.1" width="1.4" height="1.4" fill="#f06a1c"/><rect x="1329.7" y="1093.2" width="1.4" height="1.4" fill="#f06a1c"/><rect x="1395.6" y="1081.2" width="1.4" height="1.4" fill="#e8401c"/><rect x="1405.0" y="1120.3" width="1.4" height="1.4" fill="#f0901c"/><rect x="1326.2" y="1146.0" width="1.4" height="1.4" fill="#f06a1c"/><rect x="1368.7" y="1199.1" width="1.4" height="1.4" fill="#e8401c"/><rect x="1395.3" y="1060.9" width="1.4" height="1.4" fill="#f06a1c"/><rect x="1416.9" y="1143.6" width="1.4" height="1.4" fill="#e8301c"/><rect x="1406.3" y="1103.4" width="1.4" height="1.4" fill="#f06a1c"/><rect x="1392.2" y="1175.3" width="1.4" height="1.4" fill="#f0901c"/><rect x="1410.3" y="1111.0" width="1.4" height="1.4" fill="#f06a1c"/><rect x="1384.9" y="1057.9" width="1.4" height="1.4" fill="#e8301c"/><rect x="1333.5" y="1071.2" width="1.4" height="1.4" fill="#e8301c"/><rect x="1405.4" y="1081.3" width="1.4" height="1.4" fill="#f06a1c"/><rect x="1353.4" y="1201.1" width="1.4" height="1.4" fill="#f0901c"/><rect x="1328.5" y="1121.8" width="1.4" height="1.4" fill="#e8401c"/><rect x="1344.9" y="1061.1" width="1.4" height="1.4" fill="#f06a1c"/><rect x="1405.5" y="1167.5" width="1.4" height="1.4" fill="#f0901c"/><rect x="1398.0" y="1077.3" width="1.4" height="1.4" fill="#e8301c"/><rect x="1354.3" y="1198.8" width="1.4" height="1.4" fill="#f0901c"/><rect x="1360.3" y="1204.3" width="1.4" height="1.4" fill="#f0901c"/><rect x="1340.4" y="1065.5" width="1.4" height="1.4" fill="#f06a1c"/><rect x="1365.6" y="1046.4" width="1.4" height="1.4" fill="#e8301c"/><rect x="1355.2" y="1199.9" width="1.4" height="1.4" fill="#e8301c"/><rect x="1408.1" y="1100.4" width="1.4" height="1.4" fill="#e8401c"/><rect x="1330.5" y="1087.2" width="1.4" height="1.4" fill="#f0901c"/><rect x="1346.3" y="1054.1" width="1.4" height="1.4" fill="#e8301c"/><rect x="1324.3" y="1123.7" width="1.4" height="1.4" fill="#f0901c"/><rect x="1380.6" y="1199.5" width="1.4" height="1.4" fill="#e8401c"/><rect x="1328.5" y="1103.1" width="1.4" height="1.4" fill="#e8401c"/><rect x="1322.5" y="1125.4" width="1.4" height="1.4" fill="#e8301c"/><rect x="1402.1" y="1162.4" width="1.4" height="1.4" fill="#f06a1c"/><rect x="1380.5" y="1192.2" width="1.4" height="1.4" fill="#f0901c"/><rect x="1404.4" y="1161.5" width="1.4" height="1.4" fill="#e8301c"/><rect x="1355.3" y="1052.8" width="1.4" height="1.4" fill="#e8401c"/>
<path d="M1367.0 1046.8 L1385.4 1052.5 L1395.4 1067.5 L1400.4 1087.6 L1407.1 1107.6 L1412.5 1127.7 L1409.8 1147.8 L1402.1 1167.8 L1392.1 1184.5 L1377.0 1196.2 L1360.3 1201.9 L1345.3 1197.3 L1338.6 1182.9 L1330.9 1164.5 L1324.2 1144.4 L1323.5 1124.4 L1328.5 1104.3 L1334.2 1084.2 L1339.6 1065.9 L1348.6 1052.5Z" fill="#f0501c" filter="url(#bl1)"/>
<path d="M1367.1 1054.2 L1383.6 1059.3 L1392.6 1072.9 L1397.1 1090.9 L1403.2 1109.0 L1408.0 1127.0 L1405.6 1145.1 L1398.6 1163.1 L1389.6 1178.2 L1376.1 1188.7 L1361.0 1193.8 L1347.5 1189.6 L1341.5 1176.7 L1334.6 1160.1 L1328.5 1142.1 L1327.9 1124.0 L1332.5 1106.0 L1337.6 1087.9 L1342.4 1071.4 L1350.5 1059.3Z" fill="#f8b020" filter="url(#bl2)"/>
<path d="M1367.1 1060.6 L1382.0 1065.2 L1390.1 1077.4 L1394.2 1093.6 L1399.6 1109.9 L1403.9 1126.1 L1401.8 1142.4 L1395.5 1158.6 L1387.4 1172.2 L1375.2 1181.6 L1361.7 1186.2 L1349.5 1182.5 L1344.1 1170.8 L1337.9 1155.9 L1332.5 1139.7 L1331.9 1123.4 L1336.0 1107.2 L1340.6 1090.9 L1344.9 1076.0 L1352.2 1065.2Z" fill="#c8e020" filter="url(#bl2)"/>
<path d="M1367.2 1066.9 L1380.2 1070.9 L1387.4 1081.6 L1390.9 1095.8 L1395.7 1110.1 L1399.5 1124.3 L1397.6 1138.6 L1392.1 1152.8 L1385.0 1164.7 L1374.3 1173.0 L1362.4 1177.0 L1351.8 1173.7 L1347.0 1163.5 L1341.5 1150.4 L1336.8 1136.2 L1336.3 1121.9 L1339.9 1107.7 L1343.9 1093.5 L1347.7 1080.4 L1354.1 1070.9Z" fill="#38d838" filter="url(#bl2)"/>
<ellipse cx="1366.3" cy="1079.2" rx="14" ry="15" fill="#28d888" filter="url(#bl3)"/>
<ellipse cx="1367.7" cy="1127.7" rx="27" ry="22" fill="#28d8c8" filter="url(#bl3)"/>
<ellipse cx="1367.7" cy="1127.7" rx="19" ry="15" fill="#2060f0" filter="url(#bl2)"/>
<ellipse cx="1366.3" cy="1127.7" rx="10" ry="8" fill="#4018c0" filter="url(#bl2)"/>
<ellipse cx="1346.3" cy="1189.6" rx="6" ry="5" fill="#ffc020" filter="url(#bl1)"/>
</g>
<text class="b" x="1365.2" y="1280.6" text-anchor="middle" font-size="21.6" textLength="38" lengthAdjust="spacingAndGlyphs">RIT</text>
<g transform="translate(1466.7,908.6) rotate(21)"><path d="M0 0 L22 -18.5 L22 -8.5 L48 -8.5 L48 8.5 L22 8.5 L22 18.5Z" fill="#050505"/></g>
<g transform="translate(1466.7,1164.4) rotate(-31)"><path d="M0 0 L22 -18.5 L22 -8.5 L48 -8.5 L48 8.5 L22 8.5 L22 18.5Z" fill="#050505"/></g>
<path d="M1522.6 837.4 q1.56 -3.4 3.12 -1 t3.12 0.6 q1.56 3.4 3.12 -1 t3.12 0.6 q1.56 -3.4 3.12 -1 t3.12 0.6 q1.56 3.4 3.12 -1 t3.12 0.6 q1.56 -3.4 3.12 -1 t3.12 0.6 q1.56 3.4 3.12 -1 t3.12 0.6" stroke="#35521c" stroke-width="3.3" fill="none" stroke-linecap="round"/><path d="M1522.6 837.4 q1.56 -3.4 3.12 -1 t3.12 0.6 q1.56 3.4 3.12 -1 t3.12 0.6 q1.56 -3.4 3.12 -1 t3.12 0.6 q1.56 3.4 3.12 -1 t3.12 0.6 q1.56 -3.4 3.12 -1 t3.12 0.6 q1.56 3.4 3.12 -1 t3.12 0.6" stroke="#6c8a34" stroke-width="1.6" fill="none" stroke-dasharray="2.5 3" transform="translate(0,-0.6)"/><path d="M1590.0 837.4 q1.55 -3.4 3.10 -1 t3.10 0.6 q1.55 3.4 3.10 -1 t3.10 0.6 q1.55 -3.4 3.10 -1 t3.10 0.6 q1.55 3.4 3.10 -1 t3.10 0.6 q1.55 -3.4 3.10 -1 t3.10 0.6 q1.55 3.4 3.10 -1 t3.10 0.6" stroke="#35521c" stroke-width="3.3" fill="none" stroke-linecap="round"/><path d="M1590.0 837.4 q1.55 -3.4 3.10 -1 t3.10 0.6 q1.55 3.4 3.10 -1 t3.10 0.6 q1.55 -3.4 3.10 -1 t3.10 0.6 q1.55 3.4 3.10 -1 t3.10 0.6 q1.55 -3.4 3.10 -1 t3.10 0.6 q1.55 3.4 3.10 -1 t3.10 0.6" stroke="#6c8a34" stroke-width="1.6" fill="none" stroke-dasharray="2.5 3" transform="translate(0,-0.6)"/><path d="M1522.6 850.0 q1.56 -3.4 3.12 -1 t3.12 0.6 q1.56 3.4 3.12 -1 t3.12 0.6 q1.56 -3.4 3.12 -1 t3.12 0.6 q1.56 3.4 3.12 -1 t3.12 0.6 q1.56 -3.4 3.12 -1 t3.12 0.6 q1.56 3.4 3.12 -1 t3.12 0.6" stroke="#35521c" stroke-width="3.3" fill="none" stroke-linecap="round"/><path d="M1522.6 850.0 q1.56 -3.4 3.12 -1 t3.12 0.6 q1.56 3.4 3.12 -1 t3.12 0.6 q1.56 -3.4 3.12 -1 t3.12 0.6 q1.56 3.4 3.12 -1 t3.12 0.6 q1.56 -3.4 3.12 -1 t3.12 0.6 q1.56 3.4 3.12 -1 t3.12 0.6" stroke="#6c8a34" stroke-width="1.6" fill="none" stroke-dasharray="2.5 3" transform="translate(0,-0.6)"/><path d="M1590.0 850.0 q1.55 -3.4 3.10 -1 t3.10 0.6 q1.55 3.4 3.10 -1 t3.10 0.6 q1.55 -3.4 3.10 -1 t3.10 0.6 q1.55 3.4 3.10 -1 t3.10 0.6 q1.55 -3.4 3.10 -1 t3.10 0.6 q1.55 3.4 3.10 -1 t3.10 0.6" stroke="#35521c" stroke-width="3.3" fill="none" stroke-linecap="round"/><path d="M1590.0 850.0 q1.55 -3.4 3.10 -1 t3.10 0.6 q1.55 3.4 3.10 -1 t3.10 0.6 q1.55 -3.4 3.10 -1 t3.10 0.6 q1.55 3.4 3.10 -1 t3.10 0.6 q1.55 -3.4 3.10 -1 t3.10 0.6 q1.55 3.4 3.10 -1 t3.10 0.6" stroke="#6c8a34" stroke-width="1.6" fill="none" stroke-dasharray="2.5 3" transform="translate(0,-0.6)"/><path d="M1522.6 862.7 q1.56 -3.4 3.12 -1 t3.12 0.6 q1.56 3.4 3.12 -1 t3.12 0.6 q1.56 -3.4 3.12 -1 t3.12 0.6 q1.56 3.4 3.12 -1 t3.12 0.6 q1.56 -3.4 3.12 -1 t3.12 0.6 q1.56 3.4 3.12 -1 t3.12 0.6" stroke="#35521c" stroke-width="3.3" fill="none" stroke-linecap="round"/><path d="M1522.6 862.7 q1.56 -3.4 3.12 -1 t3.12 0.6 q1.56 3.4 3.12 -1 t3.12 0.6 q1.56 -3.4 3.12 -1 t3.12 0.6 q1.56 3.4 3.12 -1 t3.12 0.6 q1.56 -3.4 3.12 -1 t3.12 0.6 q1.56 3.4 3.12 -1 t3.12 0.6" stroke="#6c8a34" stroke-width="1.6" fill="none" stroke-dasharray="2.5 3" transform="translate(0,-0.6)"/><path d="M1590.0 862.7 q1.55 -3.4 3.10 -1 t3.10 0.6 q1.55 3.4 3.10 -1 t3.10 0.6 q1.55 -3.4 3.10 -1 t3.10 0.6 q1.55 3.4 3.10 -1 t3.10 0.6 q1.55 -3.4 3.10 -1 t3.10 0.6 q1.55 3.4 3.10 -1 t3.10 0.6" stroke="#35521c" stroke-width="3.3" fill="none" stroke-linecap="round"/><path d="M1590.0 862.7 q1.55 -3.4 3.10 -1 t3.10 0.6 q1.55 3.4 3.10 -1 t3.10 0.6 q1.55 -3.4 3.10 -1 t3.10 0.6 q1.55 3.4 3.10 -1 t3.10 0.6 q1.55 -3.4 3.10 -1 t3.10 0.6 q1.55 3.4 3.10 -1 t3.10 0.6" stroke="#6c8a34" stroke-width="1.6" fill="none" stroke-dasharray="2.5 3" transform="translate(0,-0.6)"/><path d="M1522.6 875.3 q1.56 -3.4 3.12 -1 t3.12 0.6 q1.56 3.4 3.12 -1 t3.12 0.6 q1.56 -3.4 3.12 -1 t3.12 0.6 q1.56 3.4 3.12 -1 t3.12 0.6 q1.56 -3.4 3.12 -1 t3.12 0.6 q1.56 3.4 3.12 -1 t3.12 0.6" stroke="#35521c" stroke-width="3.3" fill="none" stroke-linecap="round"/><path d="M1522.6 875.3 q1.56 -3.4 3.12 -1 t3.12 0.6 q1.56 3.4 3.12 -1 t3.12 0.6 q1.56 -3.4 3.12 -1 t3.12 0.6 q1.56 3.4 3.12 -1 t3.12 0.6 q1.56 -3.4 3.12 -1 t3.12 0.6 q1.56 3.4 3.12 -1 t3.12 0.6" stroke="#6c8a34" stroke-width="1.6" fill="none" stroke-dasharray="2.5 3" transform="translate(0,-0.6)"/><path d="M1590.0 875.3 q1.55 -3.4 3.10 -1 t3.10 0.6 q1.55 3.4 3.10 -1 t3.10 0.6 q1.55 -3.4 3.10 -1 t3.10 0.6 q1.55 3.4 3.10 -1 t3.10 0.6 q1.55 -3.4 3.10 -1 t3.10 0.6 q1.55 3.4 3.10 -1 t3.10 0.6" stroke="#35521c" stroke-width="3.3" fill="none" stroke-linecap="round"/><path d="M1590.0 875.3 q1.55 -3.4 3.10 -1 t3.10 0.6 q1.55 3.4 3.10 -1 t3.10 0.6 q1.55 -3.4 3.10 -1 t3.10 0.6 q1.55 3.4 3.10 -1 t3.10 0.6 q1.55 -3.4 3.10 -1 t3.10 0.6 q1.55 3.4 3.10 -1 t3.10 0.6" stroke="#6c8a34" stroke-width="1.6" fill="none" stroke-dasharray="2.5 3" transform="translate(0,-0.6)"/><path d="M1522.6 888.0 q1.56 -3.4 3.12 -1 t3.12 0.6 q1.56 3.4 3.12 -1 t3.12 0.6 q1.56 -3.4 3.12 -1 t3.12 0.6 q1.56 3.4 3.12 -1 t3.12 0.6 q1.56 -3.4 3.12 -1 t3.12 0.6 q1.56 3.4 3.12 -1 t3.12 0.6" stroke="#35521c" stroke-width="3.3" fill="none" stroke-linecap="round"/><path d="M1522.6 888.0 q1.56 -3.4 3.12 -1 t3.12 0.6 q1.56 3.4 3.12 -1 t3.12 0.6 q1.56 -3.4 3.12 -1 t3.12 0.6 q1.56 3.4 3.12 -1 t3.12 0.6 q1.56 -3.4 3.12 -1 t3.12 0.6 q1.56 3.4 3.12 -1 t3.12 0.6" stroke="#6c8a34" stroke-width="1.6" fill="none" stroke-dasharray="2.5 3" transform="translate(0,-0.6)"/><path d="M1590.0 888.0 q1.55 -3.4 3.10 -1 t3.10 0.6 q1.55 3.4 3.10 -1 t3.10 0.6 q1.55 -3.4 3.10 -1 t3.10 0.6 q1.55 3.4 3.10 -1 t3.10 0.6 q1.55 -3.4 3.10 -1 t3.10 0.6 q1.55 3.4 3.10 -1 t3.10 0.6" stroke="#35521c" stroke-width="3.3" fill="none" stroke-linecap="round"/><path d="M1590.0 888.0 q1.55 -3.4 3.10 -1 t3.10 0.6 q1.55 3.4 3.10 -1 t3.10 0.6 q1.55 -3.4 3.10 -1 t3.10 0.6 q1.55 3.4 3.10 -1 t3.10 0.6 q1.55 -3.4 3.10 -1 t3.10 0.6 q1.55 3.4 3.10 -1 t3.10 0.6" stroke="#6c8a34" stroke-width="1.6" fill="none" stroke-dasharray="2.5 3" transform="translate(0,-0.6)"/><path d="M1522.6 900.6 q1.56 -3.4 3.12 -1 t3.12 0.6 q1.56 3.4 3.12 -1 t3.12 0.6 q1.56 -3.4 3.12 -1 t3.12 0.6 q1.56 3.4 3.12 -1 t3.12 0.6 q1.56 -3.4 3.12 -1 t3.12 0.6 q1.56 3.4 3.12 -1 t3.12 0.6" stroke="#35521c" stroke-width="3.3" fill="none" stroke-linecap="round"/><path d="M1522.6 900.6 q1.56 -3.4 3.12 -1 t3.12 0.6 q1.56 3.4 3.12 -1 t3.12 0.6 q1.56 -3.4 3.12 -1 t3.12 0.6 q1.56 3.4 3.12 -1 t3.12 0.6 q1.56 -3.4 3.12 -1 t3.12 0.6 q1.56 3.4 3.12 -1 t3.12 0.6" stroke="#6c8a34" stroke-width="1.6" fill="none" stroke-dasharray="2.5 3" transform="translate(0,-0.6)"/><path d="M1590.0 900.6 q1.55 -3.4 3.10 -1 t3.10 0.6 q1.55 3.4 3.10 -1 t3.10 0.6 q1.55 -3.4 3.10 -1 t3.10 0.6 q1.55 3.4 3.10 -1 t3.10 0.6 q1.55 -3.4 3.10 -1 t3.10 0.6 q1.55 3.4 3.10 -1 t3.10 0.6" stroke="#35521c" stroke-width="3.3" fill="none" stroke-linecap="round"/><path d="M1590.0 900.6 q1.55 -3.4 3.10 -1 t3.10 0.6 q1.55 3.4 3.10 -1 t3.10 0.6 q1.55 -3.4 3.10 -1 t3.10 0.6 q1.55 3.4 3.10 -1 t3.10 0.6 q1.55 -3.4 3.10 -1 t3.10 0.6 q1.55 3.4 3.10 -1 t3.10 0.6" stroke="#6c8a34" stroke-width="1.6" fill="none" stroke-dasharray="2.5 3" transform="translate(0,-0.6)"/><path d="M1522.6 913.2 q1.56 -3.4 3.12 -1 t3.12 0.6 q1.56 3.4 3.12 -1 t3.12 0.6 q1.56 -3.4 3.12 -1 t3.12 0.6 q1.56 3.4 3.12 -1 t3.12 0.6 q1.56 -3.4 3.12 -1 t3.12 0.6 q1.56 3.4 3.12 -1 t3.12 0.6" stroke="#35521c" stroke-width="3.3" fill="none" stroke-linecap="round"/><path d="M1522.6 913.2 q1.56 -3.4 3.12 -1 t3.12 0.6 q1.56 3.4 3.12 -1 t3.12 0.6 q1.56 -3.4 3.12 -1 t3.12 0.6 q1.56 3.4 3.12 -1 t3.12 0.6 q1.56 -3.4 3.12 -1 t3.12 0.6 q1.56 3.4 3.12 -1 t3.12 0.6" stroke="#6c8a34" stroke-width="1.6" fill="none" stroke-dasharray="2.5 3" transform="translate(0,-0.6)"/><path d="M1590.0 913.2 q1.55 -3.4 3.10 -1 t3.10 0.6 q1.55 3.4 3.10 -1 t3.10 0.6 q1.55 -3.4 3.10 -1 t3.10 0.6 q1.55 3.4 3.10 -1 t3.10 0.6 q1.55 -3.4 3.10 -1 t3.10 0.6 q1.55 3.4 3.10 -1 t3.10 0.6" stroke="#35521c" stroke-width="3.3" fill="none" stroke-linecap="round"/><path d="M1590.0 913.2 q1.55 -3.4 3.10 -1 t3.10 0.6 q1.55 3.4 3.10 -1 t3.10 0.6 q1.55 -3.4 3.10 -1 t3.10 0.6 q1.55 3.4 3.10 -1 t3.10 0.6 q1.55 -3.4 3.10 -1 t3.10 0.6 q1.55 3.4 3.10 -1 t3.10 0.6" stroke="#6c8a34" stroke-width="1.6" fill="none" stroke-dasharray="2.5 3" transform="translate(0,-0.6)"/><path d="M1522.6 925.9 q1.56 -3.4 3.12 -1 t3.12 0.6 q1.56 3.4 3.12 -1 t3.12 0.6 q1.56 -3.4 3.12 -1 t3.12 0.6 q1.56 3.4 3.12 -1 t3.12 0.6 q1.56 -3.4 3.12 -1 t3.12 0.6 q1.56 3.4 3.12 -1 t3.12 0.6" stroke="#35521c" stroke-width="3.3" fill="none" stroke-linecap="round"/><path d="M1522.6 925.9 q1.56 -3.4 3.12 -1 t3.12 0.6 q1.56 3.4 3.12 -1 t3.12 0.6 q1.56 -3.4 3.12 -1 t3.12 0.6 q1.56 3.4 3.12 -1 t3.12 0.6 q1.56 -3.4 3.12 -1 t3.12 0.6 q1.56 3.4 3.12 -1 t3.12 0.6" stroke="#6c8a34" stroke-width="1.6" fill="none" stroke-dasharray="2.5 3" transform="translate(0,-0.6)"/><path d="M1590.0 925.9 q1.55 -3.4 3.10 -1 t3.10 0.6 q1.55 3.4 3.10 -1 t3.10 0.6 q1.55 -3.4 3.10 -1 t3.10 0.6 q1.55 3.4 3.10 -1 t3.10 0.6 q1.55 -3.4 3.10 -1 t3.10 0.6 q1.55 3.4 3.10 -1 t3.10 0.6" stroke="#35521c" stroke-width="3.3" fill="none" stroke-linecap="round"/><path d="M1590.0 925.9 q1.55 -3.4 3.10 -1 t3.10 0.6 q1.55 3.4 3.10 -1 t3.10 0.6 q1.55 -3.4 3.10 -1 t3.10 0.6 q1.55 3.4 3.10 -1 t3.10 0.6 q1.55 -3.4 3.10 -1 t3.10 0.6 q1.55 3.4 3.10 -1 t3.10 0.6" stroke="#6c8a34" stroke-width="1.6" fill="none" stroke-dasharray="2.5 3" transform="translate(0,-0.6)"/><path d="M1522.6 938.5 q1.56 -3.4 3.12 -1 t3.12 0.6 q1.56 3.4 3.12 -1 t3.12 0.6 q1.56 -3.4 3.12 -1 t3.12 0.6 q1.56 3.4 3.12 -1 t3.12 0.6 q1.56 -3.4 3.12 -1 t3.12 0.6 q1.56 3.4 3.12 -1 t3.12 0.6" stroke="#35521c" stroke-width="3.3" fill="none" stroke-linecap="round"/><path d="M1522.6 938.5 q1.56 -3.4 3.12 -1 t3.12 0.6 q1.56 3.4 3.12 -1 t3.12 0.6 q1.56 -3.4 3.12 -1 t3.12 0.6 q1.56 3.4 3.12 -1 t3.12 0.6 q1.56 -3.4 3.12 -1 t3.12 0.6 q1.56 3.4 3.12 -1 t3.12 0.6" stroke="#6c8a34" stroke-width="1.6" fill="none" stroke-dasharray="2.5 3" transform="translate(0,-0.6)"/><path d="M1590.0 938.5 q1.55 -3.4 3.10 -1 t3.10 0.6 q1.55 3.4 3.10 -1 t3.10 0.6 q1.55 -3.4 3.10 -1 t3.10 0.6 q1.55 3.4 3.10 -1 t3.10 0.6 q1.55 -3.4 3.10 -1 t3.10 0.6 q1.55 3.4 3.10 -1 t3.10 0.6" stroke="#35521c" stroke-width="3.3" fill="none" stroke-linecap="round"/><path d="M1590.0 938.5 q1.55 -3.4 3.10 -1 t3.10 0.6 q1.55 3.4 3.10 -1 t3.10 0.6 q1.55 -3.4 3.10 -1 t3.10 0.6 q1.55 3.4 3.10 -1 t3.10 0.6 q1.55 -3.4 3.10 -1 t3.10 0.6 q1.55 3.4 3.10 -1 t3.10 0.6" stroke="#6c8a34" stroke-width="1.6" fill="none" stroke-dasharray="2.5 3" transform="translate(0,-0.6)"/><path d="M1522.6 951.2 q1.56 -3.4 3.12 -1 t3.12 0.6 q1.56 3.4 3.12 -1 t3.12 0.6 q1.56 -3.4 3.12 -1 t3.12 0.6 q1.56 3.4 3.12 -1 t3.12 0.6 q1.56 -3.4 3.12 -1 t3.12 0.6 q1.56 3.4 3.12 -1 t3.12 0.6" stroke="#35521c" stroke-width="3.3" fill="none" stroke-linecap="round"/><path d="M1522.6 951.2 q1.56 -3.4 3.12 -1 t3.12 0.6 q1.56 3.4 3.12 -1 t3.12 0.6 q1.56 -3.4 3.12 -1 t3.12 0.6 q1.56 3.4 3.12 -1 t3.12 0.6 q1.56 -3.4 3.12 -1 t3.12 0.6 q1.56 3.4 3.12 -1 t3.12 0.6" stroke="#6c8a34" stroke-width="1.6" fill="none" stroke-dasharray="2.5 3" transform="translate(0,-0.6)"/><path d="M1590.0 951.2 q1.55 -3.4 3.10 -1 t3.10 0.6 q1.55 3.4 3.10 -1 t3.10 0.6 q1.55 -3.4 3.10 -1 t3.10 0.6 q1.55 3.4 3.10 -1 t3.10 0.6 q1.55 -3.4 3.10 -1 t3.10 0.6 q1.55 3.4 3.10 -1 t3.10 0.6" stroke="#35521c" stroke-width="3.3" fill="none" stroke-linecap="round"/><path d="M1590.0 951.2 q1.55 -3.4 3.10 -1 t3.10 0.6 q1.55 3.4 3.10 -1 t3.10 0.6 q1.55 -3.4 3.10 -1 t3.10 0.6 q1.55 3.4 3.10 -1 t3.10 0.6 q1.55 -3.4 3.10 -1 t3.10 0.6 q1.55 3.4 3.10 -1 t3.10 0.6" stroke="#6c8a34" stroke-width="1.6" fill="none" stroke-dasharray="2.5 3" transform="translate(0,-0.6)"/><path d="M1522.6 963.8 q1.56 -3.4 3.12 -1 t3.12 0.6 q1.56 3.4 3.12 -1 t3.12 0.6 q1.56 -3.4 3.12 -1 t3.12 0.6 q1.56 3.4 3.12 -1 t3.12 0.6 q1.56 -3.4 3.12 -1 t3.12 0.6 q1.56 3.4 3.12 -1 t3.12 0.6" stroke="#35521c" stroke-width="3.3" fill="none" stroke-linecap="round"/><path d="M1522.6 963.8 q1.56 -3.4 3.12 -1 t3.12 0.6 q1.56 3.4 3.12 -1 t3.12 0.6 q1.56 -3.4 3.12 -1 t3.12 0.6 q1.56 3.4 3.12 -1 t3.12 0.6 q1.56 -3.4 3.12 -1 t3.12 0.6 q1.56 3.4 3.12 -1 t3.12 0.6" stroke="#6c8a34" stroke-width="1.6" fill="none" stroke-dasharray="2.5 3" transform="translate(0,-0.6)"/><path d="M1590.0 963.8 q1.55 -3.4 3.10 -1 t3.10 0.6 q1.55 3.4 3.10 -1 t3.10 0.6 q1.55 -3.4 3.10 -1 t3.10 0.6 q1.55 3.4 3.10 -1 t3.10 0.6 q1.55 -3.4 3.10 -1 t3.10 0.6 q1.55 3.4 3.10 -1 t3.10 0.6" stroke="#35521c" stroke-width="3.3" fill="none" stroke-linecap="round"/><path d="M1590.0 963.8 q1.55 -3.4 3.10 -1 t3.10 0.6 q1.55 3.4 3.10 -1 t3.10 0.6 q1.55 -3.4 3.10 -1 t3.10 0.6 q1.55 3.4 3.10 -1 t3.10 0.6 q1.55 -3.4 3.10 -1 t3.10 0.6 q1.55 3.4 3.10 -1 t3.10 0.6" stroke="#6c8a34" stroke-width="1.6" fill="none" stroke-dasharray="2.5 3" transform="translate(0,-0.6)"/>
<rect x="1559.6" y="820" width="30.6" height="154.2" rx="7" fill="url(#gTube)" stroke="#b05a10" stroke-width="1"/>
<rect x="1565.5" y="826" width="19" height="142" rx="5" fill="#9a5c2c"/>
<path d="M1569 841.0L1581 832.0M1569 841.0V847.0M1581 832.0V840.0M1569 853.3L1581 844.3M1569 853.3V859.3M1581 844.3V852.3M1569 865.6L1581 856.6M1569 865.6V871.6M1581 856.6V864.6M1569 877.9L1581 868.9M1569 877.9V883.9M1581 868.9V876.9M1569 890.2L1581 881.2M1569 890.2V896.2M1581 881.2V889.2M1569 902.5L1581 893.5M1569 902.5V908.5M1581 893.5V901.5M1569 914.8L1581 905.8M1569 914.8V920.8M1581 905.8V913.8M1569 927.1L1581 918.1M1569 927.1V933.1M1581 918.1V926.1M1569 939.4L1581 930.4M1569 939.4V945.4M1581 930.4V938.4M1569 951.7L1581 942.7M1569 951.7V957.7M1581 942.7V950.7M1569 964.0L1581 955.0M1569 964.0V970.0M1581 955.0V963.0M1569 832V964M1581 830V962" stroke="#26349e" stroke-width="1.8" fill="none"/>
<text class="b" x="1761.4" y="897.4" text-anchor="middle" font-size="22" textLength="209" lengthAdjust="spacingAndGlyphs">SWNT@PDA-PEG</text>
<text class="b" x="1762" y="925.3" text-anchor="middle" font-size="22" textLength="157" lengthAdjust="spacingAndGlyphs">nanoplatform</text>
<path d="M1576 977.5 Q1592 1000 1584 1024 L1590.5 1024.5 L1574 1037.5 L1567.5 1019.5 L1574.5 1022 Q1582 1000 1576 977.5Z" fill="#1a9ae8"/>
<rect x="1556.0" y="1043.7" width="13" height="19" fill="#56702c"/><path d="M1556.0 1047.7h13M1556.0 1052.7h13M1556.0 1057.7h13" stroke="#8aa050" stroke-width="1.4"/><rect x="1560.8" y="1042.2" width="3.4" height="22" fill="#7a3c1c"/>
<rect x="1583.4" y="1045" width="13" height="19" fill="#56702c"/><path d="M1583.4 1049h13M1583.4 1054h13M1583.4 1059h13" stroke="#8aa050" stroke-width="1.4"/><rect x="1588.2" y="1043.5" width="3.4" height="22" fill="#7a3c1c"/>
<rect x="1568.8" y="1071.7" width="13" height="19" fill="#56702c"/><path d="M1568.8 1075.7h13M1568.8 1080.7h13M1568.8 1085.7h13" stroke="#8aa050" stroke-width="1.4"/><rect x="1573.6" y="1070.2" width="3.4" height="22" fill="#7a3c1c"/>
<rect x="1585.3" y="1069" width="13" height="19" fill="#56702c"/><path d="M1585.3 1073h13M1585.3 1078h13M1585.3 1083h13" stroke="#8aa050" stroke-width="1.4"/><rect x="1590.1" y="1067.5" width="3.4" height="22" fill="#7a3c1c"/>
<path d="M1542.6 1056.7L1566.5 1086M1617 1050L1599.8 1114" stroke="#4a78a8" stroke-width="1.3" stroke-dasharray="5 3 1.5 3" fill="none"/>
<g transform="translate(1529.3,1088.6) rotate(25.8)"><rect x="0" y="-1.2" width="14" height="2.4" fill="#9ab"/><rect x="12" y="-5" width="3" height="10" fill="#8a9aa8"/><rect x="15" y="-3.6" width="52" height="7.2" fill="#d8f0f4" stroke="#708090" stroke-width="0.9"/><rect x="38" y="-3" width="8" height="6" fill="#2a8a88"/><path d="M22 -3.6v3M28 -3.6v3M34 -3.6v3M50 -3.6v3M56 -3.6v3" stroke="#556" stroke-width="0.7"/><path d="M67 0H86" stroke="#778" stroke-width="1"/></g>
<path d="M1641 1082 Q1617 1095 1609 1119 Q1607 1138 1630 1148 Q1660 1156 1699.5 1143 Q1750 1124 1792.6 1112.6 L1811.3 1111.2 Q1795 1106 1770 1110 Q1720 1122 1690 1134 Q1655 1146 1634 1138 Q1618 1128 1621 1112 Q1628 1096 1650 1088Z" fill="#f8e8d4" stroke="#d2a77e" stroke-width="1.8" stroke-linejoin="round"/>
<path d="M1822 1080 L1827.2 1095.3 L1836 1099 L1843.2 1100.6 L1838 1104 L1835.2 1106 L1826 1103 L1814 1094Z" fill="#f8e8d4" stroke="#d2a77e" stroke-width="1.6" stroke-linejoin="round"/>
<path d="M1672.9 1063.8 L1686.2 1069.2 L1688.9 1095.3 L1694.2 1102 L1680.9 1103.3 L1675.6 1092.6 L1660 1088Z" fill="#f8e8d4" stroke="#d2a77e" stroke-width="1.6" stroke-linejoin="round"/>
<path d="M1641 1082 Q1643 1068 1649 1055.4 Q1655 1038 1664.9 1026.1 Q1676 1012 1691.5 1004.8 Q1708 998 1726.1 998.2 Q1747 999 1766 1004.8 L1792.6 1015.5 L1813.9 1026.1 Q1816 1018 1819.2 1012.8 Q1824 1007 1829.9 1006.2 Q1836 1006 1839.2 1010.2 Q1837 1005 1837.9 1002.2 Q1843 1000 1848.5 1003.5 Q1856 1008 1857.8 1015.5 Q1859 1021 1856.5 1026.1 L1877.8 1036.8 L1899 1050 Q1904 1053 1904.4 1055.4 Q1902 1060 1896.4 1063.4 Q1890 1067 1883.1 1068.7 L1867.1 1071.3 L1845.8 1079.3 L1829.9 1087.3 Q1815 1090 1800 1084 L1790 1078 Q1778 1082 1766 1082 L1739.4 1086 L1712.8 1092.6 Q1690 1094 1672 1092 Q1655 1092 1641 1082Z" fill="#f8e8d4" stroke="#d2a77e" stroke-width="1.8" stroke-linejoin="round"/>
<path d="M1779.3 1069.2 L1787.3 1095.3 L1796 1097 L1800.6 1099.3 L1796 1102 L1790 1103.3 L1782 1100 L1774 1088 L1768 1074Z" fill="#f8e8d4" stroke="#d2a77e" stroke-width="1.6" stroke-linejoin="round"/>
<path d="M1700 1082 L1712 1094 L1728 1100 L1734.1 1103.3 L1730 1107 L1726.1 1110 L1716 1106 L1702.2 1100.6 L1690 1092Z" fill="#f8e8d4" stroke="#d2a77e" stroke-width="1.6" stroke-linejoin="round"/>
<path d="M1817 1026 Q1820 1014 1829 1010 Q1836 1012 1838 1022 Q1830 1030 1817 1026Z" fill="#f0d6c2"/>
<path d="M1672 1078 L1684 1076 L1688 1088Z" fill="#e8c4a8"/>
<ellipse cx="1865.5" cy="1047" rx="4.2" ry="2.4" fill="#1a1a1a" transform="rotate(14 1865.5 1047)"/>
<rect x="1620.4" y="1188.1" width="296.7" height="229.3" fill="#060606"/>
<path d="M1610.5 1311.4V1320.9L1616.2 1316.1Z" fill="#111"/>
<g filter="url(#bl1)">
<path d="M1651.6 1263.6 Q1668 1250 1690 1243 Q1705 1238 1714.6 1230 Q1726 1220 1740 1228 Q1752 1242 1762 1252 L1770 1261.7 Q1764 1272 1737.5 1282.7 Q1722 1288 1707 1286.5 Q1690 1287 1680.2 1282.7 Q1660 1276 1651.6 1263.6Z" fill="#3e3e3e" stroke="#7a7a7a" stroke-width="1.5"/>
<path d="M1692 1284 Q1696 1266 1708 1262 Q1722 1262 1730 1270 Q1736 1280 1734 1284 Q1712 1290 1692 1284Z" fill="#d8d8d8"/><ellipse cx="1710" cy="1268" rx="5" ry="4" fill="#222"/><ellipse cx="1716" cy="1279" rx="6" ry="4.5" fill="#1a1a1a"/>
<ellipse cx="1726.1" cy="1234.9" rx="15" ry="12.5" fill="#303030"/>
<path d="M1786.2 1265.5 Q1800 1252 1820 1246 Q1838 1240 1848.3 1233 Q1862 1224 1880 1232 Q1896 1246 1903.7 1259.8 Q1896 1272 1870 1280 Q1850 1286 1838.8 1284.6 Q1815 1284 1800 1278 Q1788 1272 1786.2 1265.5Z" fill="#3a3a3a" stroke="#8a8a8a" stroke-width="1.5"/>
<path d="M1806 1280 Q1822 1272 1830 1262 Q1842 1254 1856 1262 Q1866 1272 1872 1278 Q1840 1288 1806 1280Z" fill="#e4e4e4"/><ellipse cx="1838" cy="1270" rx="7" ry="5.5" fill="#1c1c1c"/>
<ellipse cx="1800" cy="1266" rx="8" ry="9" fill="#2a2a2a" stroke="#aaa" stroke-width="1.4"/>
<ellipse cx="1870.3" cy="1233" rx="15" ry="12.5" fill="#5c6468"/>
<path d="M1876 1248 L1884 1246 L1880 1252Z" fill="#fff"/>
<path d="M1655.4 1366.8 Q1670 1354 1692 1346 Q1710 1342 1716 1336 Q1730 1322 1744 1336 Q1752 1346 1762 1352 L1771.9 1361 Q1766 1376 1740 1388 Q1726 1394 1714.6 1393.5 Q1695 1394 1682 1388 Q1662 1380 1655.4 1366.8Z" fill="#161616" stroke="#9a9a9a" stroke-width="1.3"/>
<path d="M1690 1390 Q1696 1370 1710 1364 Q1724 1362 1734 1374 Q1742 1384 1740 1388 Q1716 1396 1690 1390Z" fill="#f0f0f0"/><ellipse cx="1712" cy="1372" rx="5" ry="4" fill="#222"/><ellipse cx="1722" cy="1384" rx="5" ry="3.5" fill="#333"/>
<ellipse cx="1729.9" cy="1334.3" rx="14.5" ry="11.5" fill="#a8b0b2"/><ellipse cx="1729" cy="1336" rx="7" ry="5" fill="#80888a"/>
<path d="M1790 1372 Q1803 1354 1828 1346 Q1850 1340 1872 1346 Q1894 1356 1898 1372 Q1888 1390 1860 1396 Q1835 1398 1813 1392 Q1795 1384 1790 1372Z" fill="#262626"/>
<ellipse cx="1858" cy="1378" rx="10" ry="8" fill="#4a4a4a"/><path d="M1822 1384 Q1830 1374 1842 1376 L1846 1390 Q1832 1394 1822 1384Z" fill="#5a5a5a"/>
</g>
<ellipse cx="1726.1" cy="1234.9" rx="16.2" ry="13.6" fill="none" stroke="#f01818" stroke-width="2.8" stroke-dasharray="8 3.2" transform="rotate(0 1726.1 1234.9)"/>
<ellipse cx="1870.3" cy="1233" rx="16.2" ry="13.6" fill="none" stroke="#f01818" stroke-width="2.8" stroke-dasharray="8 3.2" transform="rotate(15 1870.3 1233)"/>
<ellipse cx="1729.9" cy="1334.3" rx="16.2" ry="13.6" fill="none" stroke="#f01818" stroke-width="2.8" stroke-dasharray="8 3.2" transform="rotate(10 1729.9 1334.3)"/>
<ellipse cx="1852.1" cy="1335.2" rx="16.2" ry="13.6" fill="none" stroke="#f01818" stroke-width="2.8" stroke-dasharray="8 3.2" transform="rotate(0 1852.1 1335.2)"/>
<text class="b" x="1691.1" y="1213.6" font-size="18.2" text-anchor="start" textLength="67" lengthAdjust="spacingAndGlyphs" style="fill:#fff">Before</text>
<text class="b" x="1837.8" y="1213.6" font-size="18.2" text-anchor="start" textLength="48.7" lengthAdjust="spacingAndGlyphs" style="fill:#fff">After</text>
<text class="b" x="1626.7" y="1273.2" font-size="18.7" text-anchor="start" textLength="20" lengthAdjust="spacingAndGlyphs" style="fill:#fff">T1</text>
<text class="b" x="1626.7" y="1375.3" font-size="18.7" text-anchor="start" textLength="21" lengthAdjust="spacingAndGlyphs" style="fill:#fff">T2</text>
<text class="b" x="1620.4" y="1436.5" font-size="20" textLength="300.5" lengthAdjust="spacingAndGlyphs">enhanced T1&amp;T2 MR imaging</text>

</g>
</svg>
</body></html>
